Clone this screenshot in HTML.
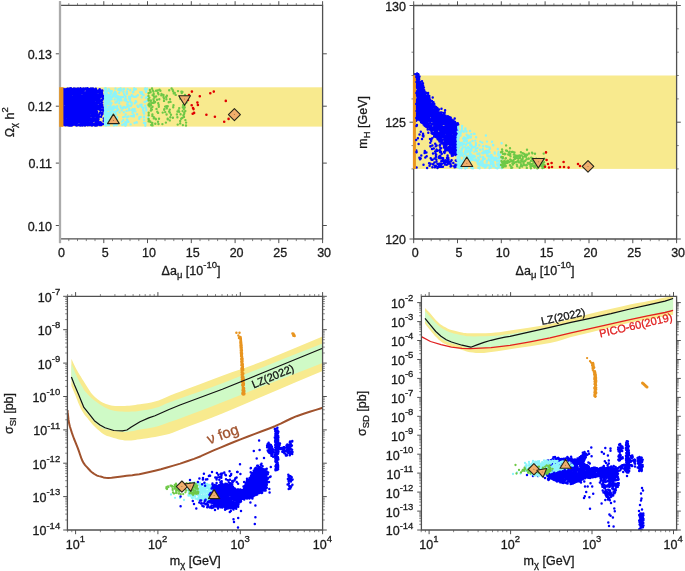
<!DOCTYPE html><html><head><meta charset="utf-8"><style>html,body{margin:0;padding:0;background:#fff;overflow:hidden}svg{display:block;will-change:transform}text{font-family:"Liberation Sans",sans-serif;stroke-width:0.3px}</style></head><body><svg width="685" height="571" viewBox="0 0 685 571">
<rect width="685" height="571" fill="#fff"/>
<defs>
<clipPath id="cTL"><rect x="60" y="5.4" width="262.6" height="233.5"/></clipPath>
<clipPath id="cTR"><rect x="413.7" y="5.5" width="262.9" height="233.5"/></clipPath>
<clipPath id="cBL"><rect x="67.4" y="296.3" width="255.2" height="233.7"/></clipPath>
<clipPath id="cBR"><rect x="421.4" y="296.3" width="255.2" height="233.7"/></clipPath>
</defs>
<g clip-path="url(#cTL)">
<rect x="60" y="87.3" width="262.6" height="39.3" fill="#f8ea8e"/>
<path d="M72.3 122.2h0M76 124.1h0M95.7 113.4h0M90.7 125.1h0M79 107.1h0M76.6 103.4h0M87.5 94.6h0M70.7 103.6h0M90.6 110.6h0M73.2 123.5h0M101.9 92.3h0M90.4 122.5h0M66.9 109.5h0M81.1 101.5h0M91.6 92.7h0M76.4 92.5h0M72 97.9h0M66.3 120.8h0M69.6 92.7h0M76.9 89.3h0M82.1 107h0M73.9 100.8h0M70.9 89.8h0M68.3 104.7h0M66.8 102.7h0M87.5 125.2h0M87.7 103.4h0M101.2 122.7h0M92.7 110h0M85.4 103.1h0M83.3 114.6h0M74.2 96.9h0M81.5 106.3h0M90.3 97.3h0M76.6 97.6h0M100 101.5h0M73.5 122.4h0M76.9 112.7h0M73.6 102.9h0M77.6 101h0M63.2 103.7h0M88.8 93.8h0M74.6 121h0M65.8 102.1h0M88.3 106.5h0M70.2 92.1h0M75.5 122.2h0M81.1 107.5h0M69.2 125.4h0M71.9 92.4h0M82.4 98.1h0M82.5 111.2h0M73.5 103.4h0M75.2 118.3h0M74.4 110.5h0M73.7 120.6h0M82.8 118h0M71.7 89.2h0M83.3 123.4h0M73.1 93.8h0M97.4 101.3h0M70.4 108.4h0M98.3 121.3h0M70.3 99.5h0M93.8 89.4h0M88.1 92.4h0M71.6 118h0M73.2 113.3h0M66.5 113.8h0M85 125.6h0M89 97.1h0M70.1 119.8h0M73.2 103h0M91.1 96.5h0M66.3 101h0M98.9 95.9h0M80.6 125.6h0M88.4 88.8h0M75.8 120.1h0M70.3 114.6h0M63.4 109.3h0M71.6 96.6h0M81.1 118.9h0M78.5 92.9h0M74.3 104.7h0M65.4 89.5h0M79.8 108.1h0M69.9 115.5h0M72.8 98.2h0M71.4 123h0M85.6 111.2h0M78 120h0M83.8 114.3h0M76.7 96.8h0M74.6 94h0M74.6 111.1h0M66.5 100.3h0M82.8 90.9h0M99.2 90.4h0M64.1 115.3h0M68 88.8h0M93.7 110.7h0M99.8 93.9h0M69.9 121.3h0M76.6 111.5h0M78.5 89.7h0M77.2 120.7h0M84.2 97.6h0M63.4 123.7h0M80.3 100.7h0M66.6 107.2h0M82.8 106h0M82.7 99.6h0M95.1 125.4h0M92 125.5h0M74.2 91.6h0M77.2 106.9h0M90.7 111.4h0M103.1 124.1h0M64.9 112.4h0M74.9 101.8h0M77.1 97.9h0M65.3 112.2h0M94.3 112.5h0M63.1 93h0M66.8 101.3h0M82.6 107.1h0M69.9 101.9h0M84.9 107.7h0M80.5 90.8h0M69.7 113.6h0M69.8 103.4h0M73.6 91.8h0M91.9 100h0M92.6 97.1h0M93 121.3h0M84.2 112.1h0M70.3 99.8h0M99.1 103.4h0M92.1 106.1h0M101.3 93.7h0M83.6 101.9h0M88.3 96.6h0M67.7 107.7h0M76 97.4h0M65.8 116h0M63.9 106.6h0M85 98h0M70.3 114.8h0M69 121.2h0M69.8 124.9h0M83.3 88.5h0M77 115.9h0M85.4 118.8h0M75.4 115.8h0M78.2 93.9h0M67.9 98h0M94.1 118.5h0M99.2 93.1h0M82.5 91.4h0M80.9 98.9h0M68.9 92h0M80.3 100.2h0M80 120.8h0M88.4 117.3h0M64.8 120.8h0M72 110.1h0M64.8 91.8h0M71.8 98.4h0M64.3 98.6h0M89.8 119.4h0M77.2 115.3h0M64.5 109.6h0M80.8 104.2h0M70 97.3h0M80.5 110.5h0M78.3 98.1h0M72.1 118.5h0M91.4 108.5h0M82.3 89.8h0M79.4 113.9h0M67.5 100.1h0M87.7 122.9h0M83.7 91.2h0M96.2 89.9h0M83.3 96.9h0M78.3 117.5h0M82.6 119.2h0M84.8 109h0M69.2 123.1h0M87.6 94.2h0M100.1 107.6h0M72.1 102.2h0M74.8 89.1h0M89.7 101.1h0M101.9 100.1h0M96.9 115.2h0M70.8 119.3h0M71.8 117h0M98.4 100.2h0M76.7 120.8h0M80.9 92.9h0M81.8 91.5h0M63.4 90.6h0M75.8 106.9h0M76.8 91.9h0M65.9 112.4h0M84 111.6h0M82.6 125.6h0M94.7 108.9h0M67 105.4h0M85.2 118.6h0M78 97.5h0M81.7 119.6h0M67.8 113.7h0M81.7 109.1h0M66.2 120.3h0M96.2 124.4h0M69.2 89h0M68.1 102.9h0M74.3 120.5h0M80.4 120h0M82.9 102h0M80.6 97.3h0M64.4 109.8h0M87.5 102.7h0M93.4 88.9h0M103.1 107.5h0M85.7 102.1h0M102 94.8h0M71.7 110.6h0M65.7 98h0M70 125.4h0M93.5 112h0M73.7 117.7h0M67.6 118.4h0M101.7 95.7h0M91 120.8h0M76.5 110.5h0M70.9 120.2h0M69.7 100h0M71.7 110.9h0M65.3 119.8h0M79.5 89.3h0M78.8 120h0M80.4 105.8h0M89.2 101.8h0M91.2 119.3h0M84.1 123.3h0M76.6 111.4h0M78.1 112.4h0M77.4 114.1h0M83.1 104.8h0M64.4 100.6h0M81.6 102.7h0M76 98.8h0M73 109.8h0M73.1 93.1h0M78.8 109.2h0M79.9 108.3h0M91.6 100.6h0M75.5 111h0M71.7 99.7h0M74.3 107.8h0M75 111.4h0M68.3 96.1h0M93.8 118.1h0M80.7 99.3h0M68.2 125.1h0M85 123.8h0M83 102h0M83.7 89.5h0M65.7 120.6h0M83.2 107.7h0M65.1 121.1h0M90.1 108.4h0M69.9 103.3h0M100.7 91.4h0M70.2 96h0M77.5 120.7h0M64.9 106.6h0M93 113.7h0M68 94.9h0M70.1 96.9h0M92.8 102.7h0M65 96.4h0M82.6 117.7h0M65.7 98.6h0M77.9 93.9h0M94.7 96.1h0M96.2 93.4h0M78.8 124.8h0M78.7 92.9h0M89.8 122.8h0M91 92.4h0M72.1 101.6h0M63 106.4h0M67.6 112.6h0M75.1 124.7h0M65.8 108.2h0M65.7 111h0M69.2 95.3h0M76.7 104.6h0M84.9 95.1h0M91.4 94.6h0M74.8 113.1h0M90.3 109.2h0M69.7 96.5h0M77.2 100.9h0M92.9 94.6h0M82 111.2h0M81.8 90.7h0M93.4 100.2h0M79.3 119.6h0M80.7 118.6h0M86.3 96.3h0M85.9 98.2h0M81.9 98.5h0M87.8 103.5h0M69.1 96h0M93.3 102.5h0M69.7 96.3h0M80.1 92.1h0M90 91.2h0M66 116.5h0M75.4 97.6h0M69.7 93h0M90.4 101.5h0M68 109.8h0M83.4 124.7h0M69.9 124.9h0M96.3 103.1h0M73 92h0M66.3 123.5h0M79.1 91.2h0M71.6 91h0M92.3 94.4h0M97.9 95.2h0M75.6 102.1h0M73.4 123.2h0M68.9 102.9h0M86.1 122.2h0M81.8 112.9h0M79.5 118.5h0M69.4 90h0M88.9 105.1h0M77.6 120.4h0M99.1 95h0M68.1 93.1h0M82.2 105h0M87 99.6h0M92.9 88.5h0M80.5 115.2h0M78.6 92.8h0M77.5 115.6h0M94.9 98.3h0M68.9 92.6h0M96.4 92.9h0M87.1 102.5h0M78.2 101.4h0M102.3 105.1h0M67.1 123.6h0M83.1 108.4h0M63.4 89.4h0M75.3 104.5h0M81.8 97.1h0M74.4 112.3h0M86.4 108.8h0M85 98.8h0M72.8 99.5h0M83.2 109.2h0M98.2 90.8h0M63.8 112h0M79.4 125.1h0M73.5 122h0M83 117.2h0M86.7 115.6h0M65.8 98.4h0M71.2 100.7h0M82 102.3h0M89.1 114.4h0M77 103.8h0M90.3 94.3h0M64.4 112.2h0M65.6 98.1h0M80.4 102.9h0M87.2 120.4h0M74.6 108.3h0M93.4 118.8h0M76.2 116.9h0M74.1 97.5h0M68.4 115.4h0M67 94.6h0M74.3 91.2h0M86.4 91.7h0M63.2 105.6h0M86.2 103.5h0M78.6 98.5h0M69.9 112.4h0M80 102.5h0M82.2 112.3h0M85.4 106.1h0M65.5 125.2h0M63.6 111.2h0M94.5 111.5h0M88.9 105.2h0M79.2 102.5h0M89.8 104.6h0M92.2 98.5h0M74.9 121.6h0M79.1 91.9h0M73.1 123.7h0M87.3 95.5h0M93.2 92.9h0M87.9 100.4h0M73.5 103.4h0M89.3 123.4h0M79.9 108.4h0M81.3 107.8h0M63.5 124h0M94.9 113.8h0M75 97.6h0M77.8 108.9h0M83.2 93.6h0M79.3 95.9h0M78.1 112.1h0M93.6 95.3h0M76.2 102.3h0M89 95.7h0M91 88.6h0M81 100h0M73.7 104.6h0M63.2 110.7h0M92.5 125h0M96.2 120h0M71.6 103.2h0M86.4 115.3h0M103.3 96.1h0M88.2 94.7h0M80 100.1h0M85.4 88.4h0M74.4 123.7h0M93.4 91h0M75.6 102h0M87.5 96.9h0M93.4 109.5h0M65.6 115.4h0M69.8 101.6h0M77.5 97.4h0M73.2 93.3h0M86.2 117h0M65 118.5h0M80.2 110.4h0M69.2 91.4h0M65.6 99.2h0M86.2 101.4h0M80 92.6h0M75.9 88.8h0M65.2 106.6h0M94.1 105.2h0M71.6 97.5h0M74 89.8h0M72.5 114.5h0M86.2 115.3h0M74.9 89.7h0M67.5 97h0M70.1 103.7h0M71.9 110.6h0M81.8 116.7h0M99.7 113h0M86 107.1h0M69.7 118.8h0M75.6 108.1h0M75.2 100.8h0M84 122.4h0M68 123.4h0M86 113.1h0M74.8 96.9h0M67.7 100.5h0M87.5 106.3h0M85.6 123.3h0M63.1 99.1h0M69.2 123.3h0M88.2 105.4h0M86.6 117.3h0M91.8 115.1h0M94.5 92.4h0M88 91h0M103.8 118.4h0M76.8 122.7h0M72.9 98.7h0M74 114.8h0M88.8 107.2h0M67.9 113.6h0M79.7 103.5h0M77.1 116.5h0M67.9 125.3h0M97 107h0M97.2 118.3h0M73.3 97.5h0M66.7 108.5h0M88.7 122.8h0M71.4 98.4h0M86.9 92.1h0M79 99.4h0M98.3 100.9h0M84.3 95.2h0M66.4 98.3h0M77.9 117.5h0M69 125.5h0M93.9 89.4h0M81.5 93.2h0M86.1 96.2h0M80.9 120.4h0M74.7 119.1h0M72.1 90h0M88.3 107.8h0M87.2 122.4h0M84.3 98.3h0M75.6 93.6h0M80.8 100.2h0M85.4 124.6h0M64.1 124.2h0M65.7 113.1h0M64.6 124.7h0M88.4 114.6h0M75.8 108.8h0M86.6 96.6h0M67.1 112.1h0M71 105.5h0M76.5 104.6h0M81.8 101.6h0M77.7 96.2h0M97.8 123.4h0M85.4 110.6h0M66.1 93h0M73.8 106.4h0M83.8 99.8h0M94.1 102.8h0M88.8 118.3h0M76.2 107.5h0M81.4 89.1h0M69.6 112h0M79.5 100.7h0M68.1 90.1h0M82.5 98.7h0M87.4 100.1h0M88.8 116.1h0M66.3 117.2h0M87.1 125.1h0M89.5 112.2h0M93 106.1h0M84.9 111h0M68.3 97.8h0M84.5 104.2h0M69.9 94.8h0M94.6 90.2h0M101.3 125h0M93.3 115.6h0M101.1 101.1h0M66.4 101.7h0M78 89h0M82.2 97.5h0M83.6 124.4h0M72.6 109.3h0M93.3 113.8h0M73.4 94.6h0M76.5 117.2h0M71.5 116.5h0M65.4 90.5h0M80.1 106.5h0M66.5 121.2h0M73.7 106h0M65.8 102.2h0M75.1 121.1h0M97.1 108.4h0M67.7 96.9h0M92.6 99.6h0M96.6 92.3h0M87.1 121.5h0M100 105.3h0M86.9 120.7h0M69.9 120.9h0M69.7 89.7h0M71 114.8h0M87.8 124.9h0M68.4 93h0M79.2 122.1h0M81.4 101.2h0M81.8 107.8h0M82.6 91.6h0M81.5 117.4h0M63.7 103.1h0M101.3 103.7h0M86.7 100.1h0M91.9 122.4h0M90.2 119h0M102.2 100.1h0M85.7 101.3h0M77.5 115.5h0M93.9 119.7h0M70.5 93.5h0M87.4 88.3h0M93.3 109.7h0M68.9 100.4h0M101.6 107.3h0M97.8 122.1h0M78.6 110h0M69.3 97.2h0M87.5 96.2h0M73.7 96.9h0M91.8 111.8h0M75.9 114.7h0M92.5 115.6h0M79 109.5h0M82.5 97.4h0M100.3 124.2h0M79.3 98.2h0M65.2 99.8h0M69.8 91.2h0M75 106.8h0M94.4 107.5h0M63 124.1h0M83.2 109.7h0M76.8 101.2h0M75.4 114.8h0M89.2 95.1h0M77.3 97.5h0M74.2 121.6h0M93.1 104.3h0M73.6 119.9h0M73.6 91.7h0M84.6 118.3h0M102.4 114h0M86.4 107.3h0M89.5 113.2h0M76.7 101.7h0M69.1 104h0M88.8 115.3h0M69.3 110.1h0M99.5 99.4h0M69.1 113.1h0M65.2 94h0M91.2 110h0M71.1 88.4h0M64.1 110.8h0M77.2 123h0M68.4 94.5h0M74.1 116.4h0M77.3 100.6h0M77.9 121.5h0M91.3 96h0M74.1 99h0M73.1 101.7h0M79.1 113h0M88.2 106.4h0M87.2 113.4h0M79.4 102.8h0M70.5 125.2h0M85.9 106.9h0M87.3 90.7h0M71.7 111.7h0M93.7 116.2h0M71.4 111.7h0M89.7 101.3h0M73 91.2h0M84.7 122.3h0M93.5 118.3h0M103 98.3h0M95 113.9h0M66.1 106.4h0M74.7 111.5h0M79.8 100.7h0M89.1 114.3h0M78.6 112.5h0M78.3 102h0M71 103.5h0M65.1 108.4h0M91.3 94.5h0M80.9 90.7h0M86.6 103.2h0M79.4 111.2h0M82.7 91.5h0M85.1 96.1h0M96.4 97.3h0M75.3 122.4h0M74.1 108.7h0M94.2 106.4h0M88.1 102.6h0M82.4 119.5h0M92.8 98.9h0M65.6 97.7h0M85.2 99.5h0M72.5 105.4h0M71.1 103.1h0M83.7 119.9h0M89.4 115.5h0M66.6 101.4h0M86.2 94.3h0M72.2 113.1h0M86.5 119h0M81.3 110.6h0M63.5 123.7h0M78.6 117.2h0M87.3 101.1h0M85.2 124.4h0M66.9 91.1h0M67.7 108h0M78.6 115.9h0M80.9 95.7h0M70.1 122h0M63.9 118.3h0M81.3 118.2h0M64.7 98.2h0M64.9 96h0M82.6 92.2h0M77.8 93.9h0M80.3 122h0M71.6 121.8h0M84.4 92.5h0M69.5 105h0M68.6 99.6h0M65.5 121.1h0M77.2 90.7h0M90 89.6h0M68.8 89.7h0M63.8 123.2h0M78.6 98.8h0M85.6 119.2h0M68.2 120.2h0M68.8 91.1h0M69.8 93.2h0M92.2 117.8h0M71.4 115.2h0M71.7 122.1h0M78.3 114.1h0M83.6 93.2h0M86.6 98.9h0M77.6 90.6h0M82.3 99.7h0M79.5 96.1h0M85.3 123h0M99.6 95.1h0M88.4 120.7h0M86.8 120.9h0M88.8 117.7h0M63.7 118.1h0M72.5 108.3h0M80 115.5h0M93.4 90.7h0M100.4 104.1h0M85.8 122.3h0M98.6 106.8h0M82.1 104.2h0M82.7 101.7h0M82 106.4h0M91.3 89.1h0M64.9 113.9h0M86.9 102.7h0M75.5 96.7h0M75 97.5h0M87.7 125h0M83.4 113.3h0M98.7 117.5h0M66.6 89.6h0M94.4 106h0M67.6 91.7h0M75.3 102.3h0M69.3 122.7h0M83.2 100.6h0M80.7 97.1h0M70.7 115.3h0M63.8 115.4h0M70.2 113.6h0M75.3 109.1h0M73.2 102.3h0M65.5 98.3h0M79.5 105.8h0M72.8 103.3h0M76.6 108h0M67.4 120.8h0M63.6 104h0M64.3 107.8h0M74.1 112.6h0M77.6 107.1h0M82.9 106.7h0M67.9 92.1h0M77.7 120.3h0M87.1 97.9h0M78 115.9h0M83.9 103.4h0M64.5 98.2h0M77.3 113.3h0M63.7 114.1h0M83 96.1h0M70.1 110.5h0M70.7 114.9h0M75.4 104.2h0M71.8 107.7h0M67.6 123.6h0M74.7 103.9h0M94.3 109.5h0M86.9 123h0M94.7 91.6h0M97.4 100.2h0M92.3 94.1h0M71.4 113.5h0M78.7 96h0M75.2 109.1h0M88.3 119.6h0M88.8 109.2h0M72.7 98.2h0M74.1 101.7h0M89.9 97.1h0M63.5 107.2h0M74 105h0M76.3 89.1h0M100.6 109.5h0M65.7 102.8h0M82.2 106.5h0M83.3 107.6h0M87.7 104.6h0M92.3 89h0M63.6 108.7h0M73 97.5h0M80.6 123.4h0M77.4 116.6h0M80.9 106.1h0M87.9 100.3h0M77.4 111h0M74.4 92.9h0M84.4 122.2h0M70.3 117.3h0M79.2 104.2h0M71.7 109.7h0M68.1 99.7h0M80.1 106.8h0M73.7 100.7h0M73.5 90.9h0M80.6 117h0M88.5 91.8h0M71.7 104.6h0M82.9 124.6h0M95.4 110h0M87.6 121h0M76.7 94.2h0M68.9 89.9h0M81.3 118.9h0M82.1 123.9h0M74.4 112.6h0M79 115.6h0M78.6 115.6h0M67.5 115.1h0M87.8 103.9h0M73.5 118.2h0M85.8 115.6h0M78 88.4h0M71.7 101.7h0M74.5 103.1h0M86.7 101.7h0M75.3 93.3h0M89.2 98.5h0M93.3 96.4h0M99.2 92.5h0M82.9 111.1h0M71.9 104.3h0M65.2 102.8h0M67.8 95.9h0M67.8 105.5h0M75.2 105.4h0M77 98.4h0M103 97h0M68.8 115.8h0M88.5 118.5h0M64.3 119.3h0M67.5 104.7h0M78.9 90.7h0M83.2 91.7h0M95.5 96.5h0M82.6 110.4h0M74.3 89h0M95.7 123h0M71.2 91.4h0M64 91.2h0M71.3 118h0M80.2 108.5h0M103.1 109.7h0M84.1 123.2h0M79.7 112.2h0M78.2 108.5h0M93.5 124.8h0M94.6 125.3h0M69 125.5h0M65.1 115.8h0M75.4 93.9h0M76.6 110.7h0M78.9 116.5h0M86.3 118.6h0M74.2 89.7h0M78.5 96.7h0M71.9 102.2h0M79.4 101.3h0M81.4 116.2h0M85.5 103.2h0M70.7 109.5h0M81.3 117.3h0M68.4 120.9h0M73 107.7h0M76.5 122.6h0M81.9 97.6h0M63.6 101.5h0M85.7 100.8h0M66.1 124.9h0M83.7 89.2h0M68.9 98.7h0M72.1 113.4h0M93.8 89.8h0M86.4 124.5h0M87.1 96.3h0M71 102.7h0M84.2 110.6h0M99.8 101.7h0M80.7 103.1h0M65.9 122.9h0M66 104.6h0M80.2 116.3h0M69.2 104.7h0M89.8 116.7h0M101.1 116.7h0M82.3 102.7h0M66.1 101.6h0M72.5 121.6h0M96.1 125.4h0M87.2 99h0M100.7 94.2h0M78.3 95.4h0M63.1 108.1h0M82.2 104.4h0M68.7 95.1h0M69.5 107h0M71.8 89.6h0M71.3 105.1h0M80.3 118.2h0M86.1 122.7h0M96.9 113h0M64.2 121.9h0M65.5 91.2h0M77.1 89.5h0M80.3 102.2h0M67 112.6h0M73.4 120.7h0M89.8 109.4h0M65.8 117.4h0M81.5 105.3h0M74.8 117.5h0M83.2 119.2h0M64.6 123.8h0M100.6 90.6h0M94.3 103.7h0M80.3 98.8h0M86.2 111.3h0M87.8 116.9h0M99.7 89.2h0M72.6 97.8h0M85.5 100.2h0M85.3 117.1h0M89 88.9h0M67.2 94.1h0M74.5 111.8h0M73.6 95.8h0M83 124.7h0M87.1 96.4h0M80.7 121.8h0M79.9 95.6h0M85 105.3h0M68 98.9h0M83.5 120.5h0M63.5 109.1h0M103.3 111.1h0M85.9 113h0M96.5 95.8h0M72.5 107.9h0M65.7 94.6h0M83 106.3h0M73.8 94.4h0M73.7 91.4h0M78.7 115.1h0M72.1 123.2h0M73.2 93.4h0M87.8 112.2h0M89.5 114.9h0M69.6 119.4h0M63.3 110.6h0M70.2 123.3h0M82.6 123.7h0M81.6 109.7h0M84 114.2h0M92.4 92.5h0M98.4 108.4h0M83.2 105.2h0M94.8 111.7h0M63.2 95.5h0M71.7 121.9h0M73.1 111.6h0M79 103.8h0M70.1 97.7h0M97.2 125.2h0M69.5 122.1h0M69.4 120.5h0M77.8 103.2h0M82.5 120.2h0M98.2 105.9h0M87.2 119.3h0M74.9 119.9h0M69.2 122.8h0M86.4 97.2h0M94.6 91.4h0M81.1 114.8h0M72.3 96.7h0M75.4 122.6h0M81.5 115.6h0M67.3 106.9h0M65.9 109.2h0M74.7 110.5h0M63.1 124.4h0M84.5 110.5h0M63.8 94.5h0M89.6 113.8h0M93.2 108.8h0M98.5 119.3h0M93.1 109.3h0M85.6 123.5h0M78.6 115.6h0M76.5 122.1h0M87.6 95.9h0M94.4 113.2h0M72.7 122.8h0M67.9 114.8h0M63.4 110.1h0M66.2 111.7h0M77.9 99.6h0M76.3 90.7h0M64.2 115.7h0M97.7 108.2h0M81.5 115h0M84.8 120.6h0M89.2 92.9h0M67.1 99.9h0M84.3 94.4h0M74.8 119.6h0M73 109.6h0M64.1 97.6h0M82.8 105.3h0M66.6 90.4h0M87.5 107.1h0M88.7 118.4h0M100.6 110.3h0M83.2 107.8h0M96.8 96.7h0M70.3 89h0M65.6 120.3h0M69.6 119h0M64.8 102.3h0M85 105.4h0M72.3 93.1h0M75.8 103.9h0M72.3 115.5h0M84.3 89.8h0M67.4 107h0M70.3 88.5h0M72.1 105h0M90.6 91.4h0M81.4 118.4h0M67.5 111.4h0M77.9 119.8h0M71.9 114.5h0M99.8 125.1h0M83.4 94.1h0M70.9 99.5h0M66.3 120.4h0M71.7 117.5h0M93.5 110.2h0M66.9 104.9h0M101.6 110h0M83.4 107h0M91.7 111h0M66.7 99.1h0M76.9 96.7h0M85.4 102.6h0M88.5 114.5h0M77.2 118.3h0M73.4 111.4h0M79.8 97.3h0M93 92.4h0M89.8 119.5h0M83.1 106.8h0M70.9 113.5h0M99.5 99.8h0M79.2 111.7h0M63.9 90.2h0M84.9 93.6h0M82.4 90h0M74.2 102.8h0M84.9 95.9h0M64.5 95.9h0M86.8 94.2h0M77.2 114.2h0M76.8 105.5h0M93.2 119.3h0M79.8 93.4h0M89.1 114.3h0M90.5 113h0M68.9 92.7h0M84.1 90h0M69.5 91.2h0M66.3 96.8h0M98.5 92.2h0M63.2 102.8h0M67 95.2h0M69.2 96.9h0M66.6 90h0M89.5 107.2h0M92.9 107.9h0M65.5 120.7h0M77 90.8h0M82 89.5h0M92.4 103.2h0M87.1 103.8h0M71.1 104h0M72.3 120.6h0M68.6 121.5h0M73.4 119.3h0M84.2 107.4h0M67.6 107h0M96.2 124.5h0M94.4 100.4h0M102.2 105.9h0M86 111.4h0M91.4 103.9h0M74.6 95.2h0M89.3 107.7h0M70.9 121.5h0M77.8 111.5h0M71.2 94.4h0M82.6 113.1h0M88.7 119.8h0M98.9 116.6h0M78.7 108.2h0M71.1 119h0M75.5 118.4h0M86.5 109.7h0M80.4 112.1h0M85.9 110.4h0M82.4 111.9h0M64.3 100h0M94 121h0M69.6 92.6h0M86.8 104.6h0M88 114.2h0M98.4 97.5h0M80.4 88.5h0M67.5 119.9h0M80.5 88.3h0M97.1 98.2h0M73.5 113.5h0M102.3 90.8h0M69 91.1h0M91.6 111.4h0M95.7 108h0M72.8 91.1h0M93.5 91.7h0M100.6 97.2h0M76.5 89.9h0M73.7 103h0M75.8 112.3h0M83.8 122h0M76.7 120h0M102.2 90.6h0M94.8 119.8h0M86.3 89.5h0M68.3 95.8h0M83.1 95.9h0M76.3 124.8h0M84 116.3h0M76.9 93.5h0M67.3 108.9h0M68.2 93.2h0M84.5 105.9h0M96.7 113.4h0M90.4 99.6h0M97.1 122.7h0M87 117.7h0M93.5 118.2h0M86.8 93.7h0M82.3 110.5h0M95.2 109.3h0M76.2 113.1h0M70.3 125.3h0M67.8 102.7h0M66.8 98.7h0M91.8 99.2h0M74 88.4h0M69.3 88.7h0M83.7 109h0M92.2 123.5h0M63.9 119.9h0M94.1 120.7h0M72.5 110.3h0M86.4 106.6h0M72.5 115.9h0M63.1 98.2h0M90.3 93.3h0M81.3 108.2h0M73.9 94.3h0M69.9 109.5h0M68.1 109.1h0M87.7 117.1h0M89 111.6h0M74.9 109.1h0M90.1 115.8h0M93.1 92.3h0M103.7 98.6h0M94 124h0M74.9 93.3h0M81.1 89.7h0M73.7 97.6h0M78.5 110.2h0M69.4 93.2h0M69.4 106h0M80 119.1h0M81.3 124.3h0M64.9 102.9h0M97 102.2h0M87.3 92.3h0M84.2 96.4h0M85.7 110.9h0M94.6 101.5h0M87.7 116.5h0M68.6 106.6h0M95.2 120.5h0M76.4 117.3h0M71.4 109.6h0M86.1 116.5h0M75.4 101.9h0M96.3 100.2h0M66.8 123.6h0M92.5 105h0M76.3 90.4h0M64.6 125.1h0M78 105.7h0M79.6 110.7h0M92.1 96.5h0M69.9 96.7h0M66.6 89.1h0M85.3 112.1h0M98.6 124.4h0M87.5 108.5h0M89.9 97.9h0M75.6 90.6h0M80 90.9h0M86.7 107.6h0M78.1 96.8h0M75.8 110.6h0M63.1 95h0M74.4 90.7h0M69.3 116.2h0M80.2 117.9h0M88.9 116.4h0M66.8 91.2h0M99.3 109.4h0M81.5 115.3h0M67.2 109.3h0M67.1 90.5h0M69 109.3h0M82.7 117.4h0M81.6 121.5h0M68.7 119.4h0M69.1 120.3h0M81 98h0M76.5 91.4h0M85.1 101.9h0M86.6 106.6h0M88.3 97.3h0M82 102h0M85.9 122.2h0M90.7 109.8h0M73.6 97.1h0M90.7 101h0M89.7 104.1h0M73.9 116h0M75.6 120.6h0M90.4 95.6h0M65.3 93h0M76.6 115.7h0M78.7 91.4h0M68.2 104.4h0M88.9 104.8h0M65.8 112.7h0M84.9 94.2h0M77 122.1h0M89.5 111.4h0M95.9 123.5h0M86.1 97h0M72.6 113.7h0M79 98.9h0M82.8 104.2h0M90.3 124.1h0M79 93.3h0M73.1 106.5h0M83 91.6h0M99.2 114.2h0M67.8 108.6h0M69.7 101.7h0M66.1 95.4h0M69.1 104.8h0M76.4 93.1h0M79.4 109.2h0M77.2 89.1h0M84.4 117.7h0M66.3 96.6h0M84.5 122.2h0M81.1 116.3h0M86.5 93.6h0M79.8 124.8h0M66.9 124.2h0M102.9 109.7h0M69.7 106.8h0M100.4 112.6h0M67.8 109.3h0M81.4 110h0M75 116.8h0M73.8 113.4h0M84.1 124.1h0M84.5 112h0M84.8 117.7h0M90.6 120.7h0M85.4 108.3h0M97.4 103.7h0M71.1 103.2h0M87.4 97.1h0M85 125.6h0M82.1 93.4h0M92.9 89.5h0M87.4 120h0M86.3 120.2h0M80.2 104.7h0M92.2 118.9h0M66.5 94.4h0M83.7 121.1h0M77.6 120.1h0M80.5 92.4h0M86.1 99.5h0M84.4 111.3h0M93.4 100.6h0M81.4 112h0M65.1 122.7h0M100.7 103.8h0M98.7 122.7h0M79.1 117.4h0M90.2 110.5h0M90.7 98.4h0M89.7 115.2h0M93.4 119.8h0M68.1 93.8h0M74.3 113.2h0M88.4 104.8h0M97.3 116.8h0M91.8 91h0M70.4 115.3h0M90.1 98.5h0M97.2 92.2h0M85.9 101.6h0M81 121.3h0M69.8 114.8h0M67.1 122.3h0M75.6 95h0M92.2 103.1h0M69.9 123.6h0M80.6 92.8h0M87.1 119.9h0M83.7 90.9h0M79.3 96.4h0M94.5 108.2h0M85.8 115.9h0M76.4 100.1h0M88.8 100.6h0M66.1 120.1h0M78.6 121.9h0M87.8 93.8h0M79.4 95.7h0M70.1 102.1h0M82.2 111.8h0M77.1 91.9h0M65.1 122.9h0M73.3 117.3h0M80 88.9h0M80.2 113.2h0M72.2 110h0M78.9 106.6h0M85.9 112.6h0M70.6 116h0M87.1 115.2h0M81.2 103.5h0M71.2 103.6h0M77.1 96.2h0M87.5 121.4h0M97.1 99.9h0M86 114.8h0M90.5 98.6h0M79.6 99.7h0M77.3 110h0M82.6 114.4h0M85.9 103.7h0M95.8 89.5h0M73.7 99.2h0M76.3 89.8h0M78.8 94h0M85.9 96.4h0M64.6 122.8h0M95 104.4h0M95.3 112.1h0M68.1 110.1h0M68.9 98.4h0M79.9 107.3h0M65.9 89.2h0M65.8 124h0M93.8 107.9h0M95.2 95.9h0M84 108.5h0M82.8 113.1h0M70 97.4h0M70.6 104.3h0M69.1 91.2h0M73.5 98.7h0M87 122.2h0M88.1 125.1h0M76.3 99.6h0M83.2 89.2h0M88.8 110.7h0M74.6 121.1h0M70.8 106.8h0M77.8 112h0M76.1 104.9h0M68 94.5h0M76.1 125.2h0M73.1 124.7h0M97.1 102.1h0M69.7 98.1h0M83.9 112.6h0M94.4 99.5h0M75.3 119h0M70.7 97.9h0M88.3 97.7h0M79.7 96.7h0M83.1 92.6h0M66.8 107.7h0M103.7 120.9h0M71.9 100.8h0M75.8 109.1h0M103.9 97h0M77.1 93.8h0M82.6 93.2h0M82.6 96.8h0M77 92.3h0M74.2 124.4h0M70 90.4h0M96.3 122.1h0M74.1 116.3h0M79.3 95.3h0M79 110.8h0M89.8 100.9h0M69.4 102.9h0M68.9 116.5h0M89.6 94.6h0M74.7 95.9h0M74.5 107.1h0M96 124.6h0M90.6 107.3h0M69.5 90.3h0M70.5 100h0M85 113.6h0M95.3 115.9h0M79.3 118.4h0M63.4 115.7h0M74.7 90.4h0M72.3 102.4h0M69.4 118.8h0M79.5 96.6h0M74.4 112.8h0M89.2 124.9h0M102.5 113h0M86.8 112.9h0M65.8 105.1h0M64.2 121.2h0M92.9 95.1h0M88.1 108.9h0M79.1 92.3h0M97.2 122.6h0M90.8 112.4h0M92.3 94.5h0M89.8 106.9h0M81.6 89.3h0M81.8 120.7h0M72 110.2h0M77.5 100.6h0M63.7 117.5h0M86.9 89.5h0M88.8 112.7h0M93.7 110.8h0M74.1 120.1h0M78.9 112.6h0M73.3 122.3h0M78.5 118.7h0M73.6 121.3h0M68.8 118.7h0M70.1 90.5h0M70.5 95.6h0M72.2 111.6h0M63.5 100.9h0M64.6 108h0M92.8 119.3h0M83.4 112.9h0M82.7 103.4h0M89.6 93.2h0M99.8 91.4h0M86.2 119.2h0M85.9 117.8h0M97.7 115h0M102.2 102.4h0M88.4 100.6h0M71.1 116.7h0M88.4 96.9h0M72.9 104.2h0M97.5 99.2h0M83.1 105.8h0M80.9 107.3h0M68 90.3h0M91.5 98.3h0M71.9 119.5h0M67.9 104.4h0M68.2 90.6h0M75.9 105.6h0M82 92.2h0M73.1 114.1h0M97.1 105.2h0M64.5 121.2h0M99.8 93.1h0M80.4 115.8h0M89.2 105.7h0M82.2 90.7h0M80.6 115.3h0M81 100.9h0M72 123.8h0M69.3 110h0M63.7 111.2h0M76.6 106.3h0M72.1 119.5h0M67.8 114.1h0M66.6 104h0M76.4 116.7h0M74.8 115.1h0M79 117h0M76.3 121.4h0M84.3 97.7h0M75.6 114.5h0M92.2 104.1h0M64.9 100.2h0M99.1 101.6h0M73.5 105.2h0M63.5 116.4h0M93 88.9h0M71.3 113h0M81 122.1h0M76.8 125.5h0M85.2 115.8h0M99.9 123.7h0M78.1 109.4h0M93.7 111.7h0M86.7 122.4h0M67.5 116.7h0M91.9 123.8h0M81.7 125.2h0M79.6 89.8h0M94.3 109.3h0M91.5 101.6h0M73.2 90.3h0M95.1 89.5h0M73.7 106.7h0M101.9 99.9h0M64.2 97.6h0M97.7 95.6h0M83.8 97.5h0M63.4 122.1h0M69.7 95h0M72.6 105.8h0M67.9 114h0M72.3 123h0M67.1 94.5h0M84.2 100.7h0M70.6 97.6h0M72.7 108.5h0M96.3 117.9h0M73.2 118.4h0M77.4 108.3h0M69.2 95.2h0M90.7 102.2h0M84.5 110.6h0M76.5 108.7h0M87.8 106.6h0M71.8 125.5h0M92 115.9h0M90.8 99.7h0M77.6 94.8h0M63.1 96.8h0M77 119h0M70.3 123.2h0M88.5 96.1h0M73.3 106.3h0M69.9 93.4h0M80.8 111.8h0M85.7 96.4h0M65.6 104.1h0M71.4 116.5h0M78.7 93.3h0M75.3 107.4h0M69.8 101h0M87.2 92.3h0M76.4 94.5h0M102.3 94.3h0M93.6 110h0M71.4 110.8h0M89.4 103.3h0M90.1 124.3h0M82.3 114.6h0M79.2 121.1h0M63.3 109.2h0M87.8 118.2h0M92.6 111h0M79 89.3h0M69 105.3h0M94.9 105.7h0M89.4 102.3h0M69.1 101.2h0M94.4 115.8h0M67.8 103.6h0M75.8 107.3h0M64.6 100.4h0M70.9 89.3h0M97 111.7h0M94 111h0M98.7 102.4h0M83.9 97.4h0M91.2 105.6h0M92.9 108.3h0M65.9 93.4h0M97.5 98.8h0M82.8 121.2h0M80.5 101.1h0M68.6 89.3h0M98.6 98.6h0M89.3 92.4h0M73.1 123.6h0M77.6 107.4h0M82.8 90.1h0M71.1 109.7h0M87.4 109.4h0M81.9 103.3h0M94.8 110.8h0M82.9 93.1h0M85.7 111.8h0M75.2 108.9h0M76.2 117.6h0M67 115.4h0M77.6 122h0M79.4 114.4h0M82.2 102.1h0M90.9 92.4h0M96.7 93.5h0M70.4 121.5h0M70.7 88.7h0M68 116.7h0M89.4 97.6h0M81.7 90.6h0M84.3 105.5h0M89.1 89.8h0M94.4 103.5h0M64 117.5h0M69.9 108.6h0M80.7 105.6h0M79.3 125.3h0M69.2 114.6h0M67.7 98.4h0M81 123.7h0M67.6 98h0M95.8 88.7h0M87.6 109.2h0M78.1 99.1h0M71.5 97.9h0M68.1 112.6h0M71 106.9h0M99.6 101.1h0M69 109.8h0M66.2 112.1h0M89.7 119.1h0M90.6 109.2h0M73.8 91h0M80.8 109.8h0M80.1 90.3h0M96.4 105.4h0M89.8 115.9h0M69.8 120.3h0M78.2 96.7h0M88.2 93.7h0M70.3 107.6h0M70.9 101.9h0M63.1 106.2h0M94.9 96.9h0M63.6 109.1h0M63.7 88.9h0M84.9 97.7h0M73.8 94h0M86.6 111.6h0M77.2 102.2h0M93.8 97.7h0M63.1 103h0M94.4 93.6h0M74.1 98.8h0M91.5 105.3h0M78.6 114.5h0M75.1 114.3h0M86.7 99.6h0M100.3 122.3h0M68.4 100.6h0M91.8 113.5h0M86.2 94.8h0M67.5 88.7h0M91.6 111.8h0M71.9 124.8h0M79.2 103h0M65.8 117.2h0M89.9 118.4h0M80.5 90.4h0M76.7 96.8h0M72.4 90.3h0M73 88.9h0M79.4 104.7h0M97 109.2h0M68.5 120.9h0M64 109.1h0M95.2 112.8h0M93.1 103.4h0M100.7 110.5h0M68.9 118.6h0M65.2 111.8h0M77.7 98.9h0M92.8 108.4h0M86.5 108.2h0M83.7 112.4h0M65.2 102.5h0M92.8 95.6h0M71.4 92.5h0M83.9 101.8h0M82.8 123.6h0M78.4 111.4h0M89.2 101.9h0M67.5 114h0M67.2 106h0M68.9 90.9h0M71.1 95.9h0M71 88.6h0M76.5 104.4h0M88.4 122.4h0M69.6 102h0M67.9 96.1h0M73 96.8h0M69.9 104.4h0M64.7 114.8h0M101.8 114.8h0M86.5 91.9h0M90.7 89.5h0" stroke="#0000fa" stroke-width="2.5" stroke-linecap="round" fill="none"/>
<path d="M142.1 107.2h0M140.7 117h0M105.1 107.2h0M127 93.8h0M126.2 124.7h0M146.3 110.6h0M134.8 89.6h0M106.1 112.6h0M105 92.3h0M138.2 106.9h0M125.3 122.3h0M105.7 107.8h0M105.1 107.2h0M144.1 120.1h0M106.5 118.9h0M117.4 95.9h0M105.4 95.8h0M117 97.6h0M113.1 95.3h0M105 92.7h0M114.5 117.8h0M105.1 116.3h0M105 88.7h0M110.1 90.8h0M107.3 122.9h0M111.2 108.8h0M115.6 111.4h0M110.6 92.8h0M115.5 92.5h0M107.2 117.4h0M108.7 106.8h0M130.7 105.9h0M105.3 114.2h0M107 96h0M126.7 92.8h0M125.7 96.5h0M121.7 97h0M108.4 90.7h0M124.6 100.3h0M130 99.1h0M105 118.8h0M145.2 105.6h0M105 100h0M117.7 122.2h0M105 122.6h0M140.3 105h0M116 114.5h0M114.2 94.9h0M124 107h0M141.7 92.3h0M124 88.9h0M115.4 102.5h0M120.6 88.4h0M132.9 96.3h0M141.6 104.8h0M108.3 101h0M105 92.5h0M111.7 113.4h0M105.5 92.7h0M126.5 101.3h0M124.5 95.3h0M107.6 112.8h0M122.9 97.1h0M111.9 114.4h0M105 122.7h0M118.3 123.1h0M114.8 106.8h0M105.8 124.2h0M106.7 103h0M125.3 98.3h0M111.3 97.6h0M107.4 110h0M105.1 105h0M114.7 107.2h0M109.6 97.3h0M105.1 109.4h0M130.7 102.3h0M134.4 96.9h0M126.9 91.5h0M105.2 118.2h0M108.9 108.8h0M108.3 122.2h0M105.1 97.1h0M105 97.8h0M112.5 107.1h0M108.5 124.3h0M105.3 105.4h0M126.9 119.6h0M106.2 103.1h0M111.3 121.3h0M109.7 100h0M105.1 112.4h0M134.6 123h0M112.4 110.7h0M112.6 96.8h0M115.4 118h0M107.3 117.2h0M127.4 120.9h0M107.4 116.5h0M110.8 92.1h0M120.7 98.9h0M109.6 107.4h0M105 103.4h0M105.1 125.1h0M105.3 94.7h0M132.9 92.3h0M108.5 122.3h0M106.4 101.3h0M109.4 96.2h0M133.9 115h0M105 118.3h0M106.1 116h0M107.1 93.6h0M105.9 123h0M109 117.2h0M125.4 125.5h0M109.4 114.4h0M105.3 96.7h0M106.6 121h0M106.8 121.3h0M105 104.5h0M106.8 98.7h0M105 112h0M105 108.8h0M113.4 106.4h0M141.7 97.3h0M105 117.4h0M105 116.9h0M117.2 106.1h0M146.1 91.9h0M111.8 115.1h0M111.5 120.4h0M142.3 93.6h0M139.2 118.7h0M109.6 123.1h0M109.2 96.7h0M105 111.8h0M105 102.3h0M105.6 116.6h0M133 116.2h0M128.3 105.6h0M105.1 120.7h0M141.4 93.8h0M126.8 107h0M106.7 112.6h0M105 117.1h0M109.7 112.5h0M106.2 105.9h0M106.3 112.6h0M128.6 116.5h0M117.5 108.6h0M105.4 100.9h0M124.7 124.1h0M123.4 91.7h0M111.5 103.1h0M109.6 97.3h0M117 107.8h0M145.4 122.9h0M106 114.3h0M105.3 92.6h0M130.2 90.3h0M144.1 113.7h0M112.7 119.6h0M111.1 93h0M105.4 90h0M105.2 95h0M123.8 124.2h0M105.1 111.7h0M105.3 116.3h0M110.9 104.1h0M135.3 111.3h0M105.5 115.3h0M105.1 100.5h0M109.5 119.6h0M106.6 91.5h0M107.1 109h0M105 115.3h0M111.7 123h0M105 111.4h0M110.7 93.4h0M105.8 112.5h0M105 99.8h0M117.4 99.9h0M106.5 125.2h0M112.7 116.5h0M128 102.2h0M108.2 103.7h0M105.2 117h0M105.2 98.6h0M108.6 121.9h0M105 123.4h0M108.4 114.7h0M106.4 106.7h0M137.5 105.8h0M105.6 120.1h0M145.3 125.5h0M112.1 123h0M107.5 114h0M134.2 88.4h0M131.7 104.5h0M131.6 95.9h0M122 121.6h0M105 105.3h0M108.4 113.3h0M145.3 88.4h0M116.5 102.4h0M127.2 104.3h0M105.8 104.8h0M106.9 124.3h0M118.3 99.6h0M106.5 94.1h0M144 117.3h0M129 110.3h0M114.8 96.2h0M130.6 124.4h0M110.5 105.8h0M105.7 88.4h0M147.1 88.8h0M119.2 103.2h0M105.4 94.5h0M106.5 91.4h0M109.7 91.4h0M105.2 111.1h0M147 100.7h0M118.3 109.7h0M118.9 96.6h0M121 90.3h0M105.5 120h0M118.9 89.2h0M106.3 95.1h0M105.7 103.1h0M137.1 114.2h0M135.8 101.2h0M123.4 89.3h0M110.5 94.2h0M117 118.7h0M133.3 110.9h0M108.4 98.7h0M105.3 119.8h0M145.9 97.7h0M106.2 118h0M124 106.9h0M105.1 106.7h0M111.5 103.1h0M126.5 110.9h0M144.2 113.5h0M126 99.5h0M143.9 122.9h0M105.1 116.8h0M129.1 108.4h0M106.5 122h0M105.1 91.9h0M109.4 120.6h0M109.5 116.2h0M134.6 109h0M144.9 89.2h0M106.8 103h0M107.5 101.8h0M112.5 109.5h0M110.2 104.6h0M111.8 91.3h0M117.2 117.3h0M109.5 113.7h0M144.6 101.9h0M111.2 119.7h0M122.8 108.2h0M106.3 95.7h0M105.3 90.9h0M111 122.4h0M119.5 112.4h0M115.3 113.5h0M105.1 115.6h0M136.3 102.1h0M129.2 98.5h0M141.2 105.8h0M113.3 96.3h0M120.9 107.6h0M119.4 99.2h0M105.3 88.8h0M105.1 92.4h0M105.7 124h0M131.5 110.2h0M105 116.4h0M133.4 92.1h0M114.7 99.5h0M105.4 112.5h0M136.2 96.5h0M109.6 109h0M105.4 88.9h0M106.3 104.9h0M108.8 96h0M111 92.6h0M105.1 120.4h0M105 100h0M105.7 95.3h0M132.7 109.1h0M105 109.3h0M110.8 98.6h0M143.3 107.9h0M105.2 123.3h0M140.2 92.3h0M106.6 93.5h0M120.1 90.6h0M123.4 107.1h0M147.3 96.7h0M107.7 122.6h0M105.2 122.6h0M105 116.7h0M145.1 102h0M120.4 106.1h0M137.8 95.2h0M105 119.8h0M144 116.6h0M134.8 103.2h0M115.5 92.2h0M123.8 112.3h0M113.9 120.7h0M145.3 124.3h0M132.6 113h0M105 103.7h0M106 125.4h0M105.1 118.5h0M108.1 116h0M105.3 99.3h0M108.9 125h0M114.1 108.6h0M105.6 124.1h0M127.7 89.1h0M146.3 109.7h0M105.8 108.8h0M110.3 122.8h0M128.5 121.8h0M107.9 113.4h0M131.6 102.6h0M110.4 113.5h0M115.9 97h0M105.4 114.6h0M138.5 106.8h0M130.1 100.7h0M105.5 111.8h0M105.2 109.4h0M116.1 93.8h0M125.9 124.2h0M117.8 98.6h0M110.8 119.5h0M113.4 122.4h0M145.8 107.8h0M126.6 122.4h0M124 124.2h0M134 89.9h0M105.6 106.6h0M105.3 114.8h0M122.2 124.7h0M109.4 117.4h0M125.7 125.3h0M105 107.1h0M125.7 114.4h0M106.5 94.7h0M105.8 103.9h0M116.2 96.4h0M107.9 123.8h0M147.9 117.6h0M136.5 122.2h0M106.2 101.5h0M124.8 116.6h0M105.1 95.9h0M117.2 108.8h0M110.9 111.6h0M143.8 111.8h0M127.6 120.3h0M130.2 97.4h0M123.2 117.1h0M111.7 108.7h0M108.3 99.3h0M109.1 120.2h0M107.4 96.1h0M105.1 99.8h0M126.2 99.5h0M113.9 112.3h0M105.5 92.8h0M105.8 119.9h0M108.5 101.5h0M131.8 95.1h0M107.8 94.9h0M105 122.2h0M105 114.9h0M111.1 108.7h0M128.6 105.4h0M108.6 123.3h0M118.4 89.7h0M113.6 107.3h0M113.6 116.5h0M107.7 123.4h0M105.1 113.1h0M111.2 113h0M112.6 120.5h0M106.1 120.9h0M105.1 101.7h0M105.1 100.4h0M119.3 100.7h0M114 125.3h0M110.5 92.5h0M121.6 110.4h0M106.4 101.7h0M131.2 116.1h0M112.2 118h0M113.9 93.2h0M105.1 112.5h0M115 91.7h0M105.6 88.3h0M119.8 89.5h0M105.7 122.9h0M105.1 94.5h0M115.7 124.7h0M106 107h0M129 96.7h0M108.7 121.9h0M125.4 107.7h0M120.4 97h0M108.8 99.2h0M111.3 93.6h0M127.2 117h0M105.5 112h0M123.2 120.2h0M110.4 95.6h0M106 119.3h0M105 120.9h0M146.2 89.7h0M105.9 105.5h0M116 121.3h0M105 88.8h0M119.2 92.7h0M128.2 121.9h0M105 106.7h0M110.5 102.3h0M116.7 125h0M143.4 95h0M132.8 115.9h0M105.3 109.7h0M105.2 107.9h0M105 120.9h0M136.8 122.6h0M107.3 119.6h0M106 110.2h0M111.6 99.2h0M142.3 94.3h0M108.7 89.3h0M106.4 104.4h0M115.5 122.9h0M108.1 99h0M135.9 89.3h0M133.9 116.4h0M109.4 109.8h0M124 94h0M116.9 101.7h0M108.6 102.2h0M139.5 117.3h0M115.5 88.6h0M108 97.7h0M116.8 111h0M116.6 107.8h0M108.4 99h0M143.1 109.9h0M143.4 112.2h0M105 114.1h0M109.9 94.9h0M115.4 118.5h0M105.9 89h0M127.9 106.2h0M121.4 100.4h0" stroke="#8cf4fa" stroke-width="2.4" stroke-linecap="round" fill="none"/>
<path d="M164 100.9h0M184.3 102.9h0M185.3 111h0M160.4 90.8h0M169.2 90.3h0M170.3 117.2h0M153 102.9h0M149.6 106.4h0M158.7 105h0M158 93h0M173.2 107.2h0M148.6 104.8h0M154.5 97.5h0M166.6 114.5h0M186.5 102.5h0M150.3 92h0M156.1 90.8h0M184 114.6h0M150.6 92.3h0M166.4 99.3h0M166.4 106.3h0M184.2 106.2h0M163.5 97h0M186 125.5h0M167.7 118.6h0M152.4 114.5h0M169.8 120.4h0M183.8 108.9h0M157.3 111.8h0M169.8 112.5h0M149.9 89.9h0M152.5 106.7h0M155.9 119.3h0M177.5 111.5h0M164.2 109.8h0M153.8 117.1h0M156.5 108.9h0M158.2 103.2h0M178.6 110.1h0M178 91.1h0M184.3 112.9h0M173.8 93.4h0M148.7 115.2h0M151.5 102.7h0M179.2 111.7h0M161.5 94h0M159 118.8h0M182.6 111.1h0M168.7 102.3h0M173.5 105.2h0M186.1 122.6h0M173.1 91.2h0M163.5 94.9h0M165.9 122.6h0M148.5 95.9h0M181.2 118.8h0M161.3 95.2h0M154.6 102.6h0M154 96.5h0M151.2 108.5h0M150.9 105h0M151.3 125h0M171.6 88.4h0M155.4 118.6h0M167.7 106.2h0M184.7 107.4h0M170.5 101.9h0M181.8 93.1h0M156.1 96.4h0M180.6 114.2h0M159.5 89.6h0M150.9 100.4h0M183.1 105.1h0M180.2 123.4h0M166.9 95.8h0M153.8 118.4h0M169.8 109.6h0M152 88.5h0M185 95h0M148.6 121.3h0M148.6 93.3h0M176.9 114.4h0M175.7 94.9h0M182.4 117.9h0M153.5 91.6h0M158.5 124h0M159.3 99.2h0M148.6 104.5h0M181.4 91.8h0M148.5 98.9h0M185.4 120.1h0M148.7 112.8h0M177.7 124.6h0M171 114.8h0M150.7 101h0M150.4 121.7h0M158.5 94.2h0M153.5 99.2h0M167.1 106.4h0M151.9 109.6h0M148.6 105.3h0M152.8 90.4h0M148.6 100.6h0M158 121.8h0M165.2 112.1h0M150.9 110.6h0M184 116.9h0M180.4 98.7h0M153.8 101h0M152.3 122.9h0M152.4 115.9h0M152.5 125.4h0M179.2 108.1h0M170 99.2h0M184.3 105.2h0M167.7 119.2h0M182.4 92h0M183.4 115.3h0M166.2 97h0M148.6 99.4h0M164 98.5h0M155.1 102h0M174.8 93h0M172.6 89.7h0M149.4 103.4h0M180.6 97.6h0M169.1 111.5h0M157.5 90.5h0M148.6 118.9h0M177.4 117.2h0M151.1 110.4h0M155.3 123.7h0M149.4 97.6h0M157 99.8h0M180.2 121h0M162.4 124.1h0M153.7 94h0M165.1 106.6h0M162.7 112.6h0M164.3 109.2h0M172.9 117.7h0M166.8 108.4h0M158.8 106.7h0M149.2 120.7h0M184.6 101h0M182.9 125.1h0M152.5 125.1h0M158.1 112.9h0M152.6 95.1h0M182.8 107.3h0" stroke="#6ec846" stroke-width="2.4" stroke-linecap="round" fill="none"/>
<path d="M191.9 91.6h0M199.8 96.3h0M210.3 93.2h0M213.8 91.6h0M225.8 100.9h0M191.7 105.3h0M193 108h0M197.4 102.5h0M197.9 105h0M192.7 113.7h0M194.1 112.9h0M206.4 114.8h0M214.9 116.8h0M224.2 121.7h0M228.6 118.9h0M193.5 109.1h0M188 100h0M189 95h0" stroke="#e00000" stroke-width="2.6" stroke-linecap="round" fill="none"/>
<path d="M113.4 114.1L119.3 123.6L107.5 123.6Z" fill="#f0ae6c" stroke="#262618" stroke-width="1.1" stroke-linejoin="round"/>
<circle cx="113.4" cy="120.4" r="0.5" fill="#8a6a40"/>
<path d="M184.6 105.3L190.5 95.8L178.7 95.8Z" fill="#f0ae6c" stroke="#262618" stroke-width="1.1" stroke-linejoin="round"/>
<circle cx="184.6" cy="99" r="0.5" fill="#8a6a40"/>
<path d="M234.4 108.6L240.4 114.6L234.4 120.6L228.4 114.6Z" fill="#f0ae6c" stroke="#262618" stroke-width="1.1" stroke-linejoin="round"/>
<circle cx="234.4" cy="114.6" r="0.5" fill="#8a6a40"/>
</g>
<path d="M60 5.4L60 1.2M60 238.9L60 243.1M103.8 5.4L103.8 1.2M103.8 238.9L103.8 243.1M147.5 5.4L147.5 1.2M147.5 238.9L147.5 243.1M191.3 5.4L191.3 1.2M191.3 238.9L191.3 243.1M235.1 5.4L235.1 1.2M235.1 238.9L235.1 243.1M278.8 5.4L278.8 1.2M278.8 238.9L278.8 243.1M322.6 5.4L322.6 1.2M322.6 238.9L322.6 243.1M60 225.5L55.8 225.5M322.6 225.5L326.8 225.5M60 163.1L55.8 163.1M322.6 163.1L326.8 163.1M60 106.2L55.8 106.2M322.6 106.2L326.8 106.2M60 53.8L55.8 53.8M322.6 53.8L326.8 53.8" stroke="#505050" stroke-width="1" fill="none"/>
<path d="M68.8 5.4L68.8 3.2M68.8 238.9L68.8 241.1M77.5 5.4L77.5 3.2M77.5 238.9L77.5 241.1M86.3 5.4L86.3 3.2M86.3 238.9L86.3 241.1M95 5.4L95 3.2M95 238.9L95 241.1M112.5 5.4L112.5 3.2M112.5 238.9L112.5 241.1M121.3 5.4L121.3 3.2M121.3 238.9L121.3 241.1M130 5.4L130 3.2M130 238.9L130 241.1M138.8 5.4L138.8 3.2M138.8 238.9L138.8 241.1M156.3 5.4L156.3 3.2M156.3 238.9L156.3 241.1M165 5.4L165 3.2M165 238.9L165 241.1M173.8 5.4L173.8 3.2M173.8 238.9L173.8 241.1M182.5 5.4L182.5 3.2M182.5 238.9L182.5 241.1M200 5.4L200 3.2M200 238.9L200 241.1M208.8 5.4L208.8 3.2M208.8 238.9L208.8 241.1M217.6 5.4L217.6 3.2M217.6 238.9L217.6 241.1M226.3 5.4L226.3 3.2M226.3 238.9L226.3 241.1M243.8 5.4L243.8 3.2M243.8 238.9L243.8 241.1M252.6 5.4L252.6 3.2M252.6 238.9L252.6 241.1M261.3 5.4L261.3 3.2M261.3 238.9L261.3 241.1M270.1 5.4L270.1 3.2M270.1 238.9L270.1 241.1M287.6 5.4L287.6 3.2M287.6 238.9L287.6 241.1M296.3 5.4L296.3 3.2M296.3 238.9L296.3 241.1M305.1 5.4L305.1 3.2M305.1 238.9L305.1 241.1M313.8 5.4L313.8 3.2M313.8 238.9L313.8 241.1" stroke="#777" stroke-width="0.9" fill="none"/>
<path d="M60 5.4H322.6V238.9H60Z" stroke="#505050" stroke-width="1.3" fill="none"/>
<line x1="60" y1="1.2" x2="60" y2="243.1" stroke="#ababab" stroke-width="2.3"/>
<rect x="59.2" y="87.2" width="4.2" height="39.6" fill="#e8941e"/>
<text x="61.5" y="256.6" font-size="12.5" text-anchor="middle" fill="#1a1a1a" stroke="#1a1a1a">0</text>
<text x="105.3" y="256.6" font-size="12.5" text-anchor="middle" fill="#1a1a1a" stroke="#1a1a1a">5</text>
<text x="149" y="256.6" font-size="12.5" text-anchor="middle" fill="#1a1a1a" stroke="#1a1a1a">10</text>
<text x="192.8" y="256.6" font-size="12.5" text-anchor="middle" fill="#1a1a1a" stroke="#1a1a1a">15</text>
<text x="236.6" y="256.6" font-size="12.5" text-anchor="middle" fill="#1a1a1a" stroke="#1a1a1a">20</text>
<text x="280.3" y="256.6" font-size="12.5" text-anchor="middle" fill="#1a1a1a" stroke="#1a1a1a">25</text>
<text x="324.1" y="256.6" font-size="12.5" text-anchor="middle" fill="#1a1a1a" stroke="#1a1a1a">30</text>
<text x="52" y="230.6" font-size="12.5" text-anchor="end" fill="#1a1a1a" stroke="#1a1a1a">0.10</text>
<text x="52" y="168.2" font-size="12.5" text-anchor="end" fill="#1a1a1a" stroke="#1a1a1a">0.11</text>
<text x="52" y="111.3" font-size="12.5" text-anchor="end" fill="#1a1a1a" stroke="#1a1a1a">0.12</text>
<text x="52" y="58.9" font-size="12.5" text-anchor="end" fill="#1a1a1a" stroke="#1a1a1a">0.13</text>
<text x="191" y="275.3" font-size="12.5" text-anchor="middle" fill="#1a1a1a" stroke="#1a1a1a">&#916;a<tspan font-size="9.5" dy="3">&#956;</tspan><tspan dy="-3"> [10</tspan><tspan font-size="9.5" dy="-7">-10</tspan><tspan dy="7">]</tspan></text>
<text transform="translate(14.2 122.3) rotate(-90)" font-size="12.5" text-anchor="middle" fill="#1a1a1a" stroke="#1a1a1a">&#937;<tspan font-size="9.5" dy="3">&#967;</tspan><tspan dy="-3"> h</tspan><tspan font-size="9.5" dy="-6.5">2</tspan></text>
<g clip-path="url(#cTR)">
<rect x="413.7" y="75.5" width="263" height="93.4" fill="#f8ea8e"/>
<path d="M441.6 123.4h0M419.1 77.5h0M454.4 134.8h0M438.6 125.9h0M453.5 151.5h0M433.8 129.8h0M450.7 146.6h0M437.3 125.8h0M428.3 116.2h0M432.5 129.7h0M428.7 109.4h0M440.3 130.8h0M436.6 135.2h0M431.2 123.9h0M444.6 116.4h0M428.9 120.1h0M442.5 115.5h0M444.2 138.3h0M425.3 121.5h0M438.5 139.4h0M429.8 115.5h0M454.8 144.8h0M450.8 123.8h0M456.2 124.4h0M441.1 138.7h0M453.3 123h0M425.7 115.7h0M450 142h0M446.2 131.4h0M454.3 139.3h0M421.8 114h0M430.7 108.2h0M420.5 108.7h0M456.5 137.2h0M453.3 152.4h0M434.5 110.8h0M450.5 136.3h0M443.4 143.7h0M456.3 143.6h0M417.7 115.6h0M428.2 101.9h0M430.6 109.6h0M455.5 123.1h0M423.4 103.2h0M428.4 104.7h0M420.4 83.3h0M433.9 112.5h0M452.8 122.8h0M416.4 79h0M416.2 91.8h0M424.1 115.9h0M456.7 133.5h0M416.5 116.2h0M420.4 107.5h0M452.8 142.7h0M425.1 117.9h0M456 143.6h0M447.8 144h0M417.9 106.4h0M430.7 113.2h0M451.5 125.8h0M427.6 126.2h0M425 124.9h0M433.4 112.3h0M450 119.9h0M455.5 144.1h0M454.7 144.5h0M445.9 124.1h0M432.6 107.5h0M421.7 98.3h0M430.7 105.9h0M427.6 106.7h0M427.8 113.1h0M428.9 126.8h0M424 107.5h0M423.1 93.7h0M428.5 110.8h0M436.4 130.2h0M417.6 85.7h0M440.8 119.1h0M452.6 122.1h0M419.3 88.8h0M429.8 119.5h0M456.7 142.8h0M440.5 133.4h0M445.9 147.7h0M429.4 116.2h0M441.2 126.8h0M434.3 125.4h0M430.9 111h0M434.5 115.2h0M448.9 126.2h0M416.7 105.1h0M444 120.6h0M448.5 119.7h0M454.1 126.1h0M454.6 129.8h0M450.6 123.3h0M421 101.1h0M433.5 118.5h0M428.7 107.2h0M454.4 124.8h0M456.9 140h0M456.6 142h0M420.7 89.3h0M435.5 110.4h0M425.1 112.9h0M443.1 115.8h0M441.6 119.3h0M418.6 119.3h0M418.3 82.4h0M446.5 118.1h0M426.1 126.7h0M443.7 128h0M424.1 96.1h0M445.2 119.8h0M447.4 141.7h0M455.2 154.7h0M434.7 129.1h0M440.9 122.4h0M446 142.4h0M436.1 112.6h0M427.1 108.6h0M422.7 98.8h0M437 127.6h0M448.2 133.6h0M425 94.2h0M454 125.1h0M423 104.3h0M456.1 124.9h0M443.9 133.3h0M418.6 115.7h0M443.6 123.5h0M442.6 131.3h0M451.1 137h0M416.8 83.1h0M416.1 93.8h0M454.7 151.2h0M437.9 112.4h0M453.1 148.3h0M427.3 107h0M428.6 105.6h0M417.8 108.7h0M433.1 112.6h0M427.2 122.2h0M455.3 127.5h0M448.9 128.7h0M444.8 142.1h0M435.2 133.8h0M426.6 127.1h0M419.5 110h0M452.4 144.7h0M436.2 111.5h0M421.3 102.7h0M431.5 127.4h0M435.3 120.5h0M416.4 115.8h0M436.6 123.4h0M418.8 83.5h0M452.7 140h0M453.1 150.7h0M449.8 124.8h0M455.8 130.2h0M422.4 104h0M432.3 105.5h0M425.1 116h0M453.7 139.8h0M423.9 101.9h0M419.2 81.5h0M456 128.5h0M419.4 98.1h0M433.7 128.5h0M418.9 79.5h0M456.9 153.3h0M426 106.8h0M450.4 135h0M443.4 119.7h0M450.4 139.2h0M425.4 112.3h0M421.5 93.3h0M452.3 139h0M423.8 108.4h0M453 140h0M421 93.8h0M436 131.7h0M421.4 93.5h0M429.6 103h0M439.2 113.3h0M446.1 118.3h0M445.5 146.3h0M439.8 114.2h0M450.9 123h0M429.8 101h0M438.1 136.1h0M456.2 129.4h0M456.2 142.8h0M421.3 102h0M437.8 110.6h0M450.1 142.6h0M427.3 101.5h0M418.5 116.4h0M416.8 78h0M435 130.5h0M455 126.9h0M440.8 113.1h0M447.6 142.3h0M428.3 111.3h0M427.9 118.1h0M417.9 102.7h0M429.7 113.4h0M433.2 114h0M448 130.1h0M443.3 143h0M452.1 120.8h0M430.8 129.3h0M420.9 116.6h0M432.2 114.1h0M424.5 104.1h0M416.8 87.6h0M416.6 95.2h0M448.8 141.7h0M443.7 122.4h0M437.6 118.9h0M426.6 114.6h0M437.5 117.1h0M451.7 132.3h0M417.8 89.5h0M445 129.8h0M422.5 117.6h0M418.5 118.8h0M427.6 100.1h0M423.9 120.4h0M457.9 138.1h0M441.4 143.2h0M438.9 114.1h0M448.1 128.5h0M448.6 134.3h0M429.5 100.1h0M436.7 114.9h0M426.9 115.7h0M435.6 108.3h0M417.3 96.6h0M420.9 92.6h0M418.7 97h0M456.3 127.1h0M418.8 84.4h0M442.1 121.1h0M445.8 139.5h0M422.4 116.8h0M440.2 123.7h0M420.9 118.3h0M445.9 129.2h0M418.6 111.8h0M429.3 115.2h0M444.9 142.5h0M453.7 136.2h0M449.2 133.4h0M417.6 106.1h0M446.5 145.1h0M422.9 120h0M437.5 117.7h0M422.9 96.7h0M426.7 126.8h0M434.1 118.9h0M418 115.6h0M417.9 77h0M432.9 129.4h0M416.9 101.8h0M428.6 124.6h0M421.2 90h0M448.9 136.3h0M421 100.7h0M448.5 128.1h0M426.2 115.4h0M443.6 144.5h0M441.2 140.9h0M442.4 122.4h0M451.1 144.5h0M453.3 120.6h0M427.4 117.2h0M420.9 102.3h0M420.9 93.7h0M440.3 140h0M430.1 127.8h0M438.3 136h0M423.9 109.6h0M449.5 142.8h0M447.6 121.4h0M455.3 128.4h0M422 122h0M421 103.8h0M429.9 105.4h0M427.1 115.1h0M427 107.9h0M424.5 100.6h0M417.7 89.5h0M419.6 102.3h0M436.6 124.4h0M451.4 148.6h0M429 100.6h0M453.3 147.8h0M427.7 122.7h0M434.7 130.6h0M433.3 130h0M432.4 112h0M418 89.8h0M436.6 134h0M446.8 119.1h0M447.2 123.9h0M424.8 109.6h0M451.1 132.4h0M423.4 111.4h0M456 151.8h0M428.9 119.2h0M428.6 108.6h0M446.9 137.1h0M433.7 123.5h0M436.6 122.6h0M433.8 113.6h0M421.2 110.2h0M441 137.2h0M417.9 108h0M423.6 113.2h0M425.1 111.4h0M422.8 101.1h0M418.9 77.7h0M423.9 115.9h0M421.9 92.9h0M425.3 95.5h0M424.6 124.3h0M420.3 109.9h0M419.4 82.8h0M424.7 96.9h0M448 137.9h0M436.4 130.9h0M427.8 127h0M424.5 115.8h0M417.4 111.9h0M437.6 126.9h0M434.2 120.3h0M417 105.6h0M419.9 81.8h0M438.5 123.8h0M440.1 118.8h0M454 122.6h0M447.3 123.3h0M442 124.6h0M419.9 101.2h0M454.7 129.9h0M432.7 132.8h0M439.3 128.4h0M457.7 139.4h0M434.2 119.5h0M429.7 115.8h0M417.3 96.7h0M439.5 141.4h0M439.5 126.8h0M423.6 103.8h0M422.3 122.6h0M417.7 76.8h0M439.5 139.9h0M434.2 126.7h0M429 120h0M448.5 140.6h0M455.4 146.3h0M449.6 142.4h0M456.3 142.6h0M442 116.3h0M425.2 108.4h0M418.9 90.3h0M416.8 75.3h0M456.3 129h0M419 114.4h0M416.6 91.5h0M432.8 106.3h0M453.9 133.1h0M428.6 108.5h0M447.8 132.8h0M448.2 134.7h0M454.7 145h0M425.8 120.6h0M424 107.5h0M422.5 122h0M435.1 114.8h0M442.2 121.9h0M434.3 124.8h0M420.3 118.5h0M444.5 139.3h0M439.2 134.9h0M432 124h0M427.9 116.5h0M422.3 107.3h0M416.6 103.6h0M445.1 132.4h0M416.8 87.7h0M451.7 122.4h0M438.4 117.9h0M428.4 114.2h0M421.3 105h0M423.4 115.5h0M437.6 122h0M440.8 125h0M420.9 100.7h0M445.4 140.2h0M437.5 124.6h0M446.4 135.4h0M421.3 113.2h0M425.8 101.9h0M434.6 132.6h0M436.5 128.8h0M451.5 137.4h0M456.6 136.4h0M450.3 119.1h0M429.1 125.7h0M425.7 94h0M416.4 113.4h0M418.2 110.6h0M446.2 137.2h0M455.8 148.3h0M429.9 119.1h0M441.9 125.1h0M420.2 114.8h0M419.1 88.7h0M453.3 137.9h0M429.2 119.5h0M424.6 102.2h0M431.6 107.4h0M419.3 83.4h0M425.8 126.4h0M421.7 112.8h0M440.4 122.5h0M453.1 142.5h0M422.4 96.1h0M454.8 138.7h0M435.3 135.1h0M422 112.3h0M436.2 115.4h0M437.2 111.9h0M427.9 127.2h0M455.6 129.6h0M424.5 106.3h0M417.3 117.4h0M433.9 112.2h0M442.8 133.6h0M443.5 143.2h0M443.2 133.4h0M454 133.1h0M430.2 128.8h0M451.8 143.6h0M419.7 119.3h0M437.1 121.1h0M455.6 138.4h0M442.4 121.2h0M437.1 127.6h0M454.4 140.4h0M448.1 139h0M441.4 138.1h0M456.3 146.5h0M433.9 116.5h0M439.3 134.4h0M417.8 116.9h0M452.9 142.7h0M438.8 121.8h0M435.1 128.5h0M419.7 84.2h0M454.6 126.2h0M428.6 106.2h0M428.7 102h0M437.4 124.3h0M443.1 116.9h0M456.2 135.4h0M449.8 149.7h0M438.5 114.4h0M453.6 138.4h0M441.2 131.7h0M454.3 126.8h0M424.4 100.7h0M429.3 111.9h0M425.3 97.3h0M434.8 116.9h0M426.8 102.7h0M457.5 130.3h0M436.8 130.1h0M433 110.7h0M452.1 154.9h0M423.8 102.7h0M422.6 121.5h0M416 102.1h0M423.5 112.8h0M449 143.4h0M448.1 127.9h0M447.3 121.3h0M439.1 120.5h0M428.1 107.7h0M427.1 98.2h0M445.7 119h0M419.1 104.4h0M452.8 153.7h0M443.5 123.8h0M447.1 133.8h0M452.1 140.6h0M420.4 114.5h0M423.3 98.9h0M440.3 134.1h0M453.1 131.1h0M453.1 148.7h0M439.4 119.3h0M453.2 150.8h0M443.9 143h0M422.5 107.7h0M421.4 113.9h0M450.9 119.6h0M442 115.4h0M425.4 100h0M455.2 144.6h0M423.7 114.8h0M418.4 115.3h0M435.2 129.3h0M425.6 111.9h0M426.2 108.3h0M445.4 115.9h0M455.3 130h0M427.6 102.4h0M444.2 120.1h0M437.2 131.5h0M435.4 128.8h0M428 105.1h0M441 140.4h0M449.6 122.3h0M450.4 151.3h0M428.2 123.8h0M442.8 136.7h0M455.3 151.2h0M449.7 146.8h0M429.5 116.9h0M430.4 119.9h0M442.2 124.2h0M439.2 120.8h0M447.9 136h0M456.4 147.4h0M440 112.6h0M426.9 109.4h0M424.5 107.7h0M422.8 114.5h0M420.7 101.7h0M422.5 95.9h0M421.1 114h0M450 151.9h0M457.4 147.9h0M442.8 117.3h0M445.1 131.8h0M442.6 116.3h0M455.7 154.3h0M449.2 118.3h0M446.2 130.1h0M453.2 150.9h0M452.5 129.7h0M447.2 136h0M432.6 119.7h0M430.9 112.5h0M440.5 130.8h0M431.9 116h0M437.1 117.3h0M452.6 147.8h0M454.2 139.2h0M445.7 130.8h0M449.5 121.2h0M434.4 120.9h0M447.9 150.2h0M449.6 142h0M421.5 119.6h0M436.9 112h0M456.4 153.1h0M432 111.5h0M439.4 117.5h0M429.9 106.7h0M436.3 122.4h0M416.2 111.1h0M437.1 111.1h0M428.1 121.4h0M452.5 121.1h0M445.1 141.6h0M452.2 124.5h0M418.3 105.3h0M443.5 122.7h0M421.5 90h0M452 128.2h0M443.5 133.4h0M439.3 123.9h0M429.9 104.9h0M427.4 97.3h0M450.4 145.6h0M425.5 118.7h0M431.4 131h0M417.4 85.1h0M441.2 131.7h0M420.7 111.2h0M420.3 97.7h0M455 133.1h0M445.6 122h0M428.2 106.1h0M426.2 104.6h0M419.4 111.9h0M451.4 130.5h0M457.3 152.8h0M450.5 135.2h0M457.1 146.3h0M427.1 103.9h0M416.6 93.7h0M425.7 105.5h0M421.5 112.3h0M423.8 106h0M451.5 153.9h0M417.5 107.6h0M452.6 143.1h0M416.3 92.5h0M437.8 137.9h0M453.3 142.5h0M454.3 154h0M439.1 120.8h0M455.9 152.5h0M428.5 127.1h0M433.1 123.5h0M419 81h0M421.2 113.3h0M437 109.4h0M435.8 135h0M420.4 84.2h0M424.2 117.4h0M433.9 134.5h0M419.6 109.9h0M417.1 116.3h0M417.3 76.4h0M422.8 111h0M451.6 121h0M450.6 125.4h0M422.1 120.2h0M422.9 96.2h0M433.2 130h0M450.7 129.7h0M449.6 117.9h0M449.5 147.8h0M454.1 147.2h0M456.4 125.9h0M440.5 113.1h0M437.8 110.6h0M444.3 146.2h0M454.7 128.8h0M439.5 129.7h0M430.2 102.2h0M417.6 87.9h0M421.9 113.2h0M455.4 127.3h0M447.6 118.4h0M433.7 113.2h0M446.7 133.9h0M455.5 154.9h0M425.2 121.1h0M419.9 83.9h0M443.8 118.7h0M449.3 138.4h0M454.2 148.5h0M451.6 138.1h0M426.3 124.1h0M427.9 127.7h0M428.8 121.1h0M437 112.9h0M437.2 119h0M436.8 116.3h0M431.3 109.2h0M454.9 142.9h0M425.3 105.2h0M454 148.2h0M418.3 87.4h0M456.6 126.1h0M423.3 100.7h0M423.5 115.2h0M430.8 103.8h0M421.3 97.2h0M418.2 114.9h0M437.5 133.1h0M452.3 151.8h0M418.9 112.1h0M426.5 123.7h0M439.2 122.5h0M453.1 149h0M428.4 115.8h0M435.5 127.8h0M448.1 122h0M417.3 93.7h0M424.6 93.1h0M439.9 135.4h0M444.8 132.6h0M431.6 112.2h0M428.3 115.2h0M435.6 134.3h0M448.3 138.2h0M417.1 116.2h0M416.3 108.1h0M425.9 115.4h0M419.1 115h0M434.8 107.6h0M452.3 151.2h0M455.6 134.6h0M420.2 110.4h0M445.9 116.6h0M432.8 106.1h0M456.3 129h0M426.5 107h0M444 116.5h0M440.2 119.8h0M445.6 116.8h0M446.2 142h0M439.2 140.5h0M436.2 130.7h0M427.3 98h0M426.6 111.6h0M417.3 108.4h0M418.2 102.1h0M451.9 150.9h0M446 146.9h0M422 95.2h0M446.7 117.8h0M417.8 111h0M443.1 121.7h0M433.2 115.3h0M447 119.5h0M433.7 120.8h0M438.1 129.5h0M444.6 130h0M451.8 148.6h0M419.1 95.6h0M427.6 119.4h0M430.1 110.8h0M450.8 139.5h0M431 114.8h0M423.8 120.9h0M427.1 96.6h0M420.7 90.4h0M417.9 86.5h0M451.6 151.5h0M450.7 140.9h0M457.1 153.2h0M425.9 113.3h0M416.7 110.2h0M419 95.8h0M444 121.9h0M417 115.8h0M425.6 93.6h0M431.3 125.2h0M451.7 123.6h0M455 153.8h0M453 143h0M424.8 125.8h0M433.7 128.4h0M451.6 135.9h0M444 145.4h0M437.3 112.1h0M440.9 122.6h0M442.5 130.1h0M421.3 89.8h0M423.4 112h0M423.7 117.4h0M430.7 109.7h0M432.5 120.9h0M434.9 132.1h0M454 132.1h0M451.6 124.4h0M428.5 119.7h0M439.1 119.2h0M421.4 100.2h0M419.4 87.4h0M439.7 132.5h0M454.9 140.7h0M454.7 139.7h0M425.2 109h0M444.7 131h0M455.2 123.4h0M453 150.8h0M428.2 101.1h0M426.4 109.8h0M454.6 152h0M454.2 142h0M455.3 138.9h0M430.1 102.4h0M426.9 99.4h0M445.6 145.2h0M434.9 129.5h0M439 122h0M438.7 121.5h0M443.8 126.9h0M450.9 126.1h0M419.6 105.9h0M444.9 129.1h0M437.8 111.8h0M419.3 82h0M420.1 81.7h0M427.6 125.3h0M452.3 130.4h0M416.4 94.3h0M424.5 98.3h0M418.2 100.4h0M424 91.1h0M421.9 101.5h0M438.6 112.8h0M442.9 119.3h0M431.3 125.4h0M451.6 121.6h0M450.3 136h0M418.9 117.8h0M418.5 110.7h0M441.4 124.8h0M446.6 143.8h0M424.4 107.6h0M452.8 138.7h0M445.9 132.9h0M436.5 118.5h0M436.1 129.3h0M428.9 118.8h0M433.4 124.2h0M420.6 112h0M428.2 118.1h0M428.3 117h0M452.3 136.2h0M432 114.2h0M417.7 108.4h0M423.8 106.8h0M424.2 116.3h0M446.6 144.2h0M426.2 98h0M441.9 133.7h0M450 152.6h0M435.9 136.9h0M439 118.3h0M454.4 145.9h0M418.5 118.7h0M448.6 131.6h0M454.9 137.2h0M443.9 136.9h0M438.1 127.3h0M424.5 121h0M445.8 142.5h0M419.2 114.5h0M452.4 124h0M427.4 118.1h0M422.4 105.8h0M424.1 103.9h0M449.6 123.7h0M425 112.3h0M436.1 126.4h0M425.6 108.4h0M426.7 96.3h0M420.9 102.2h0M449.1 124.8h0M425.7 115h0M425.5 114.4h0M421.1 119.4h0M419.6 118.7h0M442.1 130.8h0M432.5 112.4h0M457.4 153.6h0M438.8 137.9h0M456.9 148.5h0M419.7 117.9h0M454.3 149.5h0M430.2 119.7h0M425.1 126h0M425.8 120.9h0M437.7 124h0M451.4 136.9h0M452.1 126h0M424.5 109.3h0M445.3 120.8h0M417.3 116.2h0M448.8 129h0M435.4 121.2h0M451.8 130.5h0M426.3 112.7h0M439 134.2h0M434.4 129.8h0M452.9 132.3h0M450 143.9h0M439.7 115h0M430.3 119.9h0M432.6 114.2h0M441 135.1h0M455.3 125.6h0M442.9 123.4h0M455.4 128.7h0M421.3 88.5h0M442.4 140.2h0M431.4 127.3h0M456 154h0M454.1 150.1h0M422.1 109.7h0M422.3 116.3h0M440.5 119.7h0M448.3 149.6h0M445.2 146.7h0M434 123.9h0M455.9 153.4h0M426.2 117.5h0M418.5 91.6h0M453.2 129.6h0M442.2 127.2h0M425.8 101.4h0M418.4 108.5h0M445.3 123.1h0M430.2 115.5h0M422.9 94.3h0M438.1 138.4h0M422.4 97.4h0M440.4 133.9h0M417.5 105.1h0M431.7 119.4h0M446.2 123.1h0M422.6 87.6h0M437.1 111.4h0M451.3 143h0M422.5 89.6h0M446 120.3h0M418.4 109.1h0M420.6 83.3h0M416.1 82h0M433.3 120.5h0M417.5 98.4h0M427.4 115.4h0M437.3 138.1h0M419.3 98.9h0M445.5 126.9h0M441.8 133.7h0M440.4 128.7h0M434.8 134.7h0M454.7 124.3h0M418.2 111.4h0M448.7 149.8h0M427.3 122.6h0M455 125.9h0M440.3 139.4h0M443.6 124h0M422.2 87.6h0M431 108.7h0M428.8 115.3h0M432.2 116.4h0M450.1 139.3h0M439.9 133.9h0M442.8 117.8h0M423.7 115.8h0M426.7 101.8h0M446.5 128.3h0M432 121.1h0M417.6 115.2h0M441.8 122.9h0M437.6 139.3h0M456.2 141.5h0M452.2 123.6h0M429.1 119.2h0M450.1 121.1h0M448.8 127.7h0M423 94.2h0M446.1 141.7h0M453.9 146.9h0M454 126.7h0M424 101.8h0M438.2 115h0M418.9 101.7h0M431.7 112.7h0M440 121.1h0M430.1 123.3h0M430.4 111.3h0M443 142.5h0M431.7 119.4h0M447.5 129.6h0M423.9 117.7h0M417.2 109.3h0M447.1 133.3h0M439.2 125.9h0M416.2 101.6h0M426.7 99.4h0M424.9 117.2h0M432.6 123.9h0M446.1 133h0M449.5 151.1h0M442.8 142.6h0M445.1 135.2h0M455.3 133.5h0M449.5 148.2h0M429.9 116.5h0M439.4 117.3h0M440 115.8h0M447.1 135.6h0M449 120.2h0M427 113.5h0M445.3 143.6h0M416 86.8h0M417.8 101.4h0M418.5 100.6h0M419.9 107.8h0M422.2 107.7h0M451.6 138.2h0M444.7 127.7h0M432 109.6h0M423.7 99.2h0M457.8 140.2h0M417.2 85.1h0M444 144.4h0M438.8 115.9h0M453.5 141.5h0M419.6 89.2h0M442.1 126.9h0M446.5 141.4h0M444.2 145.4h0M454.5 143.7h0M418 83h0M446.9 122h0M447.2 138h0M426.4 115.3h0M447.6 117.5h0M446.6 122.9h0M452.6 154.4h0M423.7 107.5h0M422.6 117.1h0M432.4 129h0M449.9 151.9h0M441.3 138.7h0M452.5 149.7h0M424.6 119.3h0M445.1 145.4h0M452.9 135.7h0M456.1 132.3h0M422.2 87.6h0M421.8 96.1h0M422.8 119.7h0M417.1 81.6h0M446.7 132.8h0M424 122.2h0M424.8 105.1h0M445.6 145.5h0M439.6 115h0M419.1 94.7h0M417.3 102.3h0M456.8 140.3h0M416.7 109.5h0M456.3 124.4h0M450.7 122.5h0M453.4 132.8h0M416.8 100.2h0M445.4 130.7h0M427.9 121.3h0M451.3 150.5h0M444.3 115.4h0M451.7 135.4h0M433.1 109.7h0M439.4 128.8h0M439.8 135.3h0M456.8 138.8h0M436.9 134.6h0M424.2 99.4h0M455.1 151.7h0M446.8 126.3h0M425.4 106.2h0M456.4 151.6h0M418.6 78.5h0M416.5 85.5h0M423.1 91.4h0M453.3 123h0M439.9 138.3h0M420.1 96.7h0M420.5 96.4h0M423.7 100.6h0M451.1 130.6h0M452.3 130.6h0M437.9 127.3h0M443.2 139.4h0M432 114.7h0M423.2 97h0M443.3 135.5h0M443.9 116.7h0M424.7 125.8h0M444.6 119.2h0M454.7 131.7h0M421.2 115.2h0M437.8 125.9h0M424.5 109.9h0M429.2 105.6h0M445.5 140h0M451.7 135.1h0M416.5 115.6h0M455 148.9h0M422 107h0M448.7 130.3h0M434.5 130h0M452.3 121.7h0M424 108.6h0M435.3 117h0M449.6 150.8h0M447 140h0M418.7 109.3h0M420.5 114.8h0M418.9 114.3h0M422.9 103.2h0M444.4 138.4h0M422.3 109.2h0M434.7 130h0M435.6 133.1h0M436.2 127.6h0M434.9 117.4h0M447.1 117.9h0M453.8 132.7h0M420.2 110.4h0M436.5 116.6h0M418.7 110.9h0M420.3 107.8h0M448.5 118.1h0M457 152.4h0M449.8 129h0M436.9 119.1h0M453 145.7h0M422.1 100.6h0M457.2 134.7h0M417.7 118.1h0M426.9 105.5h0M447.4 125.1h0M447 127.5h0M422 90.7h0M427.8 110.7h0M453.2 149.9h0M448.9 142.9h0M440.7 135.8h0M453.7 142h0M436.5 115.5h0M440 128.2h0M456.7 126.9h0M432.2 118.1h0M416.1 86.9h0M434.5 129.2h0M423.2 95.7h0M440.9 132.4h0M421.3 93.7h0M422 92.5h0M424.2 90.2h0M418.9 96.8h0M448.9 133.8h0M422.1 109.1h0M444.3 145.5h0M438.1 117.8h0M456.5 145.9h0M440.5 130.4h0M456.7 142.7h0M448.4 141.6h0M432.6 124h0M419 96.1h0M416.7 86.9h0M423.7 99.2h0M428.3 104.3h0M429.4 127.2h0M445.4 140.3h0M435.3 113.6h0M422.8 107.4h0M454.3 146.8h0M443.6 115.7h0M433 109.8h0M419.3 92.5h0M437 119.1h0M434.7 132.3h0M449.4 121.2h0M423.7 100.5h0M424.8 93.5h0M424.4 102.2h0M429.2 114.1h0M424 106.3h0M428.8 102.4h0M441.2 114h0M421.4 118h0M431.3 124.2h0M422.8 111.6h0M418.2 88.3h0M454.7 135.3h0M417.3 115.5h0M455.9 138.5h0M442.8 115.2h0M430.7 115.8h0M448.2 142h0M447.1 138h0M441.5 136.2h0M425 117.8h0M440 141.6h0M455.4 123.7h0M449.6 133.3h0M422.5 101h0M447.5 148.2h0M425.2 106.5h0M447.8 141.6h0M451.3 127.7h0M446.4 139.4h0M448.4 118.9h0M436.6 132.1h0M450 144.7h0M455.6 141.7h0M444.8 128.9h0M433.5 109.8h0M446.1 138.6h0M419.1 79.1h0M441.7 117.9h0M419.5 83.8h0M450 135.7h0M457.7 143.4h0M429.3 125.9h0M452.3 124.2h0M435.4 119.9h0M450.6 126.5h0M417.6 113.9h0M449.3 141.2h0M427.3 121.3h0M449.7 121.4h0M444 119.8h0M423.6 113.2h0M422 87.5h0M439.8 133h0M418.2 117.7h0M425.3 101.7h0M426.9 116.3h0M431.1 107.3h0M422.4 120.9h0M440 117.4h0M447.1 124.2h0M450.2 143.9h0M422.1 86.6h0M436.5 128.4h0M449.7 123.7h0M450.6 138.9h0M438.7 129.3h0M441.2 124h0M434.9 134.5h0M423.8 97.2h0M430.3 122h0M451 147.5h0M454.9 150.4h0M450.6 137.4h0M421.1 111.7h0M445 131.1h0M416.3 106.7h0M443.6 130.1h0M416.4 107.5h0M434.9 113.3h0M421.1 87.5h0M455.2 148.4h0M419.8 103.2h0M420.6 106.8h0M424 108h0M416.9 76.5h0M436 123.1h0M434.6 134.4h0M433.5 109.8h0M417.2 99.3h0M426.3 99h0M442.4 117.3h0M427.9 125.7h0M450.5 134.2h0M451.1 149.6h0M431.6 115.4h0M448.5 146.9h0M417.7 90.3h0M447.8 121.1h0M433.7 119.9h0M455.7 145.8h0M421.6 114.7h0M422.9 93.8h0M425.3 103.9h0M443 117.2h0M419.2 96.5h0M425.2 94.7h0M438.3 122.3h0M449 131.2h0M419.6 81.8h0M424.2 93.1h0M423.7 115.4h0M438 138h0M433.8 109.5h0M432.5 127.8h0M442 128.9h0M417.3 106.7h0M455 129.1h0M434.8 124.5h0M445.2 119.5h0M445.8 125.5h0M419.6 93.5h0M425.1 93.9h0M452.5 125.9h0M435.3 117.8h0M436.7 117.4h0M450.9 142.2h0M449 135.5h0M448.4 139.1h0M420.1 97.9h0M437.1 130.6h0M435.3 134.7h0M438.8 127.6h0M426.4 106h0M449.9 137h0M427.8 106.3h0M442.2 136.4h0M447.4 121.3h0M445.9 145h0M418.4 87.8h0M427.7 105.7h0M429.6 104.5h0M442.3 128.5h0M418.9 112.6h0M420.4 116.4h0M439.6 136h0M426.1 100.2h0M445.5 125.6h0M445.4 121.8h0M445.6 144.7h0M430.1 116.3h0M437.2 113.7h0M418.5 93.4h0M451.7 130.5h0M424.1 114h0M454.2 122.1h0M434.1 123.1h0M448.8 143h0M452.3 150.9h0M439.7 129.8h0M452.1 123.1h0M421.3 106.6h0M424.4 121.9h0M453.1 147.2h0M418.4 104.9h0M443 128.3h0M426.5 101.9h0M445.5 115.8h0M423.6 124.4h0M418.3 85.2h0M444.5 116.6h0M456.3 129.9h0M440.5 114.4h0M453.2 133.1h0M448.5 150.1h0M418.8 102.6h0M436.2 134.8h0M424.7 109.8h0M432.9 112.6h0M457.1 150.7h0M422 122.8h0M419.4 104.2h0M435 117.9h0M447.6 147.9h0M417.4 99.4h0M428.8 104.3h0M425.8 121.9h0M425.9 122.5h0M435.5 134.3h0M450.9 124h0M437.2 113.9h0M436.7 108.8h0M441.8 142.8h0M422.2 120.9h0M444.7 129.3h0M424.4 124.4h0M433.9 133.5h0M452.9 137.5h0M431.4 106.5h0M419.5 91.4h0M446.8 132.3h0M427 118.5h0M441.1 137.1h0M456.8 147.2h0M452.3 143.4h0M430.5 116.2h0M424.7 107.3h0M416.9 91.3h0M448.5 132.6h0M453.9 144.5h0M441.8 135.8h0M453.6 127.2h0M443.9 136.6h0M447.6 141.1h0M436.2 126.3h0M426.1 124.5h0M416.7 85.1h0M418.9 118.2h0M431.4 120.4h0M435.8 127.8h0M454.1 153.3h0M432.6 120.9h0M451.1 135h0M447.3 149.4h0M423.1 88.6h0M418.3 95.3h0M427.7 126.6h0M435.1 133.2h0M419.8 82.5h0M434.9 129.9h0M449.5 137.9h0M416.3 82h0M445.4 146.9h0M419.9 95h0M430.8 120.9h0M435.5 107.7h0M457.7 142.4h0M440.9 130.2h0M457.4 134.5h0M421.1 87.1h0M444.4 138.1h0M450 150.1h0M422.3 113.4h0M424.1 110.3h0M440.9 139.5h0M420.8 110.5h0M420.7 115.3h0M436.7 116.1h0M420.9 105.1h0M455.9 132.3h0M421.4 111.5h0M436.9 136.1h0M424.7 115.4h0M456.2 123.4h0M417 100.8h0M451.8 148.9h0M448.1 117.6h0M446.3 143.4h0M420.9 121h0M448.8 150.1h0M436.9 128.1h0M451.8 136.7h0M424.1 96.1h0M436.7 134.7h0M444.7 137.3h0M443.8 115.4h0M417.5 85.2h0M416.3 100.5h0M454.1 148.9h0M425.5 107.5h0M430.8 112.3h0M457.2 150.9h0M428.6 110.9h0M449.4 126.2h0M427.6 109h0M450.7 118.9h0M451.8 133.2h0M435.3 121.4h0M416 79.2h0M427.8 96.8h0M443.9 116.8h0M418.6 88.2h0M425.9 113.8h0M441.5 135.1h0M436.6 109.4h0M446.5 130.8h0M422.5 94.5h0M428.7 120.2h0M428.9 119.7h0M456.9 145.1h0M442.4 134.6h0M448.8 133h0M428.5 110.6h0M417.6 94.4h0M422.4 87.3h0M432.6 107.8h0M421.1 122.2h0M442.8 129.9h0M441.3 135.5h0M451.2 125h0M418.7 94.9h0M433.5 129.9h0M421 120.4h0M420.4 97.2h0M455.4 126.4h0M424 104.9h0M435.1 134.2h0M451 152.4h0M420.6 118.5h0M436.6 122.8h0M446.7 147.9h0M437.3 121.1h0M439.1 120.6h0M447.2 117.6h0M423 94.8h0M453.6 139.4h0M439.6 127.7h0M436.6 133.3h0M448.5 138.1h0M426.5 114.6h0M419.8 120.2h0M426.4 111.1h0M445.1 124.2h0M422.7 113.5h0M423.9 121.1h0M442.9 121h0M447.7 142.6h0M418 82.5h0M439.8 139.7h0M444 115.6h0M425.1 116h0M418.1 97.2h0M424.4 95.7h0M429.9 129.5h0M445.3 140.3h0M443.7 112.9h0M420.5 89.9h0M414.9 74.2h0M424.3 90.9h0M451.7 121.9h0M435.9 107.1h0M418.4 78h0M453.7 124h0M451.6 119.4h0M429.4 98.1h0M422.7 86.7h0M441.6 112.6h0M449.1 117h0M458.2 124.4h0M420.7 83.8h0M455 121.9h0M431.9 101.1h0M436 107.8h0M430 99.8h0M417.3 75.8h0M454.7 118.5h0M427.4 99.1h0M445.1 110.3h0M452.9 121.4h0M418.5 74.6h0M447.8 116.2h0M430.2 101.1h0M419.6 84.3h0M440.3 113.6h0M418.2 75.7h0M457.7 123.2h0M425.5 92.2h0M422.8 89.5h0M416.1 74.9h0M454.4 121.5h0M429.3 96h0M436.5 111.3h0M444.8 116.5h0M427.3 97.8h0M423 83.2h0M420.8 85.6h0M428.8 104.6h0M445.8 116.7h0M420 85.9h0M433.5 102.3h0M450.7 117.7h0M418 74h0M416.6 75.1h0M437.3 108h0M416 76.6h0M445.1 115.9h0M416.8 76.7h0M421.1 84.6h0M441.5 108.8h0M428.4 97.8h0M439 109.6h0M442 115h0M434.6 106.3h0M434.3 104.1h0M428.1 93.1h0M447.4 117.1h0M445.8 118.5h0M428.6 102.8h0M427.5 102.5h0M423.1 85.6h0M430.7 106.5h0M416.9 75.2h0M416.6 74h0M431.9 105.6h0M430 100h0M433 104.9h0M416 76.4h0M417.4 76.6h0M419.2 84h0M416.4 75.8h0M432.4 104.9h0M447.7 116.7h0M447.8 119.2h0M450.5 117.8h0M449.6 118.2h0M453.5 121.8h0M442 115.8h0M425.9 93.6h0M432.8 103.2h0M419.5 76.6h0M454 122.6h0M437.3 110.6h0M444.5 113.3h0M446 120h0M429.4 101.7h0M440.9 116.3h0M417.1 73.6h0M432.7 97.4h0M437.4 108.5h0M440.4 114.1h0M451.5 120.4h0M436.9 109.1h0M419.2 79.3h0M417.2 74.5h0M423.9 87.4h0M432.8 106.7h0M422 85.7h0M428 100.5h0M418.5 75.7h0M426.4 93.1h0M418 74.9h0M434.7 106.5h0M428.1 95.3h0M444.7 112.5h0M422 81.3h0M423.4 135.5h0M426.7 156.2h0M434.1 136.4h0M416.4 119.7h0M450.6 164.3h0M416.6 167.6h0M436.8 150.1h0M436.3 159.5h0M440.3 151.1h0M435 165.7h0M444.7 162.8h0M424.8 151h0M431.8 133.3h0M423.1 135.6h0M428.3 132.8h0M435.8 146.3h0M440.5 164.3h0M453.3 162.9h0M422 138.9h0M419.4 157.8h0M442.3 158.2h0M416.2 120.7h0M421.3 155.5h0M456.6 160.8h0M456.1 165.5h0M435.2 143.7h0M455.8 160.4h0M427.7 129.6h0M430.3 142.8h0M456.1 164.9h0M423.5 164.8h0M431.2 140.7h0M443.8 162.8h0M425.3 157.5h0M446.5 161.8h0M430 139.1h0M432 149h0M432.5 159.8h0M431.6 159.7h0M440.6 158.2h0M433 153.4h0M455.5 165.8h0M449.4 163.6h0M433.1 164.5h0M432.2 138.3h0M431.5 132.9h0M433.8 148.6h0M441 152h0M430.3 146.2h0M420.7 158.5h0M424.8 151.9h0M439.9 164.6h0M419.5 134.6h0M454.2 166.3h0M439.6 145.5h0M436.2 154.7h0M443.2 160.8h0M429.1 163.3h0M435.7 151.5h0M416.2 125.7h0M423.4 136.4h0M440.2 144.4h0M416.5 152.2h0M457.2 164.6h0M445.2 151.6h0M430.7 158.2h0M442.9 159.6h0M431.4 139.2h0M436.5 161.4h0M417.9 138.3h0M430.4 146.5h0M422.8 135.8h0M437.4 163.8h0M450.8 161.5h0M426.4 152.5h0M418.6 143.9h0M432 132.4h0M450.6 166.6h0M445.8 160.5h0M427.1 168h0M439.3 166.4h0M439.7 150h0M439.4 163.7h0M436.1 156.8h0M416.9 125h0M444 152h0M441.8 153.8h0M451.5 166.1h0M445.4 161.4h0M445.3 149.6h0M455.7 167h0M420.8 131.7h0M440.3 155.8h0M438.3 163.9h0M416.3 150.4h0M446.6 161.7h0M432.3 133.7h0M441.2 157.8h0M429.6 165.7h0M439.9 145.5h0M418 119.4h0M432.4 145.4h0M444.9 164.5h0M430.5 163.8h0M424.6 152.9h0M442.9 166.7h0M437.5 167.9h0M444.9 163.9h0M423 133.8h0M420 159.2h0M448.3 162.6h0M443.1 158.2h0M435.9 155.9h0M440.9 164.9h0M447.4 164.3h0M451.6 160.2h0M439.4 166.8h0M439.1 157.9h0M452.4 151.7h0M437.6 150.8h0M436 151.3h0M441.1 166.7h0M432.4 167.3h0M446.8 164.7h0M452.9 155.5h0M447.5 160.3h0M441.1 148.3h0M454.9 166.6h0M454.6 167.2h0M436.3 166.2h0M439.4 164.8h0M436.5 149.8h0M434.4 162.6h0M452.3 155.6h0M444.1 160.4h0M447.6 156.2h0M451.9 155.8h0M445.5 160.6h0M435.5 153.4h0M447.2 162.3h0M440.2 163.8h0M447.6 155.5h0M438.2 166.8h0M451.9 150.8h0M432.9 164.2h0M446.5 150.1h0M455.4 164.8h0M445.2 151.2h0M440.3 147.8h0M441.7 164h0M435.1 151.6h0M448.9 161.8h0M436.6 149.7h0M443.9 147.5h0M444.5 152.9h0M440.1 152.3h0M439.2 156.4h0M438.8 157.4h0M447 158h0M434.9 167.2h0M448.5 159.7h0M434.6 158.6h0M448.3 158.1h0M441.3 161.3h0M436.6 145.6h0" stroke="#0000fa" stroke-width="2.5" stroke-linecap="round" fill="none"/>
<path d="M487.3 155.7h0M490.9 155h0M458.1 140.7h0M461.9 143.3h0M470.3 153.4h0M473 168.2h0M457.9 158h0M482.8 157.5h0M471.2 154.4h0M471.3 167.5h0M489.8 148.7h0M493.1 166.5h0M458.2 153.8h0M458.8 134h0M459.5 146.2h0M483.1 146.2h0M490.7 167.5h0M476.1 150.9h0M494.4 160.1h0M462.3 155.8h0M471.8 147.2h0M483.2 164.9h0M460.8 166.4h0M458.6 138h0M462.7 154.9h0M465.2 153.4h0M475.9 145.3h0M464.4 143.9h0M482.8 149.3h0M485.4 167.4h0M475.3 140.6h0M460 151.2h0M465.5 130.4h0M466.3 139h0M458.1 136.2h0M469.8 153.3h0M475.1 156.6h0M468.6 157h0M488.4 155.8h0M500 165.9h0M485.1 152.5h0M461.3 166.4h0M467.5 136.2h0M469.5 163.8h0M462.5 143.8h0M459.6 135.9h0M501.7 168h0M496.8 164.4h0M475.8 159.4h0M496.5 159h0M457.7 138.6h0M499.3 160.6h0M459 141.8h0M493.1 144.9h0M498.8 158h0M458.2 162.9h0M487.9 152.8h0M459.6 159h0M458.8 131.9h0M457.5 158.6h0M481.9 165.6h0M458.5 137.6h0M459.1 150.7h0M498.8 167.6h0M493.1 162.5h0M468.9 158.3h0M481 161.5h0M482.7 162.4h0M458.7 131.9h0M497 161.6h0M499.4 162.7h0M470.4 154.6h0M472.5 140.9h0M476.9 151.2h0M457.8 166.2h0M465.8 164.6h0M479.6 168.2h0M458.6 129h0M458 163h0M492.9 157.3h0M464.4 163.8h0M458.1 138.9h0M457.5 148.4h0M465.7 147.9h0M492 141.8h0M492.8 162.1h0M482.5 162.4h0M466.5 131.5h0M458 145.2h0M479.1 159.5h0M490.2 160.7h0M457.6 167.1h0M478.6 159h0M458.2 135.3h0M487.1 165.3h0M488.8 156.5h0M459.8 143.7h0M482.9 159.4h0M457.7 158.1h0M469.5 150.6h0M491.7 161.6h0M459 147.5h0M470 150.8h0M501.6 143.2h0M490.8 163.7h0M467.1 167.5h0M457.7 157.1h0M470.1 152.8h0M458.2 127h0M473.2 157h0M467 152.4h0M470 131h0M457.5 142.9h0M482.9 159.9h0M462.1 125.9h0M466.1 144.7h0M471.8 168.1h0M459.5 159.8h0M494 166.3h0M471.3 134.2h0M467.6 148.1h0M475.9 143.4h0M459.7 165h0M460.5 135.4h0M473.9 157.4h0M476.1 137.3h0M478 157.6h0M498.4 167.1h0M458.5 161.5h0M458.5 150.6h0M461.2 131.7h0M498.6 151.6h0M465.8 160.6h0M470 158.4h0M486 166.4h0M462 128.1h0M468.7 135.7h0M470 161.9h0M495.6 167.6h0M467.1 150.8h0M486.9 152.4h0M459.7 156.7h0M486.7 162.5h0M470 156.6h0M461.6 167.2h0M487.7 146.6h0M461.1 164.2h0M475.7 148.9h0M490.8 159.5h0M499.3 166.6h0M460 162.3h0M497.3 168.2h0M471.8 145.9h0M470.2 163.3h0M483 164.5h0M475.9 143.1h0M468.2 155.8h0M465.5 138h0M486.9 165.3h0M498.2 155.1h0M459.9 167.3h0M498.4 160.6h0M487 146.8h0M457.5 139.7h0M464.7 137.7h0M480.3 141.6h0M484.7 164.9h0M477.5 162.8h0M493.7 164.8h0M460.1 166.5h0M468.3 147.7h0M489.4 168.1h0M461.4 130.4h0M501.9 164.8h0M460.3 165.5h0M471.8 157.6h0M457.7 142.4h0M487 141.6h0M457.5 138.8h0M465.7 150h0M499.6 160.6h0M467 135.1h0M462.5 148.5h0M459.3 162.5h0M457.6 156.4h0M461.9 145h0M469.2 142.9h0M468.6 150.6h0M464.8 141.3h0M475.3 146.5h0M467.4 162.1h0M462.8 147.2h0M477.4 154.1h0M469.2 136.4h0M482.7 163.6h0M493.1 164.3h0M464.9 139.3h0M466.6 162.2h0M474.5 133.9h0M489.8 152.1h0M459.5 166.5h0M458.7 157.4h0M473.7 157.5h0M459.5 164.4h0M470.9 136.9h0M466.9 140.9h0M462.3 164.4h0M457.7 145.4h0M493.3 145.3h0M483.8 151.6h0M460.6 151.3h0M477.4 153.9h0M458.4 158.7h0M458.4 158.1h0M491.9 157.7h0M494.8 153.6h0M470.1 163.1h0M471.8 158.8h0M457.7 152.9h0M482.3 152.9h0M482.5 153.3h0M460.8 153.8h0M468.4 161.6h0M468.4 138.1h0M492.5 161.8h0M472.5 155.9h0M502.1 158.5h0M461.4 160.8h0M464.3 157.3h0M457.9 143.7h0M462.7 161.5h0M458.9 165.8h0M457.7 157.9h0M465.2 147.2h0M457.6 152h0M467.1 160.8h0M457.9 143.6h0M468 137.9h0M487.9 165.1h0M458.5 150.7h0M467.9 161.3h0M465.4 128.5h0M460 152.3h0M493.4 163.9h0M463 138.6h0M461.9 143h0M484.7 158.8h0M489.6 147.5h0M457.5 163.5h0M463.2 165.4h0M466 155.3h0M461.3 144.3h0M471.5 150.6h0M483.4 153.2h0M500 156.8h0M457.7 136.6h0M457.8 131.6h0M478.3 164.5h0M457.6 146.3h0M460.8 154.9h0M464.8 164.4h0M458.4 148h0M484.8 164.7h0M470.2 154.8h0M486.8 161h0M483.1 156.9h0M493.4 159.5h0M491.2 162.1h0M481.1 164.1h0M458.2 148.9h0M462.2 152.8h0M479.4 154.2h0M488.4 156.4h0M470.7 137.5h0M458.6 166.7h0M458 150.3h0M463.7 144.3h0M495.8 157.8h0M498.4 163.9h0M458.4 161.7h0M470.8 159.8h0M479.8 165.6h0M485.9 146.2h0M486.8 153.6h0M479.7 163.1h0M499.5 164.8h0M479.2 153.4h0M480.1 149.7h0M495.8 159.8h0M478.1 164.3h0M498.2 153.4h0M463.7 159.3h0M458.5 160.8h0M468.8 147.9h0M461.9 153.3h0M484.5 166.5h0M463.8 141.2h0M465.1 168.2h0M460 134.6h0M461.5 168.1h0M461.7 150.1h0M459.4 168.1h0M470.2 142.4h0M471.3 149.2h0M469 151.2h0M479.5 163.7h0M460.4 143h0M459 164.6h0M461 164.8h0M490.8 157h0M474 133.7h0M462.3 130.5h0M463.8 131.8h0M466.1 139.9h0M469.1 148.3h0M485.2 166.5h0M476.7 160.8h0M478.3 167.7h0M480.2 156.7h0M457.8 136.4h0M500.2 154.6h0M479.4 145.3h0M483 166.2h0M486.5 165.9h0M459.1 162.9h0M464.2 165.7h0M489.5 160.4h0M461.5 149h0M485 151.5h0M491.4 163.1h0M465.4 129.5h0M457.5 146.1h0M471.1 144.8h0M486.3 150.8h0M477.6 148.1h0M499 167.3h0M464 137.5h0M458.6 164.3h0M473.9 155.8h0M485.9 135.5h0M472.8 159.9h0M486.7 153.1h0M482.3 142.6h0M459.6 155.1h0M460.2 145.2h0M467.3 143.1h0M458.7 146h0M494.9 158h0M457.7 160h0M460.2 163.5h0M457.6 136.5h0M459.3 157h0M488.6 150.5h0M472.5 157.5h0M490.8 163h0M482.8 160.1h0M473.5 147.2h0M466.7 134.8h0M471.4 157.6h0M484.9 167.5h0M465.9 149.8h0M492.4 163.9h0M498.1 165.3h0M461.7 163.4h0M469.1 162.7h0M464.7 153.9h0M465.6 150.5h0M457.7 160.6h0M494.7 152.4h0M466.6 166.2h0M457.6 159.1h0M489.7 165.7h0M474.8 160.3h0M468 147.1h0M465.1 152h0M478 161.1h0M497.8 148.9h0M460.4 164.6h0M457.6 160.2h0M492.5 164.5h0M470 145.3h0M474.4 151.6h0M459.3 135h0M457.6 139.5h0M458.6 165.9h0M460.7 133.2h0M488.6 159.2h0M457.8 166.5h0M459.6 146h0M491.7 155.1h0M498.5 157.8h0M460 164.6h0" stroke="#8cf4fa" stroke-width="2.4" stroke-linecap="round" fill="none"/>
<path d="M502.4 167.4h0M524.3 153.9h0M505.9 158.2h0M517.4 161.5h0M519 162.2h0M512 151.9h0M519.8 155.5h0M505.7 165.4h0M525.3 155.2h0M532.1 158.5h0M541.7 162.5h0M534.9 159.5h0M505.3 153.9h0M541.1 165.8h0M530.5 166h0M529 153.5h0M521.2 164.5h0M538.7 165.3h0M515 156.9h0M518.2 155.8h0M505.5 158.6h0M544 167.5h0M515.9 162.1h0M502.1 162.2h0M505.9 162.9h0M504.7 165.8h0M512.9 164.6h0M529.2 164.1h0M516.8 164.6h0M502.9 157.3h0M526.3 154.6h0M526.6 159.2h0M533.1 160.9h0M506.1 150.5h0M528.8 158.7h0M527.2 154.8h0M502.4 151.8h0M520.9 165.9h0M534 166.3h0M507.9 160.8h0M510.5 156.3h0M526.8 167.9h0M544.1 162.3h0M504.7 154.3h0M542.5 166.2h0M520.9 152.2h0M503.4 166.9h0M532.4 153.3h0M538 162.3h0M530.5 166h0M532 152.6h0M538.2 167.4h0M513.8 154.5h0M543.1 159.8h0M506.8 161.9h0M502.9 163.2h0M534.6 160.8h0M544.7 165.3h0M538.4 164.2h0M534.6 167.6h0M524.1 156.6h0M539 158.9h0M514.9 158.9h0M530.2 163.8h0M511.3 166.8h0M518.5 160.8h0M530.5 166.6h0M527.9 162.9h0M532.5 164.3h0M526.8 164.9h0M537.4 167.8h0M536.4 165.4h0M509 161.7h0M535 166.4h0M517.2 166.3h0M516.8 157.8h0M534.2 167h0M510 148.3h0M523.6 164.9h0M501.5 165h0M534.9 165.5h0M526.1 156.7h0M513.6 161.8h0M538.4 164.3h0M519.7 155.9h0M519.9 157.7h0M531.8 164.2h0M505.7 166.3h0M529.6 162.8h0M521.4 155.4h0M519.6 167.8h0M519.9 157.3h0M519.1 158h0M521.5 159.8h0M514 157.2h0M516.8 156h0M522.2 166.5h0M539.4 159.9h0M532.3 158.9h0M502.3 162h0M543.7 153.6h0M519.5 162.4h0M515.4 155.4h0M522.9 156.8h0M522.7 158.8h0M509.4 162h0M503.2 163.3h0M523.5 163h0M514.5 152.5h0M504.8 153.8h0M518.3 158.5h0M530.9 168.2h0M521.2 160.5h0M511.6 160.9h0M526.4 165.4h0M531.1 160.7h0M512.2 167.6h0M502.8 158.2h0M544.3 158.8h0M522.6 161.2h0M537.7 163.3h0M542.4 168h0M510 165.3h0M531.1 166.1h0M520.6 162.6h0M540.3 161.4h0M535 153.8h0M522.8 153.2h0M527 149.8h0M543.9 164.9h0M503.5 165h0M504.3 161h0M541.3 163.8h0M537.9 163.8h0M501.4 156.9h0M514.1 163h0M517.2 158.2h0M525.3 160.8h0M507.4 162.9h0M509.4 154.9h0M513.4 161.1h0M501.1 152.3h0M503.1 153.9h0M538.6 164h0M532.6 158.4h0M512.4 163.5h0M503.9 165.6h0M506.1 145.4h0M539 164.9h0M501.9 165.4h0M536.3 158.7h0M538.4 166h0M512.8 151.9h0M524.8 165.1h0M508.2 154.5h0M544.5 167.1h0M533.5 161.9h0M537.3 168.2h0M502.1 149.5h0M501.3 157.3h0M532.4 165.2h0M524.3 164.6h0M531.2 157.6h0M542.4 163.9h0M511.1 160.1h0M534.2 162.6h0M506.2 161.4h0M539.2 165.6h0M532.9 165.8h0M511.5 161.1h0M501.5 161h0M512.5 163.6h0M506.9 150.8h0M509.7 151.7h0M532.5 158.9h0M508.8 152.1h0M541.4 160.3h0M510.3 154h0M518.9 156.1h0M510.2 159.4h0M528.6 158.5h0M524.4 161.2h0M505.1 163.2h0M513.6 160.1h0M511.3 167.9h0M501 164.9h0" stroke="#6ec846" stroke-width="2.4" stroke-linecap="round" fill="none"/>
<path d="M546 152.4h0M546.6 160h0M548 164h0M551.6 163h0M552 167h0M545 166.8h0M560 167h0M563.6 162h0M564 167h0M568.6 167.6h0M578 164h0M580 166h0M549 167.5h0" stroke="#e00000" stroke-width="2.6" stroke-linecap="round" fill="none"/>
<path d="M417.5 80h0M418 92h0M417.6 105h0M418.2 112h0" stroke="#0000fa" stroke-width="2.5" stroke-linecap="round" fill="none"/>
<path d="M466.8 157L472.7 166.5L460.9 166.5Z" fill="#f0ae6c" stroke="#262618" stroke-width="1.1" stroke-linejoin="round"/>
<circle cx="466.8" cy="163.3" r="0.5" fill="#8a6a40"/>
<path d="M538.3 168L544.2 158.5L532.4 158.5Z" fill="#f0ae6c" stroke="#262618" stroke-width="1.1" stroke-linejoin="round"/>
<circle cx="538.3" cy="161.7" r="0.5" fill="#8a6a40"/>
<path d="M588 160.6L593.8 166.4L588 172.2L582.2 166.4Z" fill="#f0ae6c" stroke="#262618" stroke-width="1.1" stroke-linejoin="round"/>
<circle cx="588" cy="166.4" r="0.5" fill="#8a6a40"/>
</g>
<path d="M413.7 5.5L413.7 1.3M413.7 239L413.7 243.2M457.5 5.5L457.5 1.3M457.5 239L457.5 243.2M501.3 5.5L501.3 1.3M501.3 239L501.3 243.2M545.1 5.5L545.1 1.3M545.1 239L545.1 243.2M589 5.5L589 1.3M589 239L589 243.2M632.8 5.5L632.8 1.3M632.8 239L632.8 243.2M676.6 5.5L676.6 1.3M676.6 239L676.6 243.2M413.7 239L409.5 239M676.6 239L680.8 239M413.7 122.2L409.5 122.2M676.6 122.2L680.8 122.2M413.7 5.5L409.5 5.5M676.6 5.5L680.8 5.5" stroke="#505050" stroke-width="1" fill="none"/>
<path d="M422.5 5.5L422.5 3.3M422.5 239L422.5 241.2M431.2 5.5L431.2 3.3M431.2 239L431.2 241.2M440 5.5L440 3.3M440 239L440 241.2M448.8 5.5L448.8 3.3M448.8 239L448.8 241.2M466.3 5.5L466.3 3.3M466.3 239L466.3 241.2M475 5.5L475 3.3M475 239L475 241.2M483.8 5.5L483.8 3.3M483.8 239L483.8 241.2M492.6 5.5L492.6 3.3M492.6 239L492.6 241.2M510.1 5.5L510.1 3.3M510.1 239L510.1 241.2M518.9 5.5L518.9 3.3M518.9 239L518.9 241.2M527.6 5.5L527.6 3.3M527.6 239L527.6 241.2M536.4 5.5L536.4 3.3M536.4 239L536.4 241.2M553.9 5.5L553.9 3.3M553.9 239L553.9 241.2M562.7 5.5L562.7 3.3M562.7 239L562.7 241.2M571.4 5.5L571.4 3.3M571.4 239L571.4 241.2M580.2 5.5L580.2 3.3M580.2 239L580.2 241.2M597.7 5.5L597.7 3.3M597.7 239L597.7 241.2M606.5 5.5L606.5 3.3M606.5 239L606.5 241.2M615.2 5.5L615.2 3.3M615.2 239L615.2 241.2M624 5.5L624 3.3M624 239L624 241.2M641.5 5.5L641.5 3.3M641.5 239L641.5 241.2M650.3 5.5L650.3 3.3M650.3 239L650.3 241.2M659.1 5.5L659.1 3.3M659.1 239L659.1 241.2M667.8 5.5L667.8 3.3M667.8 239L667.8 241.2M413.7 215.7L411.5 215.7M676.6 215.7L678.8 215.7M413.7 192.3L411.5 192.3M676.6 192.3L678.8 192.3M413.7 168.9L411.5 168.9M676.6 168.9L678.8 168.9M413.7 145.6L411.5 145.6M676.6 145.6L678.8 145.6M413.7 98.9L411.5 98.9M676.6 98.9L678.8 98.9M413.7 75.5L411.5 75.5M676.6 75.5L678.8 75.5M413.7 52.2L411.5 52.2M676.6 52.2L678.8 52.2M413.7 28.8L411.5 28.8M676.6 28.8L678.8 28.8" stroke="#777" stroke-width="0.9" fill="none"/>
<path d="M413.7 5.5H676.6V239H413.7Z" stroke="#505050" stroke-width="1.3" fill="none"/>
<rect x="412.9" y="75.5" width="3" height="93.4" fill="#e8941e"/>
<path d="M416.3 77h0M416.5 82h0M416.4 93h0M416.2 104h0M416.6 111h0M416.3 118h0M416.5 126h0M416.2 140h0M416.4 152h0" stroke="#0000fa" stroke-width="2.4" stroke-linecap="round" fill="none"/>
<text x="415.2" y="256.6" font-size="12.5" text-anchor="middle" fill="#1a1a1a" stroke="#1a1a1a">0</text>
<text x="459" y="256.6" font-size="12.5" text-anchor="middle" fill="#1a1a1a" stroke="#1a1a1a">5</text>
<text x="502.8" y="256.6" font-size="12.5" text-anchor="middle" fill="#1a1a1a" stroke="#1a1a1a">10</text>
<text x="546.6" y="256.6" font-size="12.5" text-anchor="middle" fill="#1a1a1a" stroke="#1a1a1a">15</text>
<text x="590.5" y="256.6" font-size="12.5" text-anchor="middle" fill="#1a1a1a" stroke="#1a1a1a">20</text>
<text x="634.3" y="256.6" font-size="12.5" text-anchor="middle" fill="#1a1a1a" stroke="#1a1a1a">25</text>
<text x="678.1" y="256.6" font-size="12.5" text-anchor="middle" fill="#1a1a1a" stroke="#1a1a1a">30</text>
<text x="406" y="244.1" font-size="12.5" text-anchor="end" fill="#1a1a1a" stroke="#1a1a1a">120</text>
<text x="406" y="127.3" font-size="12.5" text-anchor="end" fill="#1a1a1a" stroke="#1a1a1a">125</text>
<text x="406" y="10.6" font-size="12.5" text-anchor="end" fill="#1a1a1a" stroke="#1a1a1a">130</text>
<text x="545" y="275.3" font-size="12.5" text-anchor="middle" fill="#1a1a1a" stroke="#1a1a1a">&#916;a<tspan font-size="9.5" dy="3">&#956;</tspan><tspan dy="-3"> [10</tspan><tspan font-size="9.5" dy="-7">-10</tspan><tspan dy="7">]</tspan></text>
<text transform="translate(366.6 122.3) rotate(-90)" font-size="12.5" text-anchor="middle" fill="#1a1a1a" stroke="#1a1a1a">m<tspan font-size="9.5" dy="3">H</tspan><tspan dy="-3"> [GeV]</tspan></text>
<g clip-path="url(#cBL)">
<path d="M71.4 358.8L72.2 360.4L73.2 362.8L74.4 365.3L75.5 367.5L76.4 369.3L77.3 370.8L78.1 372.3L79 373.8L79.9 375.2L80.8 376.6L81.6 378L82.5 379.4L83.4 380.8L84.3 382.2L85.1 383.6L86 385L86.8 386.3L87.6 387.6L88.4 388.8L89.2 390L89.9 391.1L90.6 392.2L91.4 393.3L92.5 394.5L93.9 395.9L95.5 397.5L97.3 399L99 400.3L100.7 401.4L102.5 402.4L104.2 403.3L106 404L107.7 404.6L109.3 405.1L111.1 405.5L113 405.8L115.2 406L117.6 406L120.1 406L122.5 406L124.8 405.9L127 405.8L129.1 405.7L131.3 405.5L133.3 405.3L135.3 405L137.4 404.6L140 404.2L143.3 403.7L147.2 403.2L151.2 402.5L155 401.6L158.6 400.4L162.2 398.9L165.7 397.4L169 396L171.2 395.1L172.7 394.6L175.1 393.6L180 391.8L188.4 388.6L199.2 384.5L211 380L222.3 375.8L232.5 372.1L242.5 368.7L253 364.9L264.7 360.5L279.4 354.5L296.3 347.5L311.8 341L322.6 336.5L322.6 371L311.8 375.6L296.3 382.1L279.4 389.3L264.7 395.5L253 400.5L242.5 405L232.5 409.3L222.3 413.5L211 418L199.2 422.5L188.4 426.6L180 429.8L175.1 431.7L172.7 432.7L171.2 433.2L169 433.9L165.7 434.8L162.2 435.6L158.6 436.3L155 437L151.2 437.6L147.2 438.2L143.3 438.7L140 439.2L137.4 439.6L135.3 440L133.3 440.3L131.3 440.5L129.1 440.6L126.9 440.5L124.7 440.4L122.5 440.1L120.3 439.7L118.1 439.2L116 438.5L113.8 437.9L111.5 437.3L109.2 436.6L107 435.9L105 435L103.3 434L101.8 432.9L100.4 431.7L99 430.5L97.4 429.2L95.8 427.7L94.3 426.3L93 425L91.9 423.8L91.1 422.8L90.3 421.7L89.5 420.7L88.6 419.7L87.8 418.6L86.9 417.6L86 416.5L85.1 415.4L84.2 414.2L83.4 413L82.5 411.6L81.6 410L80.8 408.4L79.9 406.5L79 404.6L78.1 402.5L77.3 400.2L76.4 397.9L75.5 395.5L74.4 392.9L73.2 390.2L72.2 387.7L71.4 386Z" fill="#f8ea8e"/>
<path d="M71.4 364L71.9 365.1L72.6 366.8L73.4 368.6L74.1 370.3L74.8 371.9L75.5 373.5L76.2 375.1L76.9 376.6L77.6 378.1L78.3 379.5L79 380.9L79.7 382.2L80.4 383.5L81.1 384.7L81.8 385.9L82.5 387.1L83 388.1L83.5 389L84.1 390L85 391.2L86.4 392.8L88.2 394.8L90.1 396.7L92 398.5L93.8 400L95.5 401.3L97.2 402.6L99 403.8L100.8 405L102.5 406.1L104.2 407.1L106 408L107.7 408.8L109.3 409.5L111.1 410.1L113 410.6L115.2 411L117.6 411.3L120.1 411.5L122.5 411.6L124.8 411.7L127 411.7L129.1 411.7L131.3 411.6L133.3 411.5L135.3 411.4L137.4 411.2L140 410.8L143.3 410.3L147.2 409.8L151.2 409L155 408.1L158.6 406.9L162.2 405.4L165.7 403.8L169 402.5L171.2 401.7L172.7 401.2L175.1 400.3L180 398.6L188.4 395.6L199.2 391.8L211 387.5L222.3 383.3L232.5 379.3L242.5 375.3L253 371.1L264.7 366.4L279.4 360.5L296.3 353.8L311.8 347.7L322.6 343.4L322.6 363.1L311.8 367.2L296.3 373.2L279.4 379.7L264.7 385.4L253 390L242.5 394.2L232.5 398.3L222.3 402.3L211 406.7L199.2 411.2L188.4 415.3L180 418.4L175.1 420.2L172.7 421.1L171.2 421.6L169 422.3L165.7 423.5L162.2 424.7L158.6 426L155 427L151.2 427.8L147.2 428.5L143.3 429.1L140 429.6L137.4 430.1L135.3 430.6L133.3 431L131.3 431.3L129.3 431.6L127.4 431.8L125.3 431.9L122.5 431.8L118.4 431.4L113.5 430.7L108.7 429.9L105 429.2L102.9 428.6L101.8 428L101 427.3L100 426.5L98.6 425.6L97.2 424.6L95.8 423.4L94.4 422.2L93.1 420.8L92 419.3L90.8 417.7L89.5 416L88.1 414.4L86.7 412.9L85.3 411.1L83.9 409L82.6 406.3L81.4 403.2L80.2 400L79 397L77.8 394.3L76.6 391.7L75.5 389.2L74.5 387L73.6 384.9L72.7 382.9L71.9 381.2L71.4 380Z" fill="#cffac6"/>
<path d="M241.1 347h0M242.2 360.7h0M241.5 356.9h0M242.7 384.2h0M243.9 383.6h0M242.7 384h0M242.8 364.4h0M243.5 388.9h0M241.2 345.7h0M243.4 393.3h0M242.7 365.3h0M240.8 350.8h0M241.9 379.7h0M243.1 377.1h0M242 381.6h0M241.9 371.6h0M240.8 343.4h0M243.8 384.1h0M242.3 385.1h0M243.9 389.3h0M242 353.6h0M240.9 341.7h0M240.7 345.9h0M242 362.3h0M240.5 342.1h0M242.7 364.2h0M241 343.7h0M241.8 370.1h0M243.6 392.5h0M240.8 341.8h0M243.6 378.2h0M243.4 380.2h0M241.8 362.6h0M242.4 384.6h0M242.6 390.6h0M241.3 346.9h0M242.1 361.2h0M241.5 351.1h0M241.4 353.1h0M242.4 385.3h0M241.9 353.6h0M241.7 351.9h0M240.7 341h0M240.9 353h0M242.9 366.5h0M241.5 355h0M241.7 370.7h0M241.6 364h0M241.1 345.5h0M242.3 382.4h0M242.7 389.5h0M241.1 342.2h0M241.7 352.3h0M242 371.8h0M241.1 356.2h0M241.3 361.6h0M242 353.8h0M241.3 351.3h0M242.2 370.5h0M242.5 378.3h0M240.1 338.1h0M241 345.7h0M243.2 392.1h0M244.1 388.4h0M241.7 361.6h0M242.4 379.2h0M242.1 357h0M241.7 347.7h0M241.2 345.9h0M240.7 343h0M241.5 359.2h0M242.1 358.7h0M240.5 341.5h0M242.1 367.8h0M242 361.7h0M243.7 384.5h0M243.5 390.2h0M240.7 338h0M241.5 368.5h0M241.1 344.4h0M240.5 339.6h0M240.7 341.7h0M242.1 365.7h0M241.5 346.2h0M241 344.2h0M241 342.7h0M243.1 394.4h0M241.4 346.9h0M241.2 342.7h0M242.1 357.5h0M242.2 358.1h0M243 374.5h0M242.7 363.9h0M243.6 380.4h0M242 373.1h0M242 353.8h0M242.9 378.7h0M240.8 343.7h0M241.2 343.3h0M241.4 365.3h0M241.6 349h0M243.8 384.8h0M240.4 342.1h0M243.3 373.4h0M241.7 374.8h0M241.7 354.5h0M242.2 367.5h0M244 393.6h0M241.8 370.8h0M243.4 380.3h0M242.6 370.6h0M240.4 337.8h0M240.6 337.3h0M241 347.7h0M240.7 340.4h0M242.2 375.6h0M241.1 355h0M241.6 356.3h0M241.9 350.3h0M240.6 346.9h0M242.8 369.8h0M242.2 360.3h0M241.8 353.3h0M242.1 358h0M240.5 345.5h0M240.5 343.8h0M241.1 352.6h0M243.9 388.2h0M244.2 394.2h0M241.5 362.2h0M242.1 366.8h0M243.5 392.9h0M240.6 341.2h0M241.3 345.9h0M240.1 337.8h0M240.1 338.7h0M241.4 353h0M244.3 391.6h0M241.3 349.2h0M242.1 364.4h0M242.2 381.3h0M241.7 360.8h0M243.6 379.6h0M241.3 349.6h0M243.5 389.6h0M241.5 362h0M243.1 381.4h0M242.9 380.8h0M241.7 372.6h0M242.9 391.8h0M241.7 351.3h0M241.6 365.6h0M242.4 371.2h0M240.7 346.2h0M241.8 377.5h0M242.4 385.5h0M241.3 347.4h0M244.2 391.1h0M242.2 367h0M242.2 365.2h0M242.3 369.7h0M243.2 379.6h0M243.2 382.9h0M242.2 362h0M241.1 345.1h0M242.7 393.6h0M241.4 346.9h0M243.3 376.8h0M240.7 348.8h0M241 341h0M241.9 376.8h0M241.9 368.5h0M240.5 337.4h0M241.6 369.3h0M242.7 379.8h0M241.9 357.1h0M242.7 369.2h0M242.4 366.3h0M242.8 379h0M241.4 360.9h0M243.3 391.4h0M244.4 393.6h0M242.7 380.5h0M240.9 339.9h0M244.2 390.4h0M240.5 342.2h0M241.5 350.1h0M240.2 338.1h0M242 356.2h0M242.3 379.4h0M241.1 341.3h0M243.3 377.7h0M242.1 381.9h0M240.8 338.2h0M240.8 347.2h0M244 392.6h0M240.5 342.7h0M241.9 371.4h0M242.8 367.3h0M240.8 340.3h0M243.5 380.2h0M242.3 364.2h0M242.8 394.1h0M242.4 359.4h0M241.6 359.9h0M241.6 345.7h0M242.8 387.8h0M240.4 342.6h0M241.8 358.8h0M243.7 393.7h0M242.5 370.6h0M240.8 346.6h0M243.3 393.5h0M243.2 369.9h0M242.8 384.9h0M240.4 337h0M242.4 393.7h0M244 388.1h0M243.6 381.4h0M242.6 384.2h0M240.8 343.2h0M242.4 377.5h0M243.3 393.5h0M241.7 365.7h0M242 353.2h0M242.5 367.1h0M242.6 370.1h0M242.5 360.1h0M242.3 365.5h0M241.6 349.9h0M241.9 369.5h0M240.8 338.5h0M241.4 344.3h0M243.1 369.6h0M242.2 372.8h0M242.1 366.7h0M243 392.1h0M242.2 366.5h0M242.6 379.8h0M241.6 369.5h0M240.8 343.3h0M242.6 365.4h0M241.5 368.2h0M241.6 363h0M242.3 376.9h0M241.5 349.2h0M243.1 373.2h0M240.3 338.4h0M242.5 361.4h0M241.2 348.3h0M242.4 366.8h0M242.5 393.1h0M240.9 339h0M242.2 360.5h0M242.1 360.5h0M241.2 359.1h0M243.5 389.1h0M243 368.6h0M243.2 387.1h0M240.7 340.5h0M242.9 369.2h0M243.1 378.6h0M240.2 338.5h0M242.2 378.3h0M242.4 372.6h0M243.8 384.9h0M243.3 390.9h0M241.9 368.3h0M242.4 364.1h0M244.3 390.7h0M241.9 354.7h0M241.7 363.8h0M243.2 394.4h0M240.7 346.2h0M243.5 394.1h0M240.8 347h0M241.1 354h0M240.6 345.2h0M243.7 388.5h0M242.6 382.7h0M240.7 340.1h0M242.5 358.7h0M241.5 350.9h0M243.5 394.3h0M242.2 362.5h0M240.9 352.4h0M241.5 353.7h0M242 363.9h0M242.5 368.1h0M241.4 346.7h0M241 352.7h0M241 345.1h0M241.4 362.1h0M242.9 383.6h0M242.1 363.6h0M243.2 379h0M240.2 338.7h0M240.5 339.9h0M243.2 389.2h0M243 377.5h0M236.4 332.8h0M239.5 332.8h0M238.4 335.5h0M239 338h0" stroke="#e8941e" stroke-width="2.5" stroke-linecap="round" fill="none"/>
<path d="M292.5 333.6h0M293.5 333.8h0M294.2 335h0M293.3 335.6h0M294.6 336h0" stroke="#e8941e" stroke-width="2.6" stroke-linecap="round" fill="none"/>
<path d="M71.4 377L74.5 385L79 395.5L83.9 407.4L85.3 409.2L89.5 414.4L94.4 420.7L100 425L105 427.8L113.8 430.5L122.5 430.9L126.9 430L131.3 427L140 421.7L148.8 417.9L155 415.8L169 409.5L180 405L222.3 389.3L264.7 372L322.6 348.2" fill="none" stroke="#111" stroke-width="1.2" stroke-linejoin="round"/>
<path d="M67.5 410L67.7 412.4L68.1 415.9L68.5 419.7L69.1 423.3L69.9 426.5L70.9 429.7L71.9 432.9L73 436L74.1 439L75.3 441.9L76.5 444.8L77.7 447.8L78.9 451.2L80.1 454.8L81.3 458.2L82.5 461.1L83.7 463.2L84.9 464.8L86 466.1L87.2 467.4L88.4 468.7L89.6 470L90.7 471.2L91.9 472.2L93.1 473.1L94.3 474L95.5 474.7L96.6 475.3L97.4 475.7L98.1 475.9L98.8 476.1L100 476.4L101.5 476.8L103.4 477.4L105.5 477.8L108.2 478L111.6 477.8L115.6 477.3L119.7 476.7L123.4 476.2L126.6 475.8L129.5 475.5L132.3 475.2L135 474.8L137.3 474.5L139.3 474.2L141.7 473.7L145 473L149.5 472L154.9 470.7L160.9 469.2L167 467.5L173.4 465.6L180.2 463.6L187.1 461.3L194 458.9L200.8 456.2L207.5 453.2L214.2 450.2L221 447.3L227.8 444.5L234.5 441.8L241.2 439.1L248 436.5L254.9 433.9L261.8 431.3L268.6 428.7L275 426.2L280.7 423.6L286 421L291.2 418.5L296.6 416.2L302.9 414L309.7 411.8L315.9 409.9L320.4 408.5L322.6 407.8L323.2 407.6L323 407.6L323 407.6" fill="none" stroke="#a0522d" stroke-width="2.0" stroke-linejoin="round"/>
</g>
<g clip-path="url(#cBL)">
<path d="M199.7 483.6h0M211.9 497.7h0M206.7 497.7h0M209.2 496.8h0M196.6 487.6h0M191.7 486.4h0M213.9 498.9h0M190.8 488.2h0M205.1 493.1h0M201.8 490h0M204.6 489h0M205.3 492.2h0M202 496.6h0M199.2 500.1h0M205.9 486.1h0M203.7 490.5h0M193.5 496.5h0M198.6 499.1h0M209.7 495.1h0M188.8 494.8h0M192 495.6h0M194 484.7h0M192.5 482.9h0M194.7 496.5h0M196.6 487.2h0M199.1 499.4h0M203.4 487.5h0M210 490.9h0M188.2 484.1h0M205.3 488.9h0M191.9 494.6h0M195.8 486.5h0M204.2 497.9h0M188.6 485.9h0M194.6 489.5h0M207.8 493.6h0M206.9 483.8h0M191.1 486.3h0M190.5 494.3h0M203 490.3h0M188.1 490.2h0M192.5 498.1h0M207.4 499.7h0M197.6 493.5h0M204.5 489.8h0M200.8 491.3h0M189.7 494h0M195.2 485.7h0M199.3 495.5h0M199.2 489.2h0M201.3 488.5h0M206.6 497.4h0M199.6 490.2h0M203 488h0M203.3 499.5h0M188.8 486h0M208.9 485.2h0M188.3 488.3h0M201.3 492.9h0M193.5 493.8h0M212.5 490.9h0M206.4 496.4h0M195.7 489.6h0M191.2 494.2h0M207.7 484.5h0M199.1 493.6h0M193.2 489.1h0M198 484h0M202.9 496.5h0M198 495.3h0M196.9 494.3h0M200 494.5h0M196.3 484.8h0M210.3 499.2h0M191.8 485.8h0M211 493.1h0M187.4 483.8h0M209.7 496.2h0M196.5 487.2h0M191.7 497.8h0M208.5 499.9h0M209.2 497.1h0M204.6 483.8h0M207.7 492.4h0M205.2 491.3h0M205.5 485.4h0M195.5 492h0M190.4 487.6h0M207.2 492.1h0M191.6 485.8h0M189.7 492h0M189.2 494.8h0M206.8 494.5h0M209.8 489.1h0M207.2 486.4h0M213.6 498.5h0M211.1 490.8h0M209.5 495.7h0M197 484.7h0M209.8 499h0M208 485.3h0M205.7 488.7h0M211.1 487h0M210.3 487.8h0M206.2 495.1h0M203.6 491.2h0M189.9 492.6h0M213.5 489.8h0M209.8 491.7h0M210.1 491h0M201.6 484.8h0M187 485.9h0M200 485.5h0M205.4 488.8h0M199.9 482.7h0M206.9 500.3h0M201.8 497.2h0M200.7 496h0M189.2 494.2h0M204.9 484.1h0M187.2 485.4h0M196.8 492.6h0M195 489.2h0M210.3 490.8h0M207 486.5h0M187 484.2h0M212.7 497.2h0M191.5 493.7h0M192.3 491.5h0M200.6 496.5h0M200.9 496.4h0M209 490.1h0M194.5 482.6h0M204.3 498.2h0M194.9 485.1h0M208.3 494.3h0M206.6 485.8h0M189.8 489.3h0M199.7 489.1h0M213.1 497.3h0M197.5 491h0M197.4 498.7h0M209.5 495.3h0M205.2 491.5h0M200.4 499.6h0M206.1 484.8h0M210.8 489.4h0M190.3 495.8h0M202.1 498.3h0M207.8 496.1h0M192.5 497.4h0M206.2 486.8h0M198.1 492h0M208 492.8h0M190.1 493.6h0M201.9 496.6h0M201.5 496h0M203.8 488.2h0M210.5 486.4h0M197.1 489h0M199.5 490.6h0M203.8 491h0M191.4 485.9h0M202.2 495.7h0M208.2 488.2h0M200.7 489.2h0M209.2 485.2h0M201 490.6h0M194.1 491.3h0M192.5 492.6h0M207.5 487h0M213 492.9h0M208.1 492.4h0M211.7 496.7h0M209.6 484.8h0M191.8 490.8h0M199 498h0M206.3 500.3h0M203.5 498.9h0M197.4 483.4h0M197.8 484.2h0M204.7 495.4h0M199 492.4h0M191.4 494.5h0M199.5 499.1h0M208.6 498.7h0M206.2 497.8h0M209.9 485.6h0M209 493.2h0M208.6 490.3h0M196.6 498.8h0M198.1 488.6h0M200.7 487.2h0M199.2 482.8h0M198.8 498.7h0M196 484.3h0M193 486.9h0M195.2 489.9h0M212.3 494.4h0M201.2 490.5h0M188.7 494.3h0M204.9 499h0M205.1 484.2h0M192.8 488.7h0M200.8 491.4h0M211.7 498.6h0M207.6 497.8h0M195.1 495.6h0M204.9 486.8h0M198.6 492.7h0M194.6 488h0M202.4 491.9h0M210.6 488.8h0M192.9 493.6h0M195.1 492.5h0M192.7 498.3h0M205.4 491h0M204.5 487.8h0M208.7 491.9h0M205.2 500.5h0M206.7 495h0M203.2 497.1h0M209.8 488.8h0M206.2 497.6h0M202.6 499.1h0M203.2 491.8h0M205.8 499.9h0M202.1 484.7h0M193.1 496.8h0M202.1 497.3h0M194.4 482.5h0M210.9 490.9h0M206.2 487.2h0M207.4 496.9h0M208.2 497.2h0M202.9 498h0M188.8 490.4h0M190.9 492.5h0M191.9 483.4h0M202.8 493.5h0M199.9 485.7h0M204.2 489.1h0M203.8 485.1h0M205.4 488.8h0M195.2 496.3h0M207.8 498.1h0M203.4 499.4h0M193.8 486.6h0M210.2 485.4h0M209.8 496h0M198.1 494h0M207.3 487.3h0M202.8 485h0M204 500.6h0M187.6 485h0M209.5 494.4h0M210.8 486.8h0M199.5 496.3h0M188.3 485.8h0M204.2 495.4h0M195.6 491.3h0M204.5 491.2h0M205.2 486.1h0M203.5 497.2h0M189.1 487.2h0M204 500.1h0M201.9 498.1h0M199.4 499.5h0M202.5 498.5h0M188.1 490h0M201.1 486.7h0M195.5 498.4h0M198.5 491.8h0M202.9 484.2h0M200 485.4h0M198.7 488.7h0M204.2 496.9h0M209.9 490.9h0M201 497.5h0M201.5 495.7h0M199.4 484.3h0M188.5 495.7h0M198.8 492h0M212.2 492.5h0M189.9 489.2h0M203.5 485.1h0M206.3 488.6h0M211.7 498.4h0M193.9 487.1h0M205.7 495.4h0M198.7 497.3h0M202.5 498.9h0M205.1 489.5h0M204.6 483.5h0M190.2 484h0M197.9 499.5h0M195.4 484.4h0M199.7 484h0M191.1 495.5h0M200 492.3h0M197.5 488.1h0M197.9 494.2h0M192.5 491.5h0M203.8 489.5h0M192.8 495.3h0M207 495.1h0M212.5 497.7h0M206.9 500.7h0M188.1 488h0M209.6 491.3h0M209.9 491.1h0M188.7 492.1h0M207.9 487h0M207.4 490.9h0M195.4 498.7h0M209.8 490.5h0M200.3 485.5h0M212 489.1h0M198.8 483.2h0M199.2 487.9h0M202.6 495.7h0M206.3 496.1h0M200.3 486.9h0M196 484.6h0M212.4 489.2h0M194.8 490.7h0M191.6 491.8h0M203.6 490.9h0M200.5 486.1h0M189.1 489.7h0M167 488.5h0M171 494.5h0M175 497.8h0M180 498h0M184 500h0M214 504h0M216 506h0" stroke="#8cf4fa" stroke-width="2.3" stroke-linecap="round" fill="none"/>
<path d="M258.7 482.1h0M251.2 495.4h0M261.3 491.6h0M244.1 491.2h0M254 487.7h0M236.9 495.5h0M244.8 486h0M240.3 497.2h0M237.2 504.1h0M247.7 483.4h0M266.1 476.6h0M221.9 507.2h0M253.6 476.8h0M253.4 490.1h0M267.5 472.5h0M220.6 493h0M215.4 486.7h0M237.4 498.2h0M263.7 482.8h0M249.4 492.6h0M256.2 469.8h0M253.9 476.2h0M237.6 489.4h0M221.4 488.4h0M229.3 499.7h0M236.2 490.5h0M265.5 479.5h0M243 492h0M252.1 493.4h0M216.8 495.5h0M239.2 493h0M223.4 493.7h0M262.8 487.4h0M252.7 480.1h0M258.1 485.4h0M216.7 495.5h0M223.4 501.5h0M236.6 496.6h0M232.8 503.8h0M258.3 489.4h0M244.3 494.5h0M264.3 479.7h0M240.6 497.7h0M258.3 479.4h0M253.6 472.4h0M212.6 500.6h0M223 503.7h0M212.1 498.4h0M238.4 495h0M264.9 484.8h0M263 473.3h0M223.5 488.7h0M232 487.3h0M253 491.1h0M262.8 480.2h0M217.1 494h0M213.5 490.6h0M263.5 472h0M222 484.6h0M219.2 493.6h0M213.5 498.8h0M252.1 478.7h0M251 497.4h0M226.6 506.6h0M264.6 485.5h0M238.9 491.3h0M236.8 506.5h0M218.7 494h0M218.9 495.3h0M217.7 504.1h0M242.9 494.3h0M250.5 490.7h0M228.7 492h0M236.1 497.1h0M225.4 491.2h0M217.3 506.8h0M232.9 501.5h0M245.6 491.1h0M230.7 493h0M260 486.4h0M224.8 499.6h0M261.5 483.4h0M247.9 482.2h0M255.6 491.2h0M220.7 496.9h0M237.3 502.5h0M226.1 484.9h0M259.8 486.9h0M230.7 495.6h0M214 496.7h0M225.3 492.1h0M228.7 502.5h0M256.4 487.3h0M258.4 489.6h0M236.8 491.4h0M215.4 486.9h0M258.1 481.7h0M218.9 490.2h0M253.9 482h0M265.6 475h0M261.2 484.5h0M220.5 486.4h0M229.4 506.1h0M254.7 490h0M228.9 494.7h0M225.7 490.7h0M214.2 505.8h0M255.1 479.7h0M217.9 490.9h0M254.2 491.2h0M226.5 507h0M228.7 496.3h0M252.3 473.3h0M253.6 476.9h0M252.8 491h0M221 496.8h0M220.5 507.3h0M256.2 476.3h0M255.4 484.6h0M218.1 497.7h0M244.4 497.2h0M218.1 491.2h0M259.1 484.1h0M246.8 487.3h0M217.6 500.6h0M223 504.6h0M254.6 486.7h0M213.5 495.1h0M212.7 493.9h0M218.6 502.8h0M218.5 503.6h0M221.7 494.5h0M245.5 495.1h0M237.1 505.5h0M253.2 477.8h0M257.2 485.1h0M265 474.5h0M245.1 494.8h0M216.1 488.2h0M215.3 506.3h0M224.3 491h0M245.8 498h0M228.9 501.4h0M250.6 477.7h0M214.4 492.1h0M216.5 506.4h0M261.1 476.5h0M243.2 491h0M263 480.2h0M232.9 504.5h0M254.1 495.2h0M218.5 506.5h0M231.9 495.1h0M238.4 490.8h0M215.6 492.4h0M258.4 491.8h0M231.9 503.6h0M228.7 495.5h0M253.3 479.3h0M223.8 506.4h0M264.6 489.5h0M224 493h0M212.1 496.2h0M257 483.5h0M249.6 493.9h0M226.1 497.9h0M251.7 475.7h0M213.4 493h0M234.3 504.2h0M212.2 499.3h0M261.7 476.9h0M239.1 498.1h0M226.3 491.7h0M253.4 486.2h0M262 489.5h0M258.4 480.7h0M236.6 503.3h0M250.4 493.6h0M246.3 495.2h0M213.9 487.9h0M245.5 488.9h0M262.9 490.3h0M222.4 489.4h0M230.7 500.6h0M258.3 467.4h0M255.3 480.8h0M218.2 501.2h0M248.6 497.8h0M266.3 480.2h0M242.1 491.5h0M212.3 492.5h0M225.3 503.2h0M264.8 476h0M213.8 487.3h0M248.2 486.1h0M226.6 492.3h0M233.6 502.7h0M240.7 499.1h0M253.2 477.6h0M244.8 487.1h0M253.9 475.4h0M227.2 501.3h0M217.2 489.1h0M251.7 474.4h0M219.6 502.7h0M231.4 502.8h0M249.4 482h0M217 498.5h0M222.3 485.4h0M250.4 492.1h0M235.6 502.3h0M265.5 473.9h0M223.2 485.9h0M213.1 488h0M216.5 488.8h0M232.9 496.4h0M225 500.6h0M245.9 496.1h0M252.3 489.4h0M212 499.7h0M228.4 492.5h0M222.2 492.1h0M251.3 484.7h0M211.2 499h0M235.3 494.1h0M219.4 494.2h0M265.1 478.4h0M218.1 487.4h0M252.8 474.3h0M220.1 494.2h0M252.2 481h0M228.1 507.7h0M228.3 505.4h0M255.9 474.2h0M255.3 469.7h0M258.9 481.1h0M255 492.6h0M231.7 505.7h0M234.2 500h0M231.1 492.1h0M229.4 494.9h0M235.5 503.4h0M233.5 504.2h0M249.8 490.9h0M228.9 489.8h0M264.4 471.1h0M238.3 489.6h0M219.1 495.8h0M226.3 505.4h0M249.7 497.1h0M262.2 477.7h0M263.6 481.8h0M241 499.7h0M259.5 493h0M230.7 505.6h0M229 485.6h0M264.3 483.7h0M257.6 492.2h0M257.1 477h0M222.1 495.3h0M254.9 490h0M214.7 498.1h0M218.3 489.8h0M230.1 488.1h0M214 499.2h0M261.3 473.8h0M248.3 481.3h0M226.4 484.7h0M219.8 494.7h0M229.3 501h0M235.2 504.8h0M257.9 478.7h0M229.1 505.3h0M262.7 484h0M241.9 494.2h0M212.9 502.6h0M252.6 480.1h0M238.4 497.9h0M222.2 506.8h0M217 488.3h0M246.4 494h0M246 493.3h0M214.1 500.5h0M261.1 482.5h0M234.6 490h0M264.9 477.8h0M248.1 494.8h0M263.9 470.5h0M255.5 481.5h0M250.4 479.7h0M248.1 490.8h0M238.1 498h0M257.7 479h0M253.3 492.5h0M232.4 502.1h0M257.8 469.2h0M252.4 479.1h0M215.7 504.1h0M227.6 499.5h0M224.2 497.7h0M223.5 491.2h0M249.5 495.6h0M236.7 499.2h0M217.6 491.1h0M228.6 503h0M230.7 493.4h0M260.4 476.6h0M229 497.7h0M261.9 472.5h0M229.9 491.3h0M214.2 502.5h0M257.2 475.7h0M217.3 495h0M241.4 493.4h0M225.4 493.6h0M236.9 491.5h0M235.6 493h0M237.1 493.2h0M234.5 492.6h0M261.7 478.4h0M235.4 497.1h0M251.9 479.8h0M225.5 505h0M265.3 471.5h0M262.6 481.6h0M239.7 498.8h0M250 477.7h0M219.6 502.5h0M222.6 504.7h0M231.5 505.7h0M259.1 490.2h0M224.3 488.4h0M221.2 501h0M217.7 501.5h0M260.9 491.3h0M226.5 506.9h0M264.4 471.6h0M218 492.4h0M263.9 470.2h0M244 491.2h0M257.5 493h0M229.1 487.2h0M240.4 490.2h0M259.1 477.4h0M227.4 492.3h0M267.3 479.3h0M266.8 484.5h0M227.9 497.2h0M261.3 480.8h0M258.2 478.1h0M236.7 499.7h0M214.2 504.1h0M253.7 477.7h0M215.8 492.3h0M253.6 486.6h0M236.7 505.3h0M221 485.8h0M256 486.2h0M217.6 488.7h0M219.2 497.1h0M250.9 491.9h0M246.7 490.1h0M225.6 491.1h0M254.1 492.6h0M220.3 488.7h0M213.6 487.1h0M264.2 476.4h0M253.1 483.4h0M215.3 501.5h0M222.1 485.9h0M255.2 491h0M248.8 490.1h0M219.4 489.3h0M246.1 491.3h0M247.1 485.7h0M267.1 473.6h0M252.8 478.1h0M235 502.8h0M259.6 480.7h0M212.1 497.4h0M262.4 479.1h0M255.4 478.2h0M260.2 482.6h0M215.8 485.2h0M249.1 488.3h0M251.5 483.4h0M261.6 482.1h0M267.8 473.6h0M260.1 484h0M218.8 499.5h0M213.4 493.4h0M267.2 478.1h0M218.2 496.8h0M266.4 482.6h0M227.5 495.4h0M227.4 495h0M249.5 478.2h0M230.9 501.1h0M234.2 501.9h0M232.1 494.9h0M230.8 490.8h0M247.8 482.1h0M267.7 479.1h0M249.4 480.3h0M227.7 503.2h0M251.5 487.1h0M262.1 485.9h0M225.1 495.6h0M236.6 498h0M224.1 487.9h0M221 503.7h0M266.5 471.3h0M258.7 492.7h0M247.8 483.1h0M229.9 490.2h0M221 499.8h0M255.7 478.6h0M252.4 485.8h0M266.8 477.5h0M266 485h0M226 503.7h0M216.2 505.1h0M218.9 488.3h0M221.5 496.6h0M239.9 493.2h0M259.4 483.9h0M256.5 482h0M260.2 468.1h0M263.1 475.7h0M225 488.9h0M227.5 501h0M214.5 498.7h0M251.1 487.2h0M262.1 481.5h0M214.4 489.1h0M245.9 493.2h0M213.4 488h0M249.9 495.7h0M255.6 468.6h0M225.6 492.3h0M228.5 503.1h0M235 505.8h0M214.9 492.6h0M214.7 505.7h0M230.3 505.9h0M251.2 491.8h0M218.3 491.1h0M232.6 490.5h0M234.2 490.4h0M224.1 488.1h0M219.1 487.5h0M264.3 482.5h0M251 479h0M223.7 486.5h0M232 491.2h0M233.9 502.1h0M233.1 502.6h0M228.1 488.3h0M223.2 485.5h0M223 490h0M263.2 474.9h0M263.3 475.4h0M233.1 487.7h0M224.9 487.1h0M253.2 475.1h0M246.8 497.8h0M231.8 501h0M226.4 506h0M248 496.6h0M253.7 473.4h0M222.9 503.4h0M223.5 485.6h0M214.6 485.9h0M228.5 503.6h0M254.8 478.2h0M219.1 499.1h0M233 501.9h0M230.6 494.9h0M221.1 498.6h0M253.4 483.7h0M223.9 491.9h0M229 486h0M215.6 486.2h0M222.2 494.6h0M224.8 486h0M254.3 482.6h0M266.7 484.9h0M263.6 477.5h0M251.8 496.9h0M228.5 501.3h0M216.2 494.1h0M228.7 496h0M231.3 497.5h0M246.7 492.7h0M250.1 484.8h0M252.5 494.8h0M220.5 495.3h0M223.5 498.1h0M257.2 472.5h0M228.4 501.2h0M266.2 480h0M252.5 483.7h0M244.6 495.9h0M260.6 483.1h0M251.7 481.7h0M244.3 489.9h0M230.6 488.6h0M216.6 505.8h0M255 468.7h0M227.8 490.1h0M219.5 489.9h0M253.9 480.1h0M215.6 506.3h0M231.6 499.9h0M259.3 486.3h0M227.2 497.1h0M252.8 488.4h0M245.6 489.7h0M258.6 486.6h0M257.5 492.2h0M227.7 488.2h0M251.8 495.8h0M226.3 491.8h0M265.7 471.6h0M251.7 496h0M226.6 504h0M223.3 495.6h0M264.5 470.5h0M230.1 499.7h0M265.2 476.1h0M249.8 478.8h0M237.4 504.2h0M260.3 469.9h0M247.2 483.7h0M249.3 491.2h0M246 497h0M211.8 500.3h0M253 478.6h0M266.1 478.8h0M226.9 496.3h0M259.7 477.2h0M216.8 486.1h0M267.8 474.2h0M248.9 481.6h0M244.7 492.7h0M260.6 484h0M235.8 490.3h0M224.5 489h0M234.4 502.2h0M225.9 497.6h0M254.8 475.5h0M232.9 488.6h0M218.1 498.9h0M245.5 492.4h0M214.9 490.7h0M236 507.3h0M217.2 486.9h0M253.8 482.5h0M261.4 486.4h0M233.7 501.5h0M248.6 496.8h0M260.3 489.6h0M241.3 490.1h0M243.9 489.3h0M236.5 498.5h0M225.7 499.1h0M264.5 485.5h0M226.9 496.9h0M226.9 499.6h0M215.9 495.2h0M264.4 474.7h0M256.8 478h0M231.6 493.4h0M263.2 488.7h0M235.8 494.9h0M220 487.6h0M235 492.9h0M252 482.4h0M266.3 475.2h0M247.4 485.7h0M264.4 488.6h0M267.4 482.3h0M231.7 508.3h0M235 496.2h0M222.7 495.4h0M224.1 506h0M257.2 488.6h0M246.9 488.6h0M225.7 495.3h0M251.4 490.3h0M245.9 493.5h0M211.3 499h0M227.4 486.5h0M264 489.9h0M248.2 480.6h0M244.8 489.9h0M255.3 468.4h0M222.3 499.1h0M255.9 487.8h0M223.8 494.1h0M232.2 495h0M254.8 488.3h0M256 485.3h0M216.4 489.6h0M254.5 479.9h0M263.8 490.4h0M237.8 502.9h0M221.7 498.6h0M259.6 477h0M257.1 490.9h0M235 502.9h0M218.1 505.5h0M219.9 500.3h0M227.4 492.5h0M239.5 493.3h0M248.9 487.2h0M264 481.4h0M253.2 478h0M218.3 488.4h0M253.1 494.6h0M245.2 490.3h0M239.1 498.7h0M251.4 492.4h0M229.5 499.9h0M257.9 485.6h0M220.5 488.8h0M262.7 470.1h0M215.5 506.3h0M234 490.8h0M241.3 491.4h0M253 496.4h0M238.2 499h0M235 490.2h0M232.5 491h0M234.7 492.3h0M236.6 493.7h0M221.6 491.7h0M215.6 499.3h0M217.6 495.3h0M255.4 480.7h0M231.5 502.1h0M228.5 494.7h0M240.5 494.8h0M253.6 480.5h0M232 501.1h0M255.7 489.5h0M236.2 496.2h0M248.5 486h0M227.7 499.6h0M243.7 494.8h0M219.3 505.1h0M213 501.9h0M256.3 470.9h0M255.5 483.1h0M266.1 472.9h0M221.1 504.7h0M223.4 486.4h0M237.6 497.3h0M222.6 495.2h0M239 492.7h0M250.5 493.8h0M264.9 476.6h0M263.6 488.9h0M236.2 491.4h0M228.5 505.4h0M238.4 497.9h0M228.8 494.4h0M239.3 496h0M261.9 468.8h0M257.6 487.6h0M252.4 487.8h0M259.3 484h0M222.6 486.4h0M218.7 495.9h0M260.1 469.3h0M239.3 495.2h0M214.4 487.6h0M266.1 473.1h0M255.8 477.8h0M259.1 488.6h0M213.2 492.5h0M230.2 506.6h0M221.1 503.1h0M259.3 477h0M264.1 480.3h0M215.3 499.9h0M222.6 493h0M211.1 500.5h0M228.6 494.4h0M259.9 482.5h0M214.4 503.6h0M223.2 484.4h0M221.2 500.6h0M221.8 499h0M248.1 491.4h0M249.4 497.3h0M249 483.9h0M218.6 490.4h0M251.8 477.6h0M224.5 491.4h0M264.7 478.2h0M257.2 476.3h0M219.7 485.1h0M216.4 501.9h0M231.9 487.6h0M252.8 473.3h0M258.4 469.3h0M218.7 495h0M255.8 480.7h0M218.8 491.3h0M220.8 497.1h0M264.2 477.5h0M237 504.8h0M262.4 475.9h0M239.7 495.9h0M265.7 471h0M227.8 500.2h0M214.9 494h0M251.8 492h0M222.1 501h0M254.4 475.5h0M251.9 494.1h0M233.3 503.3h0M258.9 491.5h0M218.2 487.8h0M253.7 472.2h0M227.1 493.3h0M250.8 487.2h0M261.7 473.4h0M221.5 505.5h0M233.4 493.1h0M251.5 482.6h0M266.1 477.3h0M252.1 473.3h0M255 482.6h0M242.4 494.9h0M225.5 497.5h0M252.4 476.1h0M260.5 475.8h0M248.1 488.9h0M215.3 503h0M255.6 491.3h0M254.7 492h0M230.1 505.4h0M229.5 493.7h0M236.9 502.2h0M265.3 481.9h0M257.2 478.2h0M220.9 491.2h0M261.4 469.2h0M242.7 493.9h0M249.5 496.4h0M261.8 482h0M262.3 490.8h0M247.8 486.5h0M223.6 501.1h0M258.6 482h0M245.3 491.7h0M226.5 501.3h0M260.9 472h0M217.9 496.3h0M259.3 467.5h0M242.9 490.7h0M255.2 486h0M216.5 497.3h0M267.6 478.1h0M211.7 500.9h0M226 492.7h0M253.6 483.4h0M263 489.8h0M227.6 490.8h0M228.5 505.8h0M224.8 502.5h0M229.4 501h0M255.5 479.2h0M236 503.7h0M223.2 485.8h0M251.1 475.7h0M230.3 495.4h0M256.3 487.8h0M217.9 495.5h0M260.1 487.5h0M218.6 488.4h0M245 498.2h0M222.4 499.6h0M252 490.8h0M248.8 496.1h0M264.8 487.7h0M250.4 478.9h0M258.8 478.3h0M230 504h0M236.1 499.3h0M264.3 471.6h0M258.7 476.8h0M228.3 497.8h0M254.4 486.4h0M228.8 508.1h0M256.2 492.2h0M224 491.3h0M266 474.7h0M255.8 495h0M213.2 502.5h0M256.4 482.4h0M262.2 483.6h0M236 489.8h0M227.6 490.5h0M245.3 485.3h0M218.1 495.8h0M232.4 502.1h0M254 491.1h0M211.7 502h0M235.5 494.2h0M259.8 475.7h0M237.4 503.4h0M238 496.2h0M241.6 494.2h0M232.9 502.1h0M232.9 498.5h0M224.9 507.5h0M220.3 485.8h0M258.7 467.6h0M216.9 494.9h0M225.6 489h0M241.7 496.5h0M220.2 491.2h0M215.5 491.3h0M244.2 488.2h0M251.9 492.2h0M256 487.2h0M261 479h0M253.5 476.1h0M252.9 477.2h0M252 496h0M243.3 497.7h0M250.8 494.2h0M258.7 484.3h0M218.1 502.2h0M244.1 497.9h0M234.9 489.6h0M233.2 496.4h0M252.4 496.5h0M253.7 496h0M247.6 486.6h0M224.2 492.8h0M228.5 486.9h0M244.1 497.2h0M243 495.6h0M231.8 504.8h0M262.6 474.2h0M238.1 495.3h0M227.9 506.7h0M262.4 480.2h0M229.3 505.1h0M266 474.7h0M231.5 494.1h0M231.7 501.4h0M252.4 495.4h0M226.3 501.1h0M217.4 500.6h0M246.2 491.7h0M246.6 491.2h0M233.3 505.3h0M222 486.2h0M250.2 478.7h0M228.6 501.1h0M245.1 494.3h0M254 485h0M234 491.2h0M225.1 505.7h0M219.5 499.1h0M225.6 496.9h0M214.2 500.7h0M217.5 497.5h0M266.3 486h0M228.3 507.7h0M223.7 502.1h0M254.4 483.3h0M219.7 490.7h0M250.6 484.5h0M262.1 471.1h0M240.3 490.7h0M234.4 507.9h0M222.7 494.2h0M224.2 504.5h0M229.9 492.9h0M232.9 491h0M235.8 494.4h0M227.1 507.2h0M215.6 491.8h0M264.8 488.7h0M259 484.8h0M218.6 485.5h0M218.6 498.5h0M237 504.5h0M220.2 484.8h0M260.3 479.2h0M255.1 468.7h0M263.3 490.2h0M249.9 495.9h0M257.1 488.6h0M265.3 470.6h0M223.2 502h0M234.8 499.3h0M228.8 491.9h0M265.1 477.2h0M224.8 499.5h0M216.2 488.9h0M224.6 503h0M244.8 488h0M214.4 485.8h0M226.3 492.3h0M248.3 488.1h0M249.5 491.6h0M235.7 494.6h0M256.4 489.8h0M219.7 501.9h0M211.6 495.2h0M260.8 489.5h0M251.3 496.3h0M253.8 481.1h0M264.9 478.4h0M217.8 494.8h0M244 491.4h0M220 492.6h0M260.1 467.2h0M252.7 484.2h0M227.7 485.1h0M235.6 507h0M260.4 474.8h0M212.1 493.7h0M235.9 493.9h0M216 501.8h0M252.1 479.2h0M220.7 498.9h0M225.8 496.2h0M265.3 472.7h0M248.5 492.8h0M246.1 498h0M215.2 496.5h0M243.9 490.7h0M235.3 497.1h0M215.4 503.1h0M227.7 497.5h0M249 486.6h0M239.9 492.1h0M224.1 492h0M255.4 482.8h0M265.6 482.6h0M235.5 507.7h0M223.2 497.8h0M233 487h0M249.4 484.3h0M233.4 503.2h0M232.6 504.4h0M230.6 507.3h0M263.5 481.4h0M235.4 496.6h0M222.8 494.4h0M248.6 497.7h0M264 487.6h0M248.9 495.7h0M219.1 486.2h0M255 493.2h0M237 501h0M234.8 495.6h0M257.7 492.9h0M257.6 468.7h0M232.7 488.5h0M238.6 496.7h0M258.2 489.6h0M235.8 506.8h0M213.6 503.4h0M223.9 499.6h0M257.5 478.1h0M213.2 496.4h0M253.9 480.3h0M254.5 469.9h0M251.2 478.8h0M222.6 495.1h0M223.4 493.3h0M258.2 479.4h0M247.5 483.2h0M250.3 482.7h0M229.4 489.3h0M227.9 503.4h0M229.8 501h0M248.6 497.3h0M266.5 482.4h0M227.3 485.9h0M233.6 488.2h0M229 495.7h0M233 496.5h0M216.4 495.8h0M244.9 491.4h0M227 486.6h0M229 501.7h0M217.9 493.6h0M228.3 489.1h0M257.5 492.6h0M257.2 465.8h0M236.3 495.3h0M247.9 482.3h0M250.9 494.4h0M224.1 493h0M219.5 491.2h0M239.4 495.1h0M263.7 469.3h0M213.1 494.4h0M223.4 495.9h0M233.1 507.8h0M235.3 494h0M256.4 493.7h0M259.4 482.2h0M225.8 487.5h0M264 477.6h0M234.4 499h0M249.9 487.1h0M231.2 487.4h0M215.4 501.5h0M266.6 482.5h0M236.2 506.2h0M262.4 485h0M236.9 491.5h0M232.5 504.2h0M234.8 494.4h0M253.7 470.8h0M253.2 493.3h0M242.5 493.1h0M249 483.5h0M234.7 488.5h0M249.5 480.9h0M254.2 476.7h0M241.5 492.6h0M236.1 504.9h0M231.7 496.6h0M241.1 498.5h0M250 490.9h0M217.8 488.9h0M255.5 470.2h0M239.4 491.5h0M245.2 487.6h0M217.2 503.7h0M238.7 500.7h0M216.2 495.9h0M265.7 479.8h0M261.8 484.2h0M258.8 490.1h0M227 493.7h0M235.4 507.4h0M261 475.1h0M260 469.7h0M234 497.3h0M221.1 495.2h0M257.5 470.6h0M248.2 491.1h0M223.7 487.7h0M234.8 505.1h0M215.6 491.7h0M267.7 477.8h0M254.1 487.7h0M240.4 491.8h0M265.7 484.1h0M240.9 499.5h0M229.9 504.9h0M253.5 494.4h0M225.2 506h0M256 473.8h0M217.7 505.8h0M215.9 501.9h0M262.7 470.6h0M227.9 492.5h0M250.3 489.9h0M214.7 485.9h0M219.1 504.1h0M229.3 488.6h0M240.1 497.8h0M229.8 504.4h0M235.4 505h0M248.3 490.4h0M244.9 489.9h0M251.8 479.3h0M231.4 492.2h0M247.3 491.4h0M222.7 495.6h0M260.2 476.3h0M219.2 496.7h0M213.6 505.5h0M218.7 496.1h0M253.8 483h0M217.2 493.6h0M222.9 495h0M215.3 490.9h0M249.6 490.9h0M255.1 471.7h0M252.5 486.9h0M256.8 489.4h0M225.7 496.9h0M235.3 507.2h0M218.9 486.9h0M214 487.4h0M246.3 492.3h0M224 501.5h0M227.3 491.4h0M235.4 496.9h0M223.6 495.7h0M224.1 498.1h0M218.3 499h0M244.6 493.9h0M254.3 481.1h0M216.6 491.6h0M255 487.5h0M253.3 494.9h0M260.2 485.3h0M219.7 496.7h0M226.6 493.9h0M214.1 486h0M251.7 474.2h0M250.6 495.3h0M259 474.8h0M221.8 500.7h0M226.2 499.3h0M242.1 495.3h0M258 471.7h0M220.7 497.1h0M230.3 505.4h0M225.5 485.6h0M242.3 498.5h0M226.4 508.1h0M256.8 483h0M238.7 495.9h0M245.4 496.4h0M251.9 487.1h0M259.3 484.1h0M227.3 505.1h0M218 502.1h0M215.7 489.7h0M225.7 508h0M255.4 481.7h0M252.6 473.1h0M234.1 505.1h0M261.9 485.7h0M222.4 503.3h0M259 470.9h0M223.7 491.4h0M214.9 491.9h0M214.7 499.9h0M252.6 494.5h0M245.1 493.1h0M266.8 481.2h0M260.3 488.1h0M259.1 480.1h0M227.2 508.3h0M235.1 497.4h0M210.9 501.4h0M262.3 476.5h0M249.1 490.3h0M230.3 499.2h0M262.7 482.7h0M235.1 491.9h0M251.8 496.4h0M220.7 502h0M239.1 493.9h0M243.9 491.2h0M221 499.9h0M258.4 468.5h0M265.5 487h0M257.3 475.8h0M247 497.1h0M223.3 505.9h0M228.9 485.8h0M212.7 495.3h0M235.8 504h0M229.3 498.7h0M224.2 490.3h0M244.8 486.5h0M265.4 488.9h0M235.2 497.1h0M230.5 490.8h0M227.3 491.6h0M260.1 476.3h0M214.1 504.2h0M215.7 506.4h0M260.6 467.5h0M217.8 503.2h0M259.9 476.6h0M230.7 487.3h0M213.1 493.8h0M253.9 493.9h0M255.2 487.6h0M217 501.8h0M229.5 503h0M243.9 489.5h0M254.4 494.7h0M219.2 498.2h0M218.1 501.3h0M230.1 492.8h0M243.4 492.6h0M214.9 493.7h0M219.4 495.6h0M220.9 495.5h0M263.3 477.2h0M259.6 481.5h0M221.8 500.8h0M248.2 485.2h0M226.8 495h0M227 500h0M232 499.1h0M226.8 501.2h0M214.3 502.5h0M258.2 470.1h0M245.6 492.9h0M261.9 478.3h0M219.4 491.5h0M261.3 477.8h0M221.3 496.7h0M262.3 469.7h0M231.3 504.7h0M233.4 496.1h0M234.4 506.7h0M219.3 492.1h0M220.1 487.3h0M225.8 494.1h0M217.5 488.5h0M255.8 488.5h0M257.6 473.7h0M240.9 499.4h0M260.2 467.6h0M246.8 487.3h0M247.3 490.5h0M258.2 479.5h0M220.3 501.3h0M227 499h0M237.5 498.2h0M258.9 472.1h0M264.8 481.4h0M228.2 497.5h0M249.4 481.7h0M251.7 488.7h0M212.6 499.8h0M225.8 502.7h0M260.8 473.8h0M258.8 476.8h0M238.2 499.8h0M228.2 497.7h0M266.4 484.3h0M223.6 501.6h0M268.1 478h0M252.5 475.6h0M220.9 498.1h0M228.8 486.7h0M264.4 480.5h0M264.4 469.7h0M226.6 506.2h0M261.7 472.4h0M219.9 488.5h0M253.7 491.2h0M250.8 496.5h0M266.7 474.2h0M215.4 498.3h0M249 480.9h0M264.6 487.1h0M260 480.6h0M231.9 489.7h0M232 488.3h0M215 500.1h0M257.6 492.2h0M265.9 471.3h0M251.6 481.9h0M240.6 500h0M264.5 474.1h0M220.9 505.5h0M229.2 504.9h0M263.6 470h0M252.8 481.3h0M259 484.3h0M213.9 491.4h0M249.6 477.9h0M245.8 492.8h0M211.8 502.8h0M241.6 496.2h0M248.7 493h0M222 497.4h0M262.1 487.9h0M232.3 488.7h0M252.4 480.2h0M258.1 475.9h0M256.6 491.9h0M243.6 491.1h0M227.8 508.4h0M230.2 486.6h0M223.5 501h0M234.2 499.9h0M249.6 496.7h0M223 488.7h0M255.8 477.6h0M226.7 489.3h0M254.8 469.1h0M229.5 501.7h0M258.1 468.5h0M258.2 469.3h0M232.5 508.2h0M247.5 488.9h0M244 489.8h0M257.4 469.5h0M226.3 499.9h0M257 469.2h0M260.1 474h0M255.2 483.9h0M231.4 490h0M259.2 478.1h0M262.8 486.7h0M259.2 471.6h0M258.5 489.3h0M262.8 488.9h0M252.7 488.4h0M220.8 488.8h0M254.7 476.9h0M236.5 490.7h0M225.7 496.9h0M216.2 500h0M265 488.1h0M264.2 476.6h0M265.2 470h0M249.8 479.1h0M251.7 491.3h0M238 501.2h0M257.1 492h0M227 501.5h0M266.2 478.6h0M233.5 489.7h0M250.7 480.4h0M249.8 477.9h0M214.3 504h0M258 465.8h0M237.7 495.3h0M236.8 496.7h0M213.2 494.4h0M232.3 507.6h0M236.4 501.1h0M218.4 495.2h0M223.2 497.3h0M262.4 471.2h0M215 501.6h0M228.3 488.6h0M217.5 497h0M235.1 505.8h0M215.8 488.3h0M243.5 496.1h0M223.4 487.8h0M218.7 486.9h0M251.4 488.6h0M245.6 487.8h0M230.7 492.4h0M221.1 496h0M227.6 491.6h0M219.4 486.3h0M261 484.6h0M243.8 495.6h0M258.2 478.6h0M218.5 500.7h0M262.4 473.6h0M247.2 495.2h0M229.9 492.4h0M218.2 489h0M262.7 470h0M262.5 471.5h0M265.5 473.5h0M223.3 491.2h0M222.7 493.8h0M250 482.7h0M218.6 503.1h0M226.2 489.1h0M239.3 499.7h0M216.6 498.1h0M235.7 495.8h0M264.5 476.1h0M225.6 493h0M216.9 488h0M213.9 497.2h0M227.6 500.2h0M217.7 498h0M218.8 493.5h0M257.7 480.2h0M263 485.8h0M260.4 483.3h0M214.2 499.6h0M233.6 506.3h0M259.8 480.8h0M246.3 492.3h0M221.2 496h0M230.5 508.3h0M221.7 497.5h0M228.2 504.4h0M263 476.4h0M243.9 495.4h0M250.5 486.1h0M218.8 495.7h0M256.2 487.4h0M223.6 497.7h0M214.1 497.3h0M225.4 483.8h0M248.4 481.4h0M242.1 491.5h0M212.7 486.7h0M239.7 502.3h0M210 496.4h0M227.4 485.9h0M257 494.2h0M220.4 482.3h0M230.5 483.7h0M243.5 489.4h0M246.1 484.2h0M233.5 509.6h0M257.2 494.5h0M212.4 484.5h0M244.1 482.1h0M260.2 491.6h0M232.8 506.8h0M249.4 498.5h0M244.2 499.5h0M262.6 466.3h0M238.2 506.7h0M266.3 487.9h0M255.6 467.9h0M265.1 487.7h0M240.6 490.7h0M245.8 483.4h0M226.1 487.8h0M225.1 509.8h0M265.2 487.1h0M212.9 498.6h0M247.2 497.7h0M262.1 492.7h0M210.8 502.4h0M221.1 485.1h0M210.2 493.8h0M264.5 490.2h0M226.8 504.9h0M247.2 496.7h0M226.8 484h0M244.1 490h0M250.7 472.2h0M228.5 487.9h0M237.9 490.2h0M261.2 491.9h0M260.8 464.7h0M247 478.8h0M266.8 487.7h0M250.9 467.9h0M229.6 484.7h0M241 501.6h0M222.3 507.5h0M266.6 471.3h0M215.4 491.9h0M246.4 482.5h0M211.4 500.8h0M264.7 470.6h0M226.2 507.6h0M213.4 507.6h0M243 498.6h0M238.5 504.4h0M211.8 508.1h0M246.9 480.7h0M265.6 490.4h0M209.6 501.2h0M232.5 488.1h0M242.2 498.7h0M265.3 469.6h0M259.9 467.5h0M230.8 483.2h0M261.5 463.7h0M243.5 486.5h0M238.8 490.1h0M232.3 484.9h0M210.6 493h0M261.7 493h0M240.4 489.4h0M250.7 468.2h0M237.1 503h0M247 498.6h0M211.6 488.6h0M266.2 471.2h0M212.9 487.1h0M255.9 468h0M241.5 497.8h0M269.9 477h0M246.2 482.5h0M270.6 476.5h0M252.4 498.5h0M265.4 487.9h0M259.7 467.3h0M259.9 490.6h0M266.7 468.8h0M210.8 494.8h0M230.8 510.9h0M264.5 486.7h0M266 477.3h0M269 482h0M209.4 494.8h0M221.6 482.7h0M216 506.5h0M215.7 506.5h0M218 508.4h0M251.5 497.6h0M236.2 508.7h0M236 507.6h0M236 507.4h0M248.6 495.1h0M269.3 488.9h0M268.2 472.5h0M210.1 475.8h0M225.9 475.3h0M209.6 475.6h0M221.3 474.5h0M225.6 484.5h0M216.6 479.4h0M221 473.8h0M202.1 484.3h0M199.4 478.5h0M212.5 483.4h0M221.7 481.2h0M216.6 482.9h0M202.9 479.6h0M231 475.1h0M220.7 474.1h0M232.2 480.9h0M203.9 473.8h0M227.8 480.3h0M219.3 479.8h0M216.9 473.1h0M221.3 477.7h0M207.3 479.3h0M219.4 476.9h0M231.4 485h0M235.4 478.3h0M204.4 482.7h0M217.2 477.4h0M221.5 475.7h0M236.7 482h0M220.1 477.3h0M218.3 474.7h0M205.9 479.6h0M214.7 484.9h0M236.6 477.6h0M205.1 485.7h0M228.9 482.4h0M224.3 472.4h0M233.6 481h0M212 471.9h0M235 479.5h0M221.7 483h0M197.9 482.1h0M215.3 477.5h0M226 479.2h0M232.6 482.5h0M221.3 476.1h0M229.9 479.8h0M231.2 474h0M234.6 479.9h0M208.9 475.9h0M206.7 504.5h0M207.2 504h0M209.2 501.3h0M210.3 507.6h0M201.2 500.6h0M207.5 507.3h0M209.1 502.2h0M205.2 500.3h0M211.6 507.8h0M200.3 500.5h0M199.3 502.6h0M207.2 507.2h0M205.6 499.8h0M207.5 507.1h0M203.4 506.2h0M209.9 507.5h0M208.2 505.8h0M211.5 505.4h0M203.7 506.5h0M204.7 501.4h0M201.7 503.3h0M201.3 503.5h0M207.8 502.1h0M205.7 504.3h0M202.4 505.7h0M207.2 503.3h0M208.1 505h0M201.1 503.4h0M204.3 503.5h0M204 503.2h0M276.1 464.8h0M276.9 442.8h0M278.1 466.4h0M277.5 436.5h0M277.6 452.8h0M275.1 438.8h0M276.1 437.5h0M276.6 454.1h0M275.4 434h0M275.8 447.5h0M277.6 431.3h0M277.5 459.7h0M277.4 441.7h0M275.5 446.2h0M275.2 447.4h0M275.4 461.6h0M277.5 446.9h0M275.6 455.8h0M278.1 453.4h0M276.9 434.8h0M277.6 443.9h0M277.6 450.4h0M276.5 454.7h0M277.7 459.3h0M275.3 444.8h0M277.8 464.4h0M274.8 428.9h0M278.1 432.3h0M278.2 444.5h0M275.7 443.8h0M277.6 430.4h0M275.6 470.2h0M277.9 444.3h0M276 449.6h0M277.7 464.9h0M277.4 459.3h0M276.4 456.9h0M276.8 437.4h0M275.2 430.9h0M275.2 444.9h0M275.1 441h0M277.3 458.5h0M277.7 457.4h0M278.3 444.4h0M278.1 469.3h0M277 457h0M277.1 444.6h0M278.1 439.6h0M277.3 441.2h0M275.5 438.4h0M276.5 444.3h0M276.2 461h0M275.2 452.5h0M276.4 454.4h0M277.6 435.8h0M275.8 437.6h0M275.5 470.2h0M275.4 435.4h0M276.5 450.7h0M278 444.7h0M277.8 448.4h0M277.9 432.4h0M277.8 464.8h0M274.8 437.6h0M277.6 438.1h0M277.7 452.1h0M276.1 450h0M277.2 460.9h0M275.5 466.6h0M278.4 451h0M276.5 453.4h0M276.7 456.4h0M277.6 430.4h0M275.8 449.5h0M275.4 428.9h0M278.2 436h0M278.5 451.7h0M278.1 465.7h0M275.3 442.2h0M277.6 444.3h0M277.3 463.6h0M275.4 469.2h0M275.2 450.1h0M277.9 433.4h0M277.5 449.5h0M278 464.9h0M276.9 435.2h0M275.5 460.2h0M275.7 430.1h0M277.5 441.9h0M276.8 470.1h0M278.2 440.3h0M275.3 430.7h0M277.8 457h0M278.1 458h0M276.3 462.5h0M276.9 452.6h0M277.1 453.4h0M275.6 435.9h0M275.9 462.1h0M275.8 437h0M278.3 459.5h0M278.4 431.8h0M276.9 447.2h0M277 438h0M277.8 454.1h0M277.7 463h0M275.8 459.7h0M276.8 431.6h0M276.1 462.3h0M278.4 437.5h0M277.9 468.9h0M277.6 468.4h0M277.7 444.8h0M275.1 456.6h0M276.4 454.3h0M278.1 467.6h0M275.6 465.9h0M275.9 439.6h0M276.7 431h0M275.3 458.7h0M277.4 443.8h0M277.5 430.5h0M277.5 439h0M277.6 469.6h0M277.6 447.7h0M277.4 427.8h0M276.3 440h0M276.4 435h0M275.5 440.1h0M275.1 454.5h0M278.3 442.3h0M276.7 439.6h0M276.2 448.6h0M276.7 464.2h0M276 431.4h0M275.6 452.9h0M277.4 466.6h0M276.4 456h0M275.8 452.6h0M276.7 434h0M276.2 468h0M276.4 450.7h0M277.5 445.5h0M276.6 463.7h0M276.5 440.6h0M276.1 435.8h0M276.4 451.2h0M275.5 433.3h0M275.4 454.2h0M273.1 456.8h0M268.9 446.4h0M272.2 452.6h0M272.1 450.4h0M271.8 452h0M271 450.6h0M272.9 449.9h0M267.1 447.2h0M271.7 455.8h0M268 445.6h0M272.2 449.1h0M267.1 445.4h0M272.3 454h0M269.3 452.6h0M273.5 456.4h0M269.2 446.4h0M268.5 450.3h0M268.1 451.4h0M271.8 446.6h0M271 446.7h0M268.8 447.8h0M270.6 453.6h0M269.6 444.7h0M268.2 444.2h0M270 448.6h0M270.1 450.9h0M269.1 452.7h0M273.4 451.9h0M268.6 442.8h0M272.5 448.7h0M267.7 444h0M272.9 449.5h0M270.9 445.1h0M271.4 455.8h0M271.9 446.4h0M269 452.4h0M268.4 443.4h0M269.4 444.3h0M267.7 450.6h0M270.6 452.3h0M272.6 453.9h0M272.4 448.6h0M269.6 450.2h0M272.6 450h0M273.5 452.1h0M278.5 443.8h0M278.9 446.4h0M279.2 447.8h0M279.6 444.9h0M280 443.5h0M281.4 447.9h0M278.2 443.7h0M279.4 444.4h0M280.8 449h0M279.6 444.9h0M279.2 447.3h0M279 448.7h0M287.5 448.4h0M289.6 452.8h0M288.8 444.9h0M284.4 452.5h0M290.7 453.5h0M289.8 455.2h0M286.4 450.2h0M283.7 447.3h0M287 455.2h0M286.9 447.3h0M283.5 448h0M290.7 449.1h0M284.2 447.3h0M282.3 451.7h0M289.8 442.3h0M284.1 452.4h0M289.4 451.6h0M286.5 445.4h0M289.2 450.5h0M287.3 446.8h0M291.8 452.9h0M289.7 448.9h0M283.3 450.2h0M290.9 444.3h0M282.3 449.3h0M290.4 451.7h0M289.7 449.8h0M292.1 449.7h0M285.5 450.4h0M288.1 449.4h0M292.5 452.1h0M292.3 441.1h0M290.4 443.4h0M287.3 444.6h0M288.1 451.8h0M285.7 454.3h0M290.1 441.6h0M292.2 454h0M285.9 455.6h0M285 447.7h0M289.4 447.9h0M288.2 446.1h0M287 446.1h0M287.3 449.1h0M286.7 451.5h0M288.7 451.7h0M282.3 448.6h0M291.9 451.8h0M288.2 452.9h0M291.9 445.5h0M289.4 445.4h0M283.9 450.2h0M292.2 441.5h0M291.4 452h0M284 449.6h0M289 452.9h0M292.1 453.3h0M283 447.8h0M288.4 452.2h0M287.9 447.8h0M286.6 455.6h0M290.2 445.6h0M283.8 452.4h0M291.2 446.2h0M284.4 453.2h0M291.3 480.1h0M287.9 479h0M291.6 477.5h0M292.4 484.7h0M290 486.3h0M287.6 484.5h0M289.1 477.9h0M289.2 475.8h0M289.6 488.2h0M288.6 484.2h0M288.6 481h0M292.6 479.5h0M291.7 477.3h0M288.7 489h0M288.6 476.7h0M288.9 480.1h0M288.3 474.8h0M290.9 481.6h0M290.3 488.6h0M288.9 483.4h0M288.9 483.3h0M289.3 486.4h0M288.6 483.8h0M290.1 479.2h0M290.5 476.2h0M291 487.1h0M291.9 479.9h0M291.3 486.3h0M259.1 440.4h0M253.8 450.9h0M259.6 450h0M256.7 458.6h0M240 464.3h0M237.1 472h0M240.4 474h0M222.3 473.6h0M225.3 474.7h0M270.8 467h0M250.4 502.6h0M255.4 505.6h0M255.4 517.2h0M254.8 524.1h0M238.2 518h0M233.5 519.2h0M229.8 512h0M229.6 471.3h0M237.6 472.1h0M238.1 483.7h0M269.6 492.6h0M238 527.4h0M180.6 496.5h0M180.6 506.3h0M196.3 508.4h0M194 504h0M192.8 501h0M215 510h0M226 509h0M241 511h0M264 458h0M264 488h0M203 478h0M190 480h0M234 522h0M230 476h0" stroke="#0000fa" stroke-width="2.5" stroke-linecap="round" fill="none"/>
<path d="M172.6 486.6h0M189.4 488.5h0M184.4 488.3h0M176.1 493h0M191 489.3h0M195.5 490.9h0M176.1 491h0M183.3 489.9h0M181.1 488.5h0M186.6 483.2h0M182.8 484.2h0M166.4 487.2h0M195.4 486.5h0M168.1 486.4h0M190.6 485.3h0M177.1 490h0M174.7 485h0M178.4 490.2h0M190 487.8h0M176.7 489.2h0M179.4 490.2h0M175 488.8h0M167 489h0M177.9 490.5h0M174.5 486.9h0M171.7 486.5h0M181.5 485.9h0M178.6 485.7h0M178.9 491h0M179.4 491.5h0M172.7 489.9h0M186.2 490.5h0M173 492.5h0M176.3 485h0M193 490.2h0M185.4 492.3h0M195.4 488.3h0M183.2 494.1h0M167.3 486.7h0M183.3 484.8h0M188.6 485.2h0M179.7 489.5h0M168.5 487.1h0M178.6 490h0M191.1 486.9h0M188.3 485.1h0M180.7 494.2h0M166.4 488.4h0M171.3 485.6h0M175.8 486.9h0M192.5 488.2h0M179.9 486.2h0M191.5 487.7h0M172.7 489h0M189.3 490.3h0M194 487.2h0M191.6 493.6h0M194.2 493.7h0M194.6 485.6h0M194.6 492.7h0M191.1 487.8h0M191.4 492.5h0M189.6 493.4h0M196.8 492.5h0M193.6 490h0M191.1 485.8h0M193.1 494.9h0M192.8 493h0M197.8 488.9h0M196.5 493.8h0M189.7 486.8h0M190.2 490.4h0M195.7 492.7h0M197.8 491.5h0M198.4 492.1h0M198 493.5h0M191.1 491.3h0M189.7 486.1h0M196.8 487.5h0M196.8 485.8h0M197 486.7h0M190.2 487.2h0M196.1 488.8h0M196.8 486.3h0M188.7 486h0M193.2 494h0M189.7 483.2h0M195.7 483.9h0M197.3 485.7h0M190.4 492.6h0M190.6 483.3h0M193.4 494.1h0M193.3 485.6h0M195.5 493.5h0M193.8 492.2h0M170.5 485.6h0M172 486h0M174 493.5h0M176.5 492.8h0M178.7 493.5h0M176 483.6h0" stroke="#6ec846" stroke-width="2.3" stroke-linecap="round" fill="none"/>
<path d="M185 484h0M184.5 489h0" stroke="#e00000" stroke-width="2.2" stroke-linecap="round" fill="none"/>
<path d="M181.9 481L187.5 486.6L181.9 492.2L176.3 486.6Z" fill="#f0ae6c" stroke="#262618" stroke-width="1.1" stroke-linejoin="round"/>
<circle cx="181.9" cy="486.6" r="0.5" fill="#8a6a40"/>
<path d="M190.1 491.4L195.1 483.3L185.1 483.3Z" fill="#f0ae6c" stroke="#262618" stroke-width="1.1" stroke-linejoin="round" transform="rotate(-8 190.1 486)"/>
<circle cx="190.1" cy="486" r="0.5" fill="#8a6a40"/>
<path d="M214.1 489.6L219.7 498.6L208.5 498.6Z" fill="#f0ae6c" stroke="#262618" stroke-width="1.1" stroke-linejoin="round"/>
<circle cx="214.1" cy="495.6" r="0.5" fill="#8a6a40"/>
</g>
<path d="M75.6 296.3L75.6 292.1M75.6 530L75.6 534.2M157.9 296.3L157.9 292.1M157.9 530L157.9 534.2M240.3 296.3L240.3 292.1M240.3 530L240.3 534.2M322.6 296.3L322.6 292.1M322.6 530L322.6 534.2M67.4 530L63.2 530M322.6 530L326.8 530M67.4 496.6L63.2 496.6M322.6 496.6L326.8 496.6M67.4 463.2L63.2 463.2M322.6 463.2L326.8 463.2M67.4 429.9L63.2 429.9M322.6 429.9L326.8 429.9M67.4 396.5L63.2 396.5M322.6 396.5L326.8 396.5M67.4 363.1L63.2 363.1M322.6 363.1L326.8 363.1M67.4 329.7L63.2 329.7M322.6 329.7L326.8 329.7M67.4 296.3L63.2 296.3M322.6 296.3L326.8 296.3" stroke="#505050" stroke-width="1" fill="none"/>
<path d="M67.6 296.3L67.6 294.1M67.6 530L67.6 532.2M71.8 296.3L71.8 294.1M71.8 530L71.8 532.2M100.4 296.3L100.4 294.1M100.4 530L100.4 532.2M114.9 296.3L114.9 294.1M114.9 530L114.9 532.2M125.2 296.3L125.2 294.1M125.2 530L125.2 532.2M133.1 296.3L133.1 294.1M133.1 530L133.1 532.2M139.7 296.3L139.7 294.1M139.7 530L139.7 532.2M145.2 296.3L145.2 294.1M145.2 530L145.2 532.2M150 296.3L150 294.1M150 530L150 532.2M154.2 296.3L154.2 294.1M154.2 530L154.2 532.2M182.7 296.3L182.7 294.1M182.7 530L182.7 532.2M197.2 296.3L197.2 294.1M197.2 530L197.2 532.2M207.5 296.3L207.5 294.1M207.5 530L207.5 532.2M215.5 296.3L215.5 294.1M215.5 530L215.5 532.2M222 296.3L222 294.1M222 530L222 532.2M227.5 296.3L227.5 294.1M227.5 530L227.5 532.2M232.3 296.3L232.3 294.1M232.3 530L232.3 532.2M236.5 296.3L236.5 294.1M236.5 530L236.5 532.2M265 296.3L265 294.1M265 530L265 532.2M279.5 296.3L279.5 294.1M279.5 530L279.5 532.2M289.8 296.3L289.8 294.1M289.8 530L289.8 532.2M297.8 296.3L297.8 294.1M297.8 530L297.8 532.2M304.3 296.3L304.3 294.1M304.3 530L304.3 532.2M309.8 296.3L309.8 294.1M309.8 530L309.8 532.2M314.6 296.3L314.6 294.1M314.6 530L314.6 532.2M318.8 296.3L318.8 294.1M318.8 530L318.8 532.2M67.4 520L65.2 520M322.6 520L324.8 520M67.4 514.1L65.2 514.1M322.6 514.1L324.8 514.1M67.4 509.9L65.2 509.9M322.6 509.9L324.8 509.9M67.4 506.7L65.2 506.7M322.6 506.7L324.8 506.7M67.4 504L65.2 504M322.6 504L324.8 504M67.4 501.8L65.2 501.8M322.6 501.8L324.8 501.8M67.4 499.9L65.2 499.9M322.6 499.9L324.8 499.9M67.4 498.2L65.2 498.2M322.6 498.2L324.8 498.2M67.4 486.6L65.2 486.6M322.6 486.6L324.8 486.6M67.4 480.7L65.2 480.7M322.6 480.7L324.8 480.7M67.4 476.5L65.2 476.5M322.6 476.5L324.8 476.5M67.4 473.3L65.2 473.3M322.6 473.3L324.8 473.3M67.4 470.7L65.2 470.7M322.6 470.7L324.8 470.7M67.4 468.4L65.2 468.4M322.6 468.4L324.8 468.4M67.4 466.5L65.2 466.5M322.6 466.5L324.8 466.5M67.4 464.8L65.2 464.8M322.6 464.8L324.8 464.8M67.4 453.2L65.2 453.2M322.6 453.2L324.8 453.2M67.4 447.3L65.2 447.3M322.6 447.3L324.8 447.3M67.4 443.1L65.2 443.1M322.6 443.1L324.8 443.1M67.4 439.9L65.2 439.9M322.6 439.9L324.8 439.9M67.4 437.3L65.2 437.3M322.6 437.3L324.8 437.3M67.4 435L65.2 435M322.6 435L324.8 435M67.4 433.1L65.2 433.1M322.6 433.1L324.8 433.1M67.4 431.4L65.2 431.4M322.6 431.4L324.8 431.4M67.4 419.8L65.2 419.8M322.6 419.8L324.8 419.8M67.4 413.9L65.2 413.9M322.6 413.9L324.8 413.9M67.4 409.8L65.2 409.8M322.6 409.8L324.8 409.8M67.4 406.5L65.2 406.5M322.6 406.5L324.8 406.5M67.4 403.9L65.2 403.9M322.6 403.9L324.8 403.9M67.4 401.6L65.2 401.6M322.6 401.6L324.8 401.6M67.4 399.7L65.2 399.7M322.6 399.7L324.8 399.7M67.4 398L65.2 398M322.6 398L324.8 398M67.4 386.4L65.2 386.4M322.6 386.4L324.8 386.4M67.4 380.5L65.2 380.5M322.6 380.5L324.8 380.5M67.4 376.4L65.2 376.4M322.6 376.4L324.8 376.4M67.4 373.1L65.2 373.1M322.6 373.1L324.8 373.1M67.4 370.5L65.2 370.5M322.6 370.5L324.8 370.5M67.4 368.3L65.2 368.3M322.6 368.3L324.8 368.3M67.4 366.3L65.2 366.3M322.6 366.3L324.8 366.3M67.4 364.6L65.2 364.6M322.6 364.6L324.8 364.6M67.4 353L65.2 353M322.6 353L324.8 353M67.4 347.1L65.2 347.1M322.6 347.1L324.8 347.1M67.4 343L65.2 343M322.6 343L324.8 343M67.4 339.7L65.2 339.7M322.6 339.7L324.8 339.7M67.4 337.1L65.2 337.1M322.6 337.1L324.8 337.1M67.4 334.9L65.2 334.9M322.6 334.9L324.8 334.9M67.4 332.9L65.2 332.9M322.6 332.9L324.8 332.9M67.4 331.2L65.2 331.2M322.6 331.2L324.8 331.2M67.4 319.6L65.2 319.6M322.6 319.6L324.8 319.6M67.4 313.8L65.2 313.8M322.6 313.8L324.8 313.8M67.4 309.6L65.2 309.6M322.6 309.6L324.8 309.6M67.4 306.4L65.2 306.4M322.6 306.4L324.8 306.4M67.4 303.7L65.2 303.7M322.6 303.7L324.8 303.7M67.4 301.5L65.2 301.5M322.6 301.5L324.8 301.5M67.4 299.5L65.2 299.5M322.6 299.5L324.8 299.5M67.4 297.8L65.2 297.8M322.6 297.8L324.8 297.8" stroke="#777" stroke-width="0.9" fill="none"/>
<path d="M67.4 296.3H322.6V530H67.4Z" stroke="#505050" stroke-width="1.3" fill="none"/>
<g clip-path="url(#cBR)">
<path d="M425 307.9L426 308.9L427.4 310.4L429 312.1L430.5 313.7L431.8 315.3L433.2 316.9L434.5 318.5L435.8 320L437.1 321.3L438.4 322.6L439.7 323.7L441 324.7L442.3 325.6L443.7 326.4L445 327.1L446.3 327.8L447.5 328.4L448.6 328.9L449.8 329.4L451.5 329.9L453.8 330.6L456.6 331.3L459.4 332.1L462 332.6L463.9 332.9L465.3 333.1L467.1 333.2L470 333.3L474.4 333.3L479.8 333.3L485.6 333.2L491 333L495.4 332.6L499.3 332.2L503.8 331.5L510 330.6L518.5 329.3L528.7 327.8L539.5 326L550 324L560 321.7L570 319.1L580 316.4L590 313.8L600.5 311.3L611.4 308.8L621.6 306.5L630 304.6L636.1 303.3L640.5 302.5L644 301.9L647.5 301.2L651 300.5L654 299.9L656.9 299.2L660 298.6L663.5 297.8L667.3 297L670.7 296.3L673.1 295.8L673.1 314.7L668.3 315.6L661.4 316.9L653.9 318.3L647.5 319.5L643.1 320.3L639.6 320.8L635.8 321.5L630 322.7L621.1 324.8L610.1 327.6L599.1 330.3L590 332.6L583.8 334.1L579.3 335.1L575.4 336L571 337.1L566.3 338.4L561.8 339.9L556.6 341.4L550 342.9L541 344.5L530.3 346.2L519.5 347.8L510 349.2L502.2 350.4L495.4 351.5L489.3 352.3L484 352.9L479.5 353.1L475.9 352.9L472.8 352.6L470 352.2L467.6 351.8L465.8 351.2L464 350.6L462 349.9L459.4 349.1L456.6 348.3L453.8 347.4L451.5 346.7L449.8 346.1L448.6 345.6L447.5 345.2L446.3 344.6L445 343.9L443.7 343.2L442.3 342.4L441 341.5L439.7 340.5L438.4 339.4L437.1 338.1L435.8 336.8L434.5 335.4L433.2 333.8L431.8 332.2L430.5 330.5L429 328.7L427.4 326.7L426 324.9L425 323.6Z" fill="#f8ea8e"/>
<path d="M425 311L426 312.1L427.4 313.8L429 315.6L430.5 317.3L431.8 318.8L433.2 320.3L434.5 321.8L435.8 323.1L437.1 324.3L438.4 325.5L439.7 326.5L441 327.5L442.3 328.4L443.7 329.2L445 330L446.3 330.7L447.5 331.3L448.6 331.8L449.8 332.3L451.5 332.8L453.8 333.4L456.6 334.1L459.4 334.7L462 335.2L463.9 335.6L465.3 335.9L467.1 336.2L470 336.3L474.4 336.4L479.8 336.3L485.6 336.2L491 336L495.9 335.7L500.6 335.2L505.2 334.6L510 334L514.9 333.2L519.9 332.3L525 331.4L530 330.5L535 329.7L539.9 328.8L544.9 328L550 327L555.2 325.9L560.6 324.6L565.9 323.3L571 322.1L575.8 321.1L580.5 320.1L585.2 319.1L590 318.1L595.2 317L600.5 315.8L605.8 314.6L611 313.4L615.9 312.2L620.7 311L625.4 309.8L630 308.7L634.5 307.7L638.8 306.7L643.2 305.8L647.5 304.8L652.1 303.8L656.8 302.7L661.3 301.7L665 300.8L667.9 300L670.1 299.2L671.9 298.6L673.1 298.2L673.1 309.8L671.9 310.2L670.1 310.7L667.9 311.3L665 312L661.3 312.7L656.8 313.6L652.1 314.4L647.5 315.3L643.7 316.1L640.2 316.8L636 317.8L630 319.1L621.1 321.1L610.1 323.6L599.1 326.1L590 328.1L583.8 329.5L579.3 330.5L575.4 331.4L571 332.4L565.9 333.6L560.6 334.9L555.2 336.2L550 337.4L544.9 338.5L539.9 339.5L535 340.5L530 341.4L525 342.4L519.9 343.3L514.9 344.2L510 345L505.2 345.7L500.6 346.3L495.9 346.8L491 347.2L485.6 347.6L479.8 347.8L474.4 348L470 348L467.3 347.8L465.7 347.4L464.2 346.9L462 346.2L458.5 345.3L454.3 344.2L450 343L446.3 341.5L443.3 339.9L440.7 338L438.3 336L435.8 333.6L432.9 330.5L429.7 326.8L426.9 323.4L425 321Z" fill="#cffac6"/>
<path d="M425 318.4L430.5 325.2L435.8 331.5L441 336.2L446.3 339.7L451.5 342L462 345.2L470.8 347.2L477 344.9L484 342.4L491 340.3L498 338.6L505 337.2L510 336.4L531 331.7L550 327.3L571 322.4L590 318.4L611 313.7L630 309L647.5 305.1L665 301.1L673.1 298.5" fill="none" stroke="#111" stroke-width="1.2" stroke-linejoin="round"/>
<path d="M421.4 336.6L430.5 341.5L441 344.6L451.5 347.1L462 348.3L470 348.7L491 347.7L510 345.4L530 341.8L550 337.9L571 332.9L590 328.6L630 319.6L647.5 315.8L665 312.5L673.1 310.3" fill="none" stroke="#e02020" stroke-width="1.3" stroke-linejoin="round"/>
<path d="M594 368h0M592.4 365.3h0M594.7 373.8h0M594.5 373.4h0M593.1 363h0M593.6 368.5h0M595.5 396.1h0M595.8 374.7h0M594.6 375.1h0M592.6 367h0M593.5 370.8h0M594.3 387.8h0M595.8 391.5h0M595.3 384.7h0M594.6 381.7h0M594.7 375.3h0M594.3 388.2h0M594.1 367.1h0M592.5 363.6h0M594.3 375.3h0M594.3 379.3h0M595.4 372.9h0M595.3 394.3h0M595 385.3h0M596.3 393h0M592.1 364.1h0M592.8 369.9h0M594 371.4h0M594.3 395.9h0M592.7 366.5h0M595.5 382.4h0M595.8 396.3h0M596 393.6h0M596.1 385.3h0M595.3 396.9h0M596.3 392.7h0M596.1 380.6h0M593.1 367.1h0M595 387.7h0M595.9 387.8h0M595.3 393.8h0M594.8 387h0M595.5 377.4h0M595.5 383.8h0M593.6 365.4h0M593.2 366.4h0M595 392.1h0M595 396.1h0M594.5 377.2h0M595.5 384.1h0M594.8 380.1h0M595 375.4h0M592.2 364.3h0M594.6 389.9h0M595.2 377.9h0M595.2 396h0M593.6 365.4h0M594.2 373.2h0M595.1 391.8h0M595.1 388.5h0M594.7 372.9h0M592.3 366h0M595.4 376.8h0M593 369.1h0M595.2 374.3h0M592.9 367.9h0M596.3 387.8h0M595.2 374h0M596.1 378.3h0M595.5 394.3h0M594.2 373.8h0M594.3 378.4h0M594.3 373h0M596.3 380.9h0M594.7 396.3h0M593.9 371.7h0M595.9 375.3h0M595 394.6h0M595.1 385.1h0M594.4 377.6h0M594.1 374.2h0M594.8 392.5h0M594.4 394.3h0M594.8 383.4h0M593 366h0M594.7 389.1h0M594.7 378.6h0M593.5 364.2h0M595.9 387.7h0M595.1 371.4h0M592.1 365.4h0M595.1 390.6h0M593.1 369.1h0M592.9 366.3h0M593.2 363.2h0M595.2 374h0M595.8 376.5h0M594.5 395.9h0M594.8 380.7h0M595.4 386.6h0M594.9 388.8h0M595 371.3h0M595.5 393.1h0M595.3 379.3h0M595.2 379.8h0M594.6 379.3h0M594.2 372.4h0M596.1 379.9h0M596.2 385.3h0M595.3 375.3h0M594.9 378.5h0M595.9 377.4h0M594.8 389.1h0M594.8 376.6h0M594.3 367.6h0M596 384.8h0M595.1 385.2h0M595.5 379.7h0M594.5 388.6h0M594.6 374.9h0M595.2 384.2h0M593.7 371.4h0M592.1 363.2h0M595.9 389h0M594.6 374.4h0M595.4 380.6h0M595.4 392h0M594.5 395.3h0M595.9 383.3h0M592.6 368.7h0M594.5 384.2h0M595.8 374.9h0M594.8 396.3h0M592.7 368.7h0M595.6 378.6h0M596.1 377.3h0M596.2 389.4h0M595.8 378.3h0M595.6 392.1h0M595.4 386.5h0M593.9 372.7h0M596.2 382h0M592.8 363.4h0M594.5 381.8h0M595.2 393.2h0M594.8 393.7h0M595.6 393.3h0M594.9 382.3h0M595.6 386.2h0M595.4 373.4h0M595.7 386.3h0M595.1 392.3h0M594.9 381.2h0M592.7 367.8h0M594.6 393.8h0M594.5 395.7h0M595 391.1h0M596.2 389.7h0M592.6 367.9h0M592 363.1h0M594.6 377.8h0M594.7 384.6h0M595.2 386h0M595.3 379.7h0M595.2 384.9h0M594.9 384.2h0M593.1 364.4h0M595.8 387.5h0M594.4 392.2h0M595.1 381h0M587.1 358.1h0M590 361.2h0M591 362.5h0" stroke="#e8941e" stroke-width="2.3" stroke-linecap="round" fill="none"/>
<path d="M642.5 383h0M643.1 383.6h0M643.8 384.1h0M644.4 384.7h0M645.1 385.3h0M645.7 385.9h0M646.4 386.4h0M647 387h0" stroke="#e8941e" stroke-width="3.0" stroke-linecap="round" fill="none"/>
<path d="M559.9 479.3h0M560.2 464.6h0M561.4 463.8h0M556.7 479.9h0M554.9 464.5h0M581 474.5h0M571.5 483.7h0M551.2 473.5h0M569.9 476.2h0M561.6 459.1h0M575 470.7h0M559.3 476.3h0M605.2 470.9h0M575.9 460.1h0M584 476.2h0M597.2 468.8h0M570.3 474.8h0M574.1 459.9h0M567.2 471.9h0M609.7 468h0M584.3 475.2h0M605.7 473.6h0M561.6 470.4h0M581.2 466.6h0M573.9 471.2h0M559.2 476.6h0M579.9 457.3h0M562.3 477.4h0M554.2 470.7h0M557.4 479.5h0M571.8 459.2h0M558.6 459.9h0M614.9 468.6h0M578.9 478h0M608.2 477h0M589.8 472.9h0M578 460.3h0M552.3 460.9h0M606.2 469.8h0M563.8 475.4h0M593.4 471.5h0M564.8 465.3h0M552.5 469.6h0M573.5 472.4h0M608.4 467.3h0M588.5 473.9h0M578.9 480.2h0M549.3 463.4h0M576.1 463.9h0M579.9 462.4h0M555.5 465.9h0M598.3 469.1h0M569.7 467.9h0M562.5 467.1h0M583.6 459.2h0M610.1 468h0M580 461.1h0M580 464.7h0M580.7 470.4h0M560.1 482.3h0M546.6 471.2h0M588.8 466.8h0M581.1 477h0M549.4 462h0M617.7 473.4h0M577.6 480.3h0M618 477.2h0M551.9 464.5h0M598.6 473.7h0M588.7 472.3h0M551.5 464.4h0M599.2 469.7h0M563.7 463.5h0M548.3 476.2h0M592.8 468.9h0M582.4 463.2h0M555.7 476.6h0M585.4 455.7h0M576.5 474.7h0M607.4 468.5h0M578.1 476.2h0M590.1 470h0M575.1 470.2h0M616 474h0M553.8 474.7h0M606.7 475.1h0M586.3 475.5h0M592.1 473.5h0M561.7 478.5h0M582.5 469h0M582.1 459.7h0M582.7 465.8h0M582.9 473h0M560.3 478.5h0M557.7 460.7h0M600.4 469.5h0M591.1 477.2h0M552.7 474.2h0M563.7 479.6h0M548.9 463.2h0M608.2 470.1h0M576.1 473.4h0M608.2 468.2h0M569 481.3h0M563 459.1h0M603.2 477.1h0M597.4 468.4h0M615.5 476.9h0M552.7 467.5h0M570.9 470.2h0M549.9 463.9h0M612.3 470.6h0M560 460.9h0M606.3 475.4h0M561.9 482.3h0M587.2 477.6h0M561.3 468.6h0M559.3 480.7h0M551.6 477.2h0M555.4 465.9h0M576.2 471h0M562.3 474.4h0M604.6 468.6h0M606.6 476.7h0M607.8 471.2h0M576.1 481.6h0M549.4 475.2h0M571 478.3h0M610.3 474.7h0M581.2 458.2h0M588.7 466.7h0M561.4 479h0M561.7 465.8h0M557.4 465.4h0M576.8 473h0M581.3 471.5h0M583.9 465.7h0M551 472.8h0M577.9 463.3h0M598.9 471.1h0M556.3 463.2h0M574.2 479.8h0M564.5 470.4h0M552 471.3h0M582.1 472.1h0M579.1 477.7h0M576.3 467.6h0M573.9 474.8h0M582.3 478.9h0M571.6 474.7h0M562.5 478.2h0M610.6 473.9h0M567.5 483.1h0M585 478.3h0M567.5 473.8h0M594 475.4h0M617.8 471.2h0M554.5 474.5h0M584.8 464.6h0M593.4 475.6h0M557.1 477.3h0M580.2 469.2h0M559 465.5h0M570.6 467.1h0M597.3 468.4h0M576.4 481.7h0M565.5 475.1h0M581.1 468.5h0M610.8 472.6h0M545.1 472.1h0M589.8 472.9h0M550 474.1h0M578.9 476.3h0M612.4 472.1h0M555.1 459.6h0M590.6 477.4h0M579.1 470.3h0M592.6 470.5h0M573 474.3h0M568.2 465.3h0M600.5 470.1h0M605 469.9h0M567.1 468.6h0M583.3 470.2h0M595.6 469.3h0M561.7 472.3h0M551.7 466.2h0M606.7 476.6h0M568.3 459.2h0M576.3 480h0M563.5 461.5h0M590.7 475.5h0M557.1 470.8h0M558.7 469.3h0M581.6 464.5h0M549.2 476h0M616.4 475.4h0M608.4 474.5h0M561.9 466.5h0M582.6 470.5h0M549.8 475.5h0M589.7 472.7h0M581.1 477h0M561.8 477.1h0M547.1 471.8h0M577 480.5h0M555 468.8h0M580.1 457.9h0M591.3 472.5h0M584.3 471.8h0M587.9 476.2h0M573.9 474.1h0M564 459.7h0M575.6 479.6h0M577.1 478.5h0M601 474h0M563.1 475.9h0M582.2 461.5h0M588 476.6h0M583.9 456.1h0M586.5 472.6h0M590.9 473.7h0M607.8 472.7h0M561.1 470.6h0M594 473.2h0M597.8 469.1h0M582.4 463.1h0M570.9 477.6h0M569.2 468.9h0M597.4 475.7h0M596.6 475.6h0M549.1 472.2h0M566.4 475.2h0M555.4 476.5h0M606.3 470.8h0M573.7 459.8h0M592.4 473h0M561.5 477.4h0M605.6 477.3h0M584.9 476.4h0M609.2 467.4h0M560.7 479.4h0M594.7 468.3h0M602.4 471.5h0M554.1 462.8h0M554.8 464.8h0M567.5 475.2h0M589.9 468.8h0M573.6 468.3h0M605.1 468.9h0M615.8 474.8h0M609.3 469h0M569.1 468.9h0M562.7 480.9h0M568.9 463.6h0M576.3 470.4h0M588.9 469.6h0M572.2 473.8h0M582 472h0M585.8 453.9h0M556.1 473h0M581.9 458.6h0M572.9 474h0M585.7 468.9h0M583.8 466.9h0M612.2 474.5h0M558.8 466.8h0M593.3 474h0M585.6 476.9h0M583.6 475.2h0M617 470.5h0M567.1 468.8h0M600 476.3h0M583.4 478.1h0M560 473.7h0M548.8 470.4h0M587 465.3h0M615.2 476.7h0M553.7 470.4h0M567.7 459.2h0M578.2 463.4h0M562.1 480.2h0M553.6 476.1h0M561.9 466.2h0M561.8 474.2h0M574.3 470.8h0M586 476.3h0M581.2 473.3h0M582.5 464.4h0M547.1 473.5h0M560.9 472.9h0M578.3 480.4h0M558 470.4h0M580.4 475.2h0M550.5 462.8h0M614.7 468.7h0M560.6 472.1h0M554.7 477h0M568.1 471.5h0M582.7 457.3h0M566.1 464.8h0M607.8 468.1h0M577.1 481.4h0M572.8 470.4h0M571.9 470.3h0M609.4 475.8h0M567.1 478.4h0M589.3 475.4h0M553.4 470.8h0M604.7 472.6h0M577.9 463.8h0M575 459.7h0M566 476.1h0M617.2 475.2h0M563.3 482.9h0M563.4 478.2h0M579.2 479.1h0M580.5 460h0M596.9 471h0M549.4 471.3h0M560 481.4h0M604.8 474.1h0M572.3 468.7h0M583.9 460.8h0M601.1 468.5h0M573.6 475.2h0M610.7 471.7h0M576.6 461.3h0M554.8 465.2h0M567.4 473.6h0M561.5 473.4h0M563.5 482.3h0M600.1 468.2h0M567.8 473.4h0M556.4 480.9h0M583.1 461.8h0M584.1 458.6h0M573.9 473.7h0M554.4 479.3h0M561.8 464.2h0M584 463.9h0M611.7 469.1h0M550.3 466.2h0M546.8 471h0M575.4 480.3h0M559.1 479.9h0M570.7 479.6h0M556.3 479.3h0M554.2 476.9h0M563.8 463.6h0M579.4 470.4h0M584.1 460.3h0M584.9 455.2h0M553.5 475.3h0M574.5 464.4h0M581 461.8h0M556.8 469.1h0M592.9 474.5h0M556.5 460.9h0M563.3 461.1h0M589.4 471.4h0M617.7 476.7h0M557.9 460.2h0M557.9 468.9h0M579.6 473.6h0M580.7 463.5h0M592 468.7h0M551.4 476.5h0M592.7 471.9h0M587.2 476.9h0M555.2 462.3h0M551.6 471.9h0M552.4 464.5h0M577.9 468.2h0M585.9 473.1h0M576.1 471.2h0M610.6 472.2h0M559.4 463.6h0M607.2 468.2h0M582.1 455.6h0M600.6 472.1h0M598.9 472.3h0M550.6 462.8h0M559.3 464.7h0M584.7 475h0M584.6 476.5h0M560 471.8h0M597.1 470.6h0M566.7 465.7h0M583.6 469.7h0M594.8 470.5h0M566.7 464.6h0M589.6 469.8h0M594.3 476h0M563.3 470h0M560.3 464.4h0M553.5 470.6h0M581.6 464.2h0M579.1 480h0M587.4 477.6h0M607.3 477.4h0M574.3 468.7h0M573.4 473.4h0M572.9 467.8h0M586.8 454.4h0M604.4 468.5h0M605.9 468.7h0M591.7 472.3h0M550.4 462.3h0M551.5 478.4h0M556.7 459h0M550 475.5h0M576.8 465.3h0M581.1 463.8h0M578.7 459.8h0M554.7 461.7h0M577.1 462.1h0M588.4 474.5h0M561.1 460.7h0M553.3 472.5h0M583.9 474.2h0M580.7 473.4h0M548.7 466.1h0M562.5 481.8h0M614 476.7h0M580.1 466.1h0M581.6 474.2h0M577.9 461.9h0M606.9 473.3h0M555.2 460.5h0M579 474h0M563.9 465.6h0M591.9 471.1h0M579.4 472.3h0M576.4 469.5h0M556.6 459.3h0M582.2 463.8h0M549.9 472.8h0M614.7 471.9h0M577.2 480.8h0M558.9 475.6h0M557.4 461.9h0M575.5 474.1h0M603.6 472.5h0M563.5 480.7h0M559.1 463.6h0M563.1 468.7h0M575 473.4h0M592.6 475.2h0M593.5 471.8h0M583.8 461.4h0M565.4 475.5h0M588.3 472.7h0M551.2 468.3h0M556.2 467.3h0M565.8 475h0M571.5 480.9h0M578.3 480.8h0M547.5 468h0M592.3 476.3h0M580 459.1h0M549.4 465h0M569.5 476.3h0M601.2 470.1h0M615.5 471.7h0M573.8 467.6h0M572.2 479.7h0M563.8 476.1h0M605.3 475.1h0M580.7 462.5h0M578.6 479.3h0M568.6 469.6h0M586.7 470.3h0M572.9 472.7h0M559 469.8h0M577.1 470.8h0M547.5 469.1h0M592.9 475.2h0M606.9 472.7h0M558.5 461.6h0M599.9 473.8h0M583.1 466.1h0M591.2 470.4h0M557.5 475.9h0M594.2 468h0M605.1 469.2h0M614 471.1h0M569.7 477.7h0M610.1 472.3h0M566.7 471.4h0M557.9 463.1h0M579.6 479.6h0M602.7 477.1h0M597.6 470.8h0M595.3 469h0M563.3 474.2h0M608.6 476.5h0M566.7 468.7h0M561 472.4h0M581.9 471.7h0M584.3 464.8h0M571.3 464.8h0M558.5 481.1h0M561.2 466.8h0M591.9 474.5h0M607 471.8h0M602.3 476.1h0M553.6 468.2h0M554.2 468.7h0M594.4 475.1h0M570.3 476.4h0M582.8 456.2h0M570 478.2h0M558.8 474.5h0M577.6 459.8h0M575.8 476.6h0M569.3 458.9h0M574.1 476.6h0M588.7 468.4h0M560.6 462.3h0M551.6 468.4h0M573.5 460.6h0M575.9 467.4h0M569.6 481.1h0M558.8 462.8h0M581 471.8h0M552.1 466.8h0M548.7 472.1h0M612.7 476.5h0M562.9 479.1h0M571.9 473.3h0M601.8 471h0M573.1 477.1h0M593.5 473.4h0M551.8 475.6h0M560.5 469.1h0M561.7 472.3h0M598.7 472h0M570.6 460.6h0M567.3 466.3h0M560.6 460.3h0M578.5 460.8h0M572.9 472.6h0M562.1 474.6h0M583.2 477.7h0M569 474.7h0M610.9 470.6h0M572.4 478.8h0M566.8 477.9h0M572.4 463.6h0M570.1 462.1h0M568.4 461.8h0M558.1 471h0M561.6 482h0M582.4 468.8h0M553.3 479.4h0M559.2 465.1h0M560.8 477.9h0M618 473.7h0M615.3 469.5h0M563.7 476.8h0M579.3 478.4h0M583.6 455.5h0M575 461.5h0M565.5 480.3h0M562.5 481.1h0M613.9 469.6h0M571.3 466.6h0M555.8 478h0M584.6 454h0M608.2 467.3h0M583.4 470.5h0M581.5 459.5h0M562.1 466.4h0M588.6 472.8h0M590.4 472.6h0M570.2 465.6h0M560.9 468h0M554.9 477h0M570.4 471.2h0M559.5 464.1h0M603.1 474.6h0M576.3 479.9h0M606.4 472.4h0M560.1 479.1h0M596 475.8h0M565.5 465.3h0M611.6 470.5h0M562.9 473.3h0M597.9 473.3h0M568.7 463h0M556.7 462.9h0M589.9 473.9h0M546.6 469.7h0M559.4 463.1h0M552.3 477.8h0M560.6 462.3h0M591.4 475.7h0M603.3 469.6h0M559.7 469.7h0M588.2 475.9h0M558.6 478.5h0M571.6 464.5h0M592.8 474.3h0M581.8 479.6h0M552 462.7h0M549.1 462.9h0M571 460.8h0M569.1 468.9h0M609.3 476h0M571.2 466.8h0M566.5 461.9h0M571.7 459.8h0M562.9 475.5h0M556.2 459.1h0M567.4 482.4h0M572.6 472.9h0M565 471.4h0M577.3 468.1h0M574.8 481.8h0M549.9 465.4h0M582.9 476h0M570.6 472.5h0M575.3 480.8h0M617.6 477.6h0M571 466.5h0M611.1 477.3h0M551 461.8h0M564.5 480.6h0M564.5 473.6h0M618 470.9h0M572.7 474h0M572.4 464.7h0M595.1 476.1h0M576.1 467.8h0M560 468.1h0M546.4 470.3h0M603.9 473.9h0M564.6 482.4h0M571.9 482.6h0M575.3 472.8h0M585 454.4h0M572.6 470.2h0M586.3 455.2h0M558.1 478.1h0M558.3 469.2h0M571.2 467.6h0M560 473.9h0M559 469.6h0M576.1 466.2h0M566.8 483.3h0M579.3 463.7h0M604.9 472.3h0M595.4 472.7h0M594 468.1h0M562.4 481.2h0M556 475.1h0M566.9 482.6h0M574.4 471.6h0M568.8 480.5h0M601.5 471.8h0M555.6 462.9h0M551.4 466.3h0M573.8 472.6h0M561.3 477.5h0M592.7 470.8h0M584.6 476.4h0M580.1 457.1h0M583.3 462.5h0M569.2 461.5h0M566.5 462.7h0M560.1 474.8h0M546.9 474h0M582.4 469.3h0M579.2 469.3h0M565 474h0M574 478.2h0M574.2 466.2h0M573.1 476h0M590.4 472.3h0M556.1 466.7h0M549 467.8h0M555.5 463.7h0M581.4 475.3h0M581.8 469.2h0M606 468.2h0M575.3 466.1h0M574 477.2h0M557.6 470.3h0M585.3 469.1h0M577.4 459.6h0M586.1 471.7h0M562.9 470.5h0M600.4 473.5h0M558.1 461h0M576 472.4h0M582.8 465.5h0M567.6 475.3h0M613.8 473.9h0M563.6 458.8h0M569.2 478.3h0M580.1 478.8h0M567.3 474.1h0M575.1 465.6h0M577.5 475h0M558.8 466.8h0M561.7 473h0M559.9 464.4h0M607.7 475.4h0M548.9 468h0M576.7 460.9h0M550.5 477.7h0M547.6 470.9h0M595.5 472.2h0M581.5 457.6h0M570.7 478.1h0M561.5 477.1h0M559.1 475.8h0M564.1 465.5h0M602.2 470.3h0M574.7 463.4h0M560.9 461.3h0M583.2 462.7h0M553.4 478.8h0M600.5 468h0M596.8 474.2h0M560.7 469h0M576.9 476.6h0M560.8 479.4h0M569.7 476.8h0M575.6 469.9h0M614.7 475.7h0M602.3 468.1h0M582.9 477.7h0M582.5 464.8h0M557.4 481.3h0M572.8 477.1h0M604.5 469.1h0M595.1 477h0M583 458.9h0M580.9 468.7h0M595.2 475.1h0M576.9 476.8h0M614.9 472.2h0M564.5 461.4h0M555.5 476.1h0M557 479.7h0M549.9 477.1h0M593.5 474.7h0M552 462.3h0M579.7 476.6h0M565.1 465.7h0M562.8 473h0M573.6 465.9h0M557 471.3h0M612 467.6h0M576.4 460.9h0M561.1 481.7h0M563.7 476.1h0M607.3 474.1h0M577 462.8h0M582.9 464.1h0M587.3 467.2h0M568.5 477.5h0M553.9 460.2h0M589.9 472.3h0M567.1 461.7h0M564.5 480h0M608.7 472.4h0M549.5 472.9h0M569 460.6h0M597.7 473.7h0M576.7 479.9h0M583.3 454h0M574.1 467.3h0M586.7 477h0M608.9 469.7h0M568.4 460.6h0M594.1 469.7h0M593.3 468.1h0M571.5 467.8h0M585.2 465.3h0M557.3 471.1h0M564.1 468.9h0M586.2 454.2h0M577.5 469.4h0M587.3 468.6h0M611 476.2h0M611 470.3h0M586.2 475.1h0M572.6 478.7h0M556.9 465.4h0M575.3 470.1h0M568.3 461.6h0M616.9 469.9h0M609 470.2h0M586.7 473.3h0M589.4 469.3h0M593.4 468.5h0M598.6 474.9h0M561.7 478.8h0M590.5 470.2h0M568.7 479.3h0M579.5 470h0M577.1 477.5h0M563.5 477.8h0M549.4 464.3h0M577.3 481.2h0M562.5 482.8h0M571.1 461h0M575.6 462.5h0M610.4 471h0M579.7 462.4h0M583.4 458.7h0M585.9 477h0M558.7 470.5h0M564.7 480.3h0M572.3 482h0M550.9 470.2h0M554.7 472.1h0M558.7 477.2h0M580.1 471.5h0M607.2 470.7h0M607.7 477.1h0M594.8 468.3h0M573.8 475.7h0M554.8 471.8h0M551.5 473.3h0M551.2 473.5h0M591.6 468.2h0M559 477.7h0M569.7 461.3h0M572.5 478h0M602.3 467.6h0M584.6 458.2h0M575 459.5h0M555.9 468.2h0M617.6 471.5h0M552.4 464h0M568.8 461.7h0M552.8 474.2h0M596.6 475h0M563.9 470.1h0M577.5 466.6h0M601.7 476.9h0M581.2 479.9h0M573.8 461.8h0M580.6 467.3h0M590.9 470h0M586.4 465.3h0M615.6 468.7h0M554.8 469.8h0M556.4 466.9h0M573.6 476.6h0M579.8 477.2h0M606.5 468.1h0M583.4 464.6h0M552.2 478.8h0M600.7 469.3h0M562 475.3h0M569.9 470.2h0M557.5 465.3h0M608.1 467.9h0M557.4 473.4h0M571.6 459.7h0M563.1 481.8h0M551.7 475.5h0M588.2 466h0M575 475.9h0M579.1 480.4h0M547 468.2h0M561 463.4h0M575.2 477.1h0M575.5 463.8h0M559.8 463.8h0M596 469.6h0M562.9 460h0M594 469h0M569 468.9h0M575 479h0M563.8 473h0M560 478.3h0M592.6 469.4h0M585.9 453.8h0M565.7 478.9h0M568.4 468.5h0M586.4 467.8h0M567.6 483.5h0M566.1 464.7h0M574 462h0M564.9 466.3h0M573.4 480.7h0M582.4 474.8h0M552 465h0M586.3 454.2h0M559.6 462.1h0M562.9 482.8h0M576.1 462.7h0M601.4 476.9h0M568.2 481.1h0M575.4 471.4h0M553.5 477.2h0M580.6 461.2h0M561.9 470.6h0M602.8 472.2h0M583.4 477.7h0M609.7 476.6h0M565.1 479.5h0M588.6 477.8h0M580.8 478.1h0M573.9 466.8h0M568.1 477.2h0M554.2 463.4h0M563 475.6h0M571.6 459.3h0M610.2 467.3h0M557.7 480.3h0M554.2 474.6h0M562.5 468.8h0M610.7 469.3h0M583.9 477.8h0M566.1 472.5h0M571.3 468h0M602.8 473.6h0M609.2 471.3h0M546.9 471.1h0M570.2 475.4h0M580.5 479.6h0M553.7 474.6h0M608.4 471.3h0M614.8 468.5h0M615.9 470.4h0M585.6 456.7h0M567 477.7h0M571.8 482.2h0M555.5 475.4h0M547.6 472h0M568 465.1h0M596.6 476.5h0M559.9 460.8h0M588.5 470.8h0M583.7 474.9h0M550.3 465.7h0M556.2 460.3h0M552.6 465.5h0M552.3 463.5h0M603.4 476.1h0M569.8 473.6h0M584.9 471.6h0M553 462.6h0M595.8 468h0M571.8 475.7h0M555.8 473.2h0M600.4 468.7h0M569.1 477.5h0M556.9 480.2h0M558.8 463.5h0M579.4 480.2h0M567.8 462.3h0M607.1 471h0M583.3 461.4h0M559.8 476.7h0M606.7 475.6h0M558.9 461.1h0M556.8 469.1h0M584.6 459.6h0M587.3 471.7h0M587.6 466.8h0M550.2 470.4h0M577.9 460.7h0M596.2 474h0M546.2 469.6h0M572.9 467.8h0M558.8 473.2h0M588.7 476.8h0M554.2 460.8h0M552.3 477.2h0M577.6 475h0M576.1 475.1h0M556.8 473.7h0M575.8 460.7h0M574.2 482.7h0M574.8 469.9h0M611.6 470.1h0M566.8 460.9h0M612.7 468.1h0M563.8 474.9h0M567.6 470.1h0M576.5 470.6h0M550.6 475.4h0M556.2 463.3h0M562.1 481.3h0M568.1 476h0M575.5 461.3h0M553.6 470.3h0M566.5 461.7h0M586.8 467.3h0M574.9 468.7h0M547.7 473.2h0M572.3 474.4h0M559 468.2h0M602.3 472.8h0M587.5 472.9h0M558.6 467.3h0M612.1 468h0M573.8 479.5h0M585.1 455.8h0M560 468.3h0M571.6 482.5h0M554.5 477.8h0M561.4 470.1h0M582.8 479.3h0M609 469.6h0M610.6 475.1h0M552 478.8h0M578.2 468.9h0M572 459.7h0M616.4 475.8h0M546.3 469.7h0M583.6 473.1h0M584.6 454.4h0M613.5 470.2h0M573 477.3h0M572.1 481.6h0M579.9 469.3h0M609.6 471.1h0M575.1 466.4h0M602 474.1h0M571.5 466.1h0M567.2 467.5h0M570.6 460.9h0M575.9 466.1h0M583.1 462.3h0M580.7 462.2h0M578.5 461.1h0M559.3 470.6h0M563.5 465.3h0M571 480.4h0M586.9 470.2h0M571.8 459.5h0M574.5 478.1h0M547.5 467.2h0M572.7 461.5h0M549.7 468.3h0M581.9 479.1h0M568.9 479.9h0M575.2 482.2h0M612.8 472.3h0M557.6 466.9h0M601.1 468.3h0M609.7 472.7h0M563.4 462.6h0M616.3 474.6h0M573.3 468h0M552.5 475.4h0M563 459.7h0M551.9 468.6h0M571.1 469.6h0M609 473.4h0M616.7 476.2h0M581.4 474.4h0M584.2 466.8h0M581.9 473.3h0M574.8 470.7h0M553.6 469.3h0M566.2 483h0M582.9 458.6h0M614.7 473.2h0M572.1 483h0M563.6 463.4h0M597.3 471h0M570.5 474.3h0M573.7 481.8h0M559 475.9h0M583.3 461.1h0M553.5 479.4h0M573.9 464.6h0M570.3 471.6h0M576.6 461.3h0M566 467.4h0M566.7 478.9h0M552 466.4h0M556 464.9h0M610.2 471h0M585.8 475.7h0M560.1 468.5h0M565.2 461.6h0M574.9 461.2h0M581.4 461.6h0M567.4 478h0M612.6 467.6h0M612.7 473h0M572.6 474.4h0M553.1 465.7h0M584.6 471.8h0M562.6 475.6h0M548 470.6h0M547.2 473.3h0M592.8 472.5h0M557 479.5h0M579.1 472.4h0M556.4 469.1h0M590.1 474.2h0M573.3 461h0M591.4 475.1h0M566.3 470.9h0M586.3 473.3h0M564.9 465.9h0M560.4 468.9h0M564.3 461.6h0M564.6 479.6h0M587.3 465.4h0M550.1 472.7h0M549.2 469.1h0M581.2 456.2h0M554.7 479.9h0M569.7 466.6h0M585.1 468.6h0M605.3 471.9h0M554.3 471.2h0M597.1 470.8h0M583.7 457.3h0M552.9 471h0M611.4 472.1h0M600.3 471.7h0M570.4 480h0M557 473.3h0M567 467.7h0M586.7 470h0M566.1 469.5h0M557.1 466.3h0M549.9 476.8h0M557.1 461.1h0M579.6 473.9h0M593.1 468.1h0M579.8 462.1h0M589.5 471.6h0M556.5 465.8h0M601.8 471.7h0M565.9 473.4h0M615.4 471.4h0M573.4 469.2h0M555.2 466.1h0M559.9 481.8h0M570.7 483.9h0M580.5 476.6h0M556.2 478.3h0M583 457.2h0M556.4 462h0M566.9 478.2h0M598 472.9h0M568.1 471.4h0M570 469.2h0M581.6 469.7h0M585.2 458h0M571.7 483.3h0M603.2 475.8h0M580.8 468.3h0M558.9 466.3h0M604.8 471.7h0M583.8 453.7h0M563.1 474.5h0M547.8 475h0M557 460.4h0M560.4 460.3h0M604 471.3h0M600.3 469.4h0M552.3 468.7h0M577 470.8h0M560.2 467.6h0M583.1 467.8h0M614.1 475.7h0M554.4 478.1h0M561.7 475.9h0M551.5 476.8h0M606.6 472.2h0M573.8 471h0M564.3 467.6h0M594 470.7h0M575.7 461.3h0M604.1 476.1h0M556.3 471.6h0M603 476.7h0M610.7 471.9h0M563 464.5h0M575.5 467.6h0M587.8 473h0M569.5 459.1h0M601.5 477h0M555.7 471.6h0M553.3 467.7h0M560.1 478h0M580.1 462.1h0M571.4 467.1h0M562.8 463.8h0M589.2 472.2h0M549.8 476.2h0M555.5 475h0M595.5 470.1h0M573.2 469.1h0M613.1 470.9h0M558.5 473.2h0M548.9 463.4h0M561 479.9h0M580.7 472.6h0M578.7 470h0M567.8 470.5h0M592.3 471.5h0M560.7 459.8h0M572.8 466.4h0M584.9 477.9h0M560.1 470.3h0M612.8 473.4h0M568.8 461.2h0M572.4 480.7h0M606.8 468.8h0M559.5 476.1h0M573.4 466.8h0M566.6 482.8h0M575.9 466.2h0M565.8 468.1h0M615.3 473.9h0M583.4 472.4h0M607.7 472.2h0M575.1 479.1h0M584.2 455.8h0M557.7 477.2h0M549.9 465.4h0M562.6 470.9h0M565.1 476.7h0M604.3 467.7h0M579.3 468.7h0M570.1 475.4h0M582.5 457.6h0M589.4 476.1h0M582.8 463.3h0M612 472.2h0M575.1 473.4h0M581.8 470.6h0M558 467.9h0M554.7 464.6h0M573.1 472.3h0M551.9 462.1h0M559.6 465.8h0M593.1 470.5h0M582.9 464.3h0M576.1 481.2h0M562.5 473.9h0M575.7 468.5h0M577.9 480.6h0M583.9 478.2h0M552.7 459.1h0M547.1 473.9h0M589.1 453.8h0M609 476.9h0M602.9 477.1h0M547.9 469.8h0M605.6 469.8h0M554.2 479.9h0M590 477.9h0M579.7 481.4h0M614.1 476.5h0M581.2 456.1h0M575.3 480.6h0M561.5 460.4h0M571.1 456.7h0M577.5 458.5h0M603.9 477.8h0M548 460.4h0M615.3 476.5h0M615.3 476.1h0M606.1 463h0M558.3 458.1h0M554.3 477.9h0M607.6 465.2h0M565.5 458.6h0M593.9 468.4h0M571.5 458.4h0M585.8 457.3h0M581.9 456.9h0M550.7 460.3h0M584.3 481.6h0M579.5 457.4h0M548.8 476.6h0M613.7 466h0M548.5 480h0M592.9 477.2h0M611.2 466.6h0M546.5 471.6h0M570.8 483.2h0M569.8 459h0M611.3 477.4h0M612.8 468.2h0M555.1 461h0M553.4 457.3h0M617.3 474.5h0M580.8 480.4h0M614.7 473.3h0M591.7 477.2h0M587.4 454.8h0M557 481.6h0M548.1 473.8h0M576.9 481h0M559.6 459.1h0M585.8 454.3h0M601.4 478.6h0M582.8 452.7h0M547.6 476.3h0M584.5 452.1h0M595.2 467.7h0M587.5 467.3h0M590.9 476.6h0M615.6 467.1h0M554.5 477.8h0M584.9 457.9h0M604.9 476.1h0M581.7 456h0M568.6 458.4h0M609.6 476.7h0M603.8 466h0M556.9 458.6h0M562.4 460.9h0M582 456.2h0M616.6 476.6h0M549.7 477.8h0M557.5 479.4h0M606.3 478.4h0M600 475.2h0M552.7 459.8h0M556.3 479.5h0M597.1 475.5h0M546.8 474.5h0M578.6 481.3h0M585.8 466.2h0M570.4 482.5h0M607.6 477.3h0M567.4 457h0M588.4 462.6h0M575.8 480h0M555 457h0M572.9 483.4h0M603 477.1h0M599.3 475.9h0M558.1 458.1h0M600.7 477.6h0M586.2 476.6h0M616.7 476.2h0M598.4 476h0M583.2 454.4h0M600.5 475.2h0M604.8 473.8h0M609.4 487.1h0M612.2 488.5h0M609.1 478.5h0M617.7 484.1h0M606.6 493.6h0M613.3 476.3h0M613.4 483.4h0M600.6 478.3h0M615.7 488.3h0M616.8 485.7h0M612.5 494.5h0M616.7 480h0M614.2 483.5h0M610.3 474h0M605 487.3h0M603.4 484.7h0M610.4 486.3h0M618.8 483.2h0M606.2 491.7h0M612.6 481.1h0M599.9 482.6h0M608.1 489.8h0M614.6 493.3h0M610.2 481.8h0M615.9 484h0M601.4 474.9h0M615.9 476.5h0M609.1 472.5h0M615.8 490.2h0M602.9 473.2h0M617.9 486.7h0M606.2 475h0M611 493.5h0M609.9 471.1h0M601.8 484.6h0M605.6 485.8h0M605.6 481.9h0M605.8 493.5h0M608.6 472.6h0M610.7 493.3h0M609.7 495.1h0M609 477.9h0M615.1 489.5h0M610.7 492.6h0M604.5 474.8h0M615.6 483.9h0M616 487.4h0M615.8 485.9h0M600.6 476.3h0M609.1 498h0M609.6 499.8h0M607.1 476.6h0M614.1 484.4h0M603.1 475.7h0M610 490.6h0M618.1 478.5h0M614.8 474.3h0M612.3 478.3h0M607.6 497h0M603.9 473.4h0M605.8 494.9h0M607.8 485.8h0M609.3 472h0M613 482.4h0M605.1 493.6h0M602.4 486.7h0M605.7 474.1h0M614.7 484.5h0M613.4 480.6h0M609.8 494h0M608.7 473.5h0M616.8 476.4h0M616.6 487.1h0M598.9 475h0M609.8 500.3h0M609.1 498.1h0M613.4 473h0M617.6 485.7h0M605.7 492h0M604.1 475.7h0M608.8 484.4h0M605.9 481.8h0M611 493.9h0M608.1 494.5h0M613.6 485h0M607.3 485.6h0M608.2 498.3h0M601.1 480.6h0M605.7 491.6h0M606.7 481.4h0M604 480.8h0M600.8 480.6h0M600.2 482.6h0M608.6 489.9h0M608.1 489.7h0M600.5 472.3h0M613.2 495.5h0M614.1 479.4h0M609.3 476.4h0M611.4 475.7h0M607.4 496.7h0M603.2 482.8h0M608.3 480.4h0M617.7 483.3h0M610 471h0M615.1 475.8h0M612.4 479.7h0M606.6 475.6h0M615.2 477.8h0M600 472h0M609.8 480h0M604.3 488h0M614.8 480.4h0M605.1 491.4h0M615.3 477.2h0M610.8 496.9h0M610.4 472.4h0M610.7 483.3h0M613.6 478.7h0M613.9 485.4h0M609.2 474.5h0M601.7 473.3h0M603.5 492.5h0M605 488.2h0M618.2 485.4h0M606.2 496h0M612.8 495.4h0M610 474.9h0M615.9 473.7h0M607.1 486.4h0M602 475.6h0M611.6 477.5h0M612.7 486.9h0M602.7 490.5h0M614.8 476.1h0M600.8 473.3h0M612.3 471.1h0M604.1 484.7h0M608.1 481h0M613.8 479.7h0M606.4 491.9h0M604 485.9h0M604.7 480.3h0M608.9 498.8h0M601.1 479.2h0M608.9 485.9h0M617.1 470.1h0M609.3 486h0M603.9 486.3h0M614.7 491.8h0M612.9 488.2h0M615.9 479.7h0M602.1 472.7h0M609.3 492.6h0M608.5 471.5h0M610.2 471h0M609.4 483h0M618.6 479.2h0M608.8 476.6h0M616.9 475.5h0M613.3 485.4h0M613.2 483.7h0M606.6 496.7h0M608.9 481.3h0M609.1 477.1h0M602.8 475.5h0M613.1 480.3h0M613.4 492.2h0M608.1 497h0M613.4 489.6h0M611.9 476.6h0M611.3 496.6h0M603.9 479h0M618.6 485.1h0M605.8 490.1h0M609.5 474.9h0M605.1 480.3h0M609.8 483h0M611.1 484.1h0M618.4 479.7h0M609.6 485h0M607.4 492.3h0M604.4 481.2h0M606.4 494.2h0M618 478.4h0M611.9 484.8h0M606.5 477.8h0M604.1 471.8h0M612.5 470.8h0M612.8 481h0M615.1 492.3h0M617.4 470.7h0M610.4 472.6h0M611.5 478.8h0M615.6 472.7h0M602.3 480.6h0M611.9 481h0M604.4 480h0M608.4 494.2h0M626.7 444.6h0M628.2 461.7h0M627.8 448.8h0M626.3 459.2h0M628.4 472.5h0M626.8 469.9h0M627.5 467.6h0M628.4 460.4h0M627.6 444.5h0M626 445.1h0M627.9 441.4h0M626.2 456.8h0M627.4 442.2h0M626.5 462.6h0M628.1 445.2h0M627.7 456.2h0M627.6 467.1h0M627.4 456.7h0M627.9 443.8h0M626.4 460.3h0M626.2 471.4h0M628.4 449.8h0M627.2 451.4h0M628.2 447.7h0M627.4 466.7h0M629 465.9h0M626.5 455.9h0M626.6 454.8h0M625.9 448.7h0M627 452.6h0M628.8 453.9h0M627.3 448.5h0M627.9 467.3h0M626.9 468.4h0M627.9 447.9h0M626.6 442.7h0M628.6 461.4h0M629.1 460h0M629 455h0M628.1 450.9h0M627.4 463.6h0M627 444.2h0M629.3 458.8h0M626.3 458.7h0M628.2 445.9h0M627 443h0M627.9 462.7h0M627.4 462.7h0M627.1 466h0M628.7 454.8h0M626.8 441.3h0M628.1 464.3h0M626.4 470.3h0M627.2 444.4h0M628.5 467.3h0M628.8 450.8h0M629.4 468.4h0M626 458.7h0M626.5 446.4h0M627.1 472.5h0M626.2 462h0M626.8 467.4h0M628 446.9h0M628.5 451.8h0M626.8 461.5h0M628.7 446.2h0M627.2 461.2h0M628.8 454.2h0M629.2 467.5h0M627.9 463.8h0M628.3 457.2h0M627.7 461.2h0M629.3 467.3h0M626.2 450h0M628.5 468.1h0M626.6 446.7h0M627.4 451.3h0M627.9 470.1h0M626.5 442.2h0M628.1 458.9h0M626.8 448.5h0M627.6 465.2h0M626.2 443h0M628.9 463.9h0M626.5 455.6h0M626 460.1h0M628.5 466.6h0M628.1 448h0M626.5 443h0M627.3 470.5h0M629.2 471h0M625.9 447.9h0M629.3 466.5h0M626 455.8h0M628.2 449.6h0M629.1 462.2h0M628.9 463h0M627.3 448.5h0M626.6 450.1h0M628.1 469.8h0M627.3 443.7h0M628.8 446.3h0M626.3 453h0M626.9 467.1h0M626.7 468.4h0M627.9 472.6h0M626.7 447.8h0M626 464.5h0M629 453.1h0M629.3 468.6h0M620.3 444.4h0M619.8 449.1h0M618.8 449.3h0M620.1 449.1h0M619 450.7h0M618.2 447.5h0M620.2 449.2h0M620.7 445.8h0M622.2 450.9h0M618.4 448.4h0M621.3 449.9h0M618.4 448.1h0M618.1 449.5h0M622.7 448.2h0M622.2 446.5h0M618.8 449.1h0M619.9 452.7h0M622.5 447.1h0M621.6 447.1h0M622.1 447.7h0M619.9 449h0M621.1 446.7h0M620.5 450.8h0M619.6 448.5h0M618.6 451.3h0M620.8 448.1h0M619.3 444.4h0M619.1 444.8h0M618.6 448.5h0M620.1 443.9h0M620.5 446.7h0M620 450.9h0M619.6 460.5h0M618.3 459.7h0M621.3 458.8h0M619.5 455.3h0M620.7 455.2h0M619 460.6h0M622.7 458.3h0M618.5 456.4h0M621.2 458.3h0M618.8 456.5h0M620.2 456.7h0M619.3 457.6h0M622.5 458.1h0M622.6 457.3h0M619.2 457.1h0M618.9 455.6h0M619.6 455.1h0M620 459.9h0M619.4 459.4h0M619.8 456.1h0M631.9 457.9h0M635.1 463.7h0M632.1 466.1h0M631.4 461h0M634.4 459.4h0M634.6 463.6h0M633 460.6h0M632.3 455.5h0M631.9 466h0M631.1 456h0M630.9 461.8h0M635.3 460h0M632.7 456.9h0M632.2 466.1h0M634.3 462.2h0M630.3 460h0M634.1 460.5h0M635.1 461.8h0M635 466.5h0M631.8 465.2h0M630.9 465.1h0M630.9 457.6h0M641.8 469.1h0M639.7 465.6h0M639.5 457.1h0M641 460.8h0M639 463.3h0M640 461h0M639.2 465.5h0M641.7 460h0M637.7 467.5h0M641.3 470.6h0M638.5 461.7h0M640.4 465.9h0M638.2 463.1h0M642.6 464.9h0M638.1 459.4h0M640.4 468.4h0M638 457.7h0M639.3 462.1h0M640.1 458.5h0M639.2 471h0M642.7 459.7h0M639.9 457.8h0M637.8 461.3h0M637.6 458h0M638.9 468.2h0M638.1 463.4h0M639.2 461.7h0M640.3 463.7h0M639.5 456.9h0M641.8 470.3h0M639.2 459.4h0M642.2 461.3h0M639.2 470.7h0M641.7 457.7h0M642.7 466.6h0M640.3 468.6h0M640.9 459.2h0M639.2 463.5h0M639.9 466.8h0M640.2 461.5h0M638.6 463.2h0M641.1 470h0M642.1 467.1h0M641.3 457.8h0M642 462h0M641.2 470.1h0M638.8 460h0M641.6 471h0M639.3 458.1h0M640.6 463.8h0M614.9 471.4h0M619.2 467.2h0M614.8 469.8h0M626.4 467.9h0M621.8 465.6h0M618.9 470.7h0M615.5 471.8h0M613.2 470.1h0M621.5 467.9h0M615.9 473.1h0M627.7 467.8h0M617.3 473.2h0M621.8 465.9h0M625.2 467.1h0M616.8 468.2h0M616.4 468.2h0M622.5 466.6h0M613.5 468.7h0M620.3 470.3h0M617.7 468.6h0M627 466.3h0M617.3 473.1h0M626.8 465.2h0M618.2 468.1h0M620.5 466.5h0M617.2 470h0M622.8 465.2h0M623.2 472h0M621.6 467.2h0M623.5 468.4h0M615.3 471.4h0M625.5 467.4h0M623 465.8h0M624 465h0M626.5 466.9h0M643.3 523h0M640.3 529.8h0M642.1 524.5h0M639.6 516h0M641.6 516.6h0M640 517.7h0M641.4 520.2h0M643.4 515.3h0M642.9 514.2h0M642 515.1h0M642.9 515.6h0M642.2 522.3h0M641.8 513.7h0M640.4 525.7h0M642.6 517.7h0M641.2 529.7h0M641.7 529.9h0M643 515.3h0M641.4 519.5h0M642.9 517.5h0M641.1 514.8h0M643.4 520.2h0M639.9 521.4h0M640 528.5h0M641.3 524.1h0M640 528.4h0M639.5 521.9h0M641.3 524.4h0M641.9 526.5h0M643.3 513.6h0M639.9 529.7h0M640.5 518.4h0M639.6 524.5h0M640.9 516.1h0M641.6 515.3h0M642.9 527.3h0M643.3 519.9h0M641.7 522.5h0M643.5 519h0M640.4 518.8h0M639.2 520.5h0M643.5 525.6h0M642.6 515.6h0M641.5 522.3h0M641.3 515.6h0M642.6 515.3h0M639.2 515.1h0M640.9 515h0M641.9 518.8h0M641.9 524.4h0M639.2 529.2h0M639.5 521.6h0M642.7 522.6h0M640.5 513.4h0M640 530h0M642.5 524.9h0M640 524.3h0M641.5 527.2h0M642.8 517.1h0M641.1 516.9h0M591.3 447.5h0M588.2 451.3h0M591.6 456.3h0M589.8 463.6h0M605.3 448.1h0M610.5 448.6h0M610.5 450.8h0M601.8 452.1h0M603.9 453.8h0M607.9 455.6h0M604.8 461.3h0M608.8 460.4h0M608.8 463.5h0M583.9 456.4h0M582.6 459.7h0M624.1 464.8h0M621 468.7h0M608 499.5h0M611 503h0M614.5 501.5h0M614.3 508.6h0M614.8 511.3h0M609.4 514.6h0M610.6 515.7h0M612.9 517.5h0M608.3 522.5h0M609 525.9h0M613.6 526.5h0M581 482.5h0M585 486.5h0M587.7 486.5h0M590.5 483.3h0M592.2 486.6h0M586.2 492h0M584.8 496.3h0M593.2 493.7h0M589.4 497.2h0M584 498.1h0M601.6 503.6h0M590 508.8h0M605.3 499.9h0M642 488h0M643 490.5h0M641 493.5h0M641.5 498.4h0M641 500.5h0M642 509.5h0M639 511h0M640 505h0M627 476h0M625 470h0M545 478h0M538 476h0M533 476h0M527 475h0M548 461.5h0M552 460h0" stroke="#0000fa" stroke-width="2.5" stroke-linecap="round" fill="none"/>
<path d="M563.8 463.6h0M541.4 467.9h0M534.1 465.2h0M535.1 475.3h0M548.9 468.9h0M532 473.9h0M549.9 463.2h0M533.5 470h0M563.1 463.3h0M546.8 463.1h0M527.7 471h0M534.5 467.5h0M568.9 469.1h0M554 463.9h0M557 465.6h0M538.1 468.8h0M557 466.5h0M556.3 467h0M545.1 471.7h0M562.8 465h0M526 468.3h0M535.1 462.6h0M567.4 462.7h0M572.9 465.8h0M546 461.9h0M543.7 467.8h0M568.3 467.1h0M555.3 467.2h0M536 468.2h0M566.6 469h0M546.6 465.8h0M529.3 463.9h0M543.7 468.3h0M547.2 471.2h0M558.3 463.8h0M557.7 467.3h0M556.2 469.6h0M535.3 470.7h0M537.9 464.2h0M543.7 471h0M537.5 473.1h0M558 464.1h0M542.3 465h0M529.6 469.5h0M555.9 465.4h0M547.1 465.4h0M556.4 465.7h0M544.9 470.8h0M540.6 473h0M533.6 465.3h0M547.8 463.5h0M554.9 461.4h0M539.5 466.8h0M537.5 461.4h0M536.5 472.3h0M571.9 464.7h0M566 461.9h0M537 463.2h0M539.1 471h0M537.3 467.1h0M545.6 469h0M561.7 466.4h0M534.6 464.3h0M549.8 460.8h0M538.7 476h0M543.1 466.4h0M565.7 462.9h0M550.4 471.8h0M560.3 463.1h0M556.2 467.1h0M546.5 467.8h0M543.6 464.5h0M564.1 469.5h0M543.3 464.5h0M536.3 467.1h0M538.9 471.7h0M572 465.4h0M556 462h0M546 472.3h0M545.2 472h0M541.7 474.9h0M525.5 467h0M559.6 467.1h0M546.9 472.3h0M529.5 465.1h0M542.7 474.9h0M569.4 468.1h0M539.5 473.3h0M556 471.2h0M547.2 474.6h0M541.3 468.1h0M534.1 471.3h0M544.8 466.6h0M546.1 465.7h0M555.3 470.9h0M540 465.2h0M544.7 473h0M559.5 463.2h0M537.4 465.7h0M542.2 476.3h0M558.1 468.5h0M533 467.9h0M547.1 461.7h0M539.6 474.7h0M527.9 469.8h0M554 465h0M530.4 465.1h0M537.5 473.2h0M554.7 468.1h0M546.8 474.7h0M530 470.2h0M549.3 466.9h0M547.4 464.6h0M561.1 461.9h0M557.2 467.6h0M547.1 466.5h0M540.1 467.4h0M535.9 463.3h0M528 469.1h0M541.3 463.6h0M541.6 476.1h0M533.7 466.9h0M545 466.4h0M527.5 470.8h0M542.7 463.1h0M551.5 461.6h0M547.4 462.5h0M539.4 465.8h0M560.8 467.4h0M562.6 461.7h0M552 472.1h0M564.3 461.8h0M568 466.3h0M542.7 470.2h0M550.9 463.5h0M550.7 467.1h0M544.4 467.9h0M549.6 468.9h0M548.9 466.3h0M555.6 462.3h0M561.6 467.3h0M526.4 466.2h0M566 466.6h0M534.8 469.4h0M551.6 468.7h0M529.1 465.5h0M556 470.7h0M544 472.9h0M554.5 460.8h0M552.6 461.9h0M544.4 469.5h0M551.7 468.6h0M548.4 462.2h0M560.6 470.3h0M565.1 465h0M550.4 461.2h0M559.8 469.6h0M560.6 468.1h0M534.7 466.9h0M542.3 465.9h0M537.2 474.4h0M537.5 462h0M541.3 471.6h0M548.6 464.8h0M565.7 461.5h0M554.1 471.8h0M545.5 464.1h0M537.9 462.4h0M564.4 463.1h0M533.8 469.2h0M555.1 462.2h0M539 462.2h0M530.8 466.3h0M552 466.9h0M566.3 461.7h0M548.6 470.3h0M571.8 464.9h0M537.2 462.5h0M550 463h0M533.9 468h0M567.1 464.8h0M564.7 465.5h0M537 462.5h0M533.7 468.1h0M547.2 461.1h0M546.3 468.2h0M549.7 472.1h0M533.5 465h0M539.8 470h0M537.5 473.8h0M563.9 463.6h0M550.6 468h0M530 466.2h0M535 464.1h0M534.1 464.3h0M543 474.5h0M546.3 462.8h0M535.3 471.8h0M552.5 460.7h0M535 470.5h0M562.5 461.3h0M531.8 464.6h0M536.7 474.1h0M550.2 468.7h0M546.5 470.5h0M537.2 473.2h0M557.2 468h0M542.1 469.1h0M535.2 467.8h0M554.8 470.9h0M552.4 469.2h0M536.5 473.1h0M556 464.9h0M551.7 461.5h0M558.4 463.8h0M553.6 467.1h0M531.7 469.7h0M554.8 470.4h0M533.7 475.3h0M539.1 461.1h0M542 463.7h0M539.1 472.8h0M548.1 469.2h0M547.5 464.6h0M546.9 464.3h0M530.5 472.1h0M533.2 469.9h0M563.3 468.8h0M554.7 467.9h0M546.5 460.3h0M559.9 462.6h0M538.1 469h0M535.2 475.5h0M554.9 469h0M569.3 467.9h0M569.6 462.6h0M553.3 469.9h0M554.1 466h0M561.7 468.4h0M552.5 466h0M536.1 467.1h0M546.6 461.3h0M547.1 470.6h0M525.6 466h0M543.9 468.4h0M529.2 467.7h0M567.9 466.5h0M544 460.4h0M565.2 464.9h0M565.3 461.5h0M526.5 468.9h0M545.2 469.6h0M537.8 463.5h0M563.9 469.8h0M544.4 462.4h0M557.6 467.5h0M563.7 468.9h0M538.5 467.4h0M557.8 470.3h0M534.5 471.1h0M557.6 467h0M539.4 463.2h0M525.6 470.5h0M544.9 463.6h0M536.9 468.3h0M548.6 473.2h0M535.2 461.6h0M535.2 468.7h0M553.6 467.9h0M529.5 466.5h0M550.4 471.2h0M556.3 461.7h0M541.8 465.8h0M554.8 471.9h0M559.7 466.6h0M570.5 465.7h0M562.6 467.7h0M546.3 467.8h0M550.6 462h0M526.5 464.3h0M531 465.5h0M539.1 473h0M569.5 462.6h0M532.8 462.3h0M549.5 469.7h0M543.5 469h0M526.1 470.9h0M537.6 466.5h0M564.9 466.9h0M559.5 469.4h0M565.2 464.6h0M553.8 465.3h0M541.7 473.6h0M551.4 472.9h0M543 470.1h0M539.7 472.1h0M547.4 467.7h0M549.5 462h0M566.9 461.9h0M531.8 463.8h0M538.9 462.8h0M541.2 472h0M542.2 462.1h0M555.7 467.8h0M551 467.1h0M557.3 464.3h0M538.8 471.2h0M564.2 464.7h0M533.8 470h0M540.4 473.4h0M537.9 470.3h0M541.5 470.3h0M547.4 465.6h0M550.9 471.4h0M531 474.4h0M555.2 471.1h0M533 465.4h0M564.6 463.5h0M534.5 469h0M533.6 468.1h0M554.6 461h0M559 463.2h0M553.9 464.2h0M535.7 471.3h0M559.2 465.6h0M541.6 476h0M533 467h0M548 471.1h0M542.8 468.5h0M563.3 468.3h0M537.4 467.2h0M565.4 465.7h0M541.5 469.9h0M555.7 468.4h0M554.8 470.4h0M541.7 467.7h0M557.9 463.5h0M535.4 467h0M532.3 471.9h0M569.6 465.1h0M534.2 475.4h0M550.6 468.3h0M537.4 470.8h0M562.7 464.2h0M551.1 470.1h0M569.1 463.8h0M548.1 472.5h0M564 462.8h0M545.7 474.7h0M557.5 460.8h0M546.4 462.2h0M544.8 468.5h0M540 468.2h0M525.8 469.1h0M545 472.5h0M526 465.6h0M537.4 475.4h0M544.4 470h0M547.9 462.4h0M565.4 468.1h0M542.8 469.5h0M539 465.4h0M549.1 465.1h0M536.8 469.1h0M531.8 470.8h0M528.4 468.9h0M540.5 465h0M550.2 468.6h0M560.6 464.1h0M572.6 465.3h0M540.1 463.9h0M543.8 475.2h0M562.2 462.1h0M558.4 462.9h0M532.1 472.6h0M535.7 463h0M530.5 467.7h0M543.7 468.9h0M554.2 462.8h0M533.6 466.3h0M554.1 471.2h0M536.2 467.2h0M545.2 468.9h0M537.3 461.6h0M542.3 462.9h0M527 468.6h0M530.8 470.5h0M556.3 461.1h0M557.2 463.3h0M528.5 468.9h0M548.8 461.9h0M542.1 474.8h0M559.8 466.3h0M544.6 463.6h0M526.8 465.8h0M539.9 471.5h0M539.9 468.6h0M529.1 468.6h0M535.8 474.6h0M547.9 471.8h0M549.3 461.4h0M533.7 468.4h0M561.2 468.1h0M545.6 461.2h0M562 469h0M543.1 466.2h0M554.9 461h0M562.3 468.4h0M550.5 471.6h0M550.8 463.5h0M550.8 469.9h0M529.3 465.9h0M557.7 463.7h0M563.6 461.8h0M558.5 463.1h0M551.3 462.2h0M561.3 467.3h0M542.6 466.4h0M569.6 466.8h0M534.5 467.8h0M513 474h0M517 472.5h0M520.5 473.5h0M525 463h0M529 462h0M533 461h0" stroke="#8cf4fa" stroke-width="2.3" stroke-linecap="round" fill="none"/>
<path d="M568.2 475.8h0M561.2 478.1h0M556.3 479.2h0M548 479.1h0M547.1 474.7h0M549.1 473.9h0M571.4 475.4h0M564.7 470h0M561.2 474.5h0M560.4 471.8h0M558.5 477.8h0M567.6 475.2h0M560.3 473.6h0M549.3 478.9h0M561.8 473.9h0M565.2 473.6h0M554.1 473.6h0M571.2 472.1h0M564.4 470.7h0M561.8 479.4h0M563 471.6h0M566.2 476h0M564.8 476.9h0M561 474.5h0M552.2 473.9h0M569.1 472.8h0M562.9 478.4h0M572.7 475.6h0M563 474.4h0M558.6 474.3h0M564.4 472.8h0M552.1 475.7h0M560.4 479.7h0M548.9 474.7h0M549.3 477.8h0M562.1 475h0M553.3 477.9h0M563.1 477.5h0M550.5 475.8h0M554.2 472.8h0M570.8 472.7h0M558.8 480.3h0M562.3 477.1h0M558.1 475.2h0M556.7 473.2h0M556.2 477.4h0M566.1 476.8h0M564.2 472h0M555.7 477.3h0M550.3 477.8h0M557.3 477.4h0M565.2 476.8h0M572.5 472.6h0M566 476.6h0M571 469.7h0M557.3 478.1h0M573 477.1h0M573.2 476.1h0M571.4 473.7h0M568.6 469.7h0" stroke="#0000fa" stroke-width="2.5" stroke-linecap="round" fill="none"/>
<path d="M545.2 466.7h0M534.3 473.8h0M550.4 469.1h0M548.5 466.9h0M546.9 471h0M530.4 472.9h0M550 467.6h0M550.2 467.3h0M552.6 468.8h0M549.4 465.4h0M538.3 472.6h0M549.2 469.2h0M530.5 469.8h0M548.6 472.3h0M524.6 467.7h0M539 466.7h0M534.6 467.1h0M530.4 473.5h0M549.2 471.7h0M547.5 473.8h0M538.5 470.7h0M529.5 468.2h0M536.9 467.1h0M534.1 469.8h0M536.9 468.2h0M543 467.6h0M543.9 473.2h0M535.7 468.9h0M547.6 470.3h0M537.2 467.6h0M546.7 465.4h0M550.1 471.1h0M545 469.7h0M532.8 467.7h0M524.4 470.8h0M548.4 466.1h0M522.8 469.9h0M539.4 470.5h0M531.1 472.6h0M522.8 470.7h0M550.7 470.7h0M543.9 471h0M523.5 470h0M535.3 468.2h0M532.2 471.8h0M522.4 470.8h0M527.2 470.6h0M549.8 470.8h0M538.3 470.7h0M545.3 469.8h0M537.3 470.4h0M532.1 470.4h0M532.7 470.7h0M543.1 471.8h0M528.1 472.8h0M544.1 469.5h0M531.2 470.4h0M535.8 472h0M546.2 472.3h0M527.7 469.9h0M545.2 468.9h0M542.7 468.6h0M550 468.7h0M531.4 467.4h0M542.4 470.8h0M541.5 471.4h0M547.4 469.6h0M529 470.9h0M547.3 473h0M531.3 471.3h0M530.5 470.9h0M544.3 473.9h0M535.4 470.7h0M545.9 473.6h0M524.7 468.3h0M515.5 465h0M521 472.5h0M516.5 473.5h0M519 470h0M525 469h0" stroke="#6ec846" stroke-width="2.3" stroke-linecap="round" fill="none"/>
<path d="M533.9 463.7L539.5 469.3L533.9 474.9L528.3 469.3Z" fill="#f0ae6c" stroke="#262618" stroke-width="1.1" stroke-linejoin="round"/>
<circle cx="533.9" cy="469.3" r="0.5" fill="#8a6a40"/>
<path d="M542.2 477.4L547.2 469.3L537.2 469.3Z" fill="#f0ae6c" stroke="#262618" stroke-width="1.1" stroke-linejoin="round" transform="rotate(-10 542.2 472)"/>
<circle cx="542.2" cy="472" r="0.5" fill="#8a6a40"/>
<path d="M565.6 459.3L571.2 468.3L560 468.3Z" fill="#f0ae6c" stroke="#262618" stroke-width="1.1" stroke-linejoin="round"/>
<circle cx="565.6" cy="465.3" r="0.5" fill="#8a6a40"/>
</g>
<path d="M429.1 296.3L429.1 292.1M429.1 530L429.1 534.2M510.6 296.3L510.6 292.1M510.6 530L510.6 534.2M592 296.3L592 292.1M592 530L592 534.2M673.5 296.3L673.5 292.1M673.5 530L673.5 534.2M421.4 530L417.2 530M676.6 530L680.8 530M421.4 511.1L417.2 511.1M676.6 511.1L680.8 511.1M421.4 492.1L417.2 492.1M676.6 492.1L680.8 492.1M421.4 473.1L417.2 473.1M676.6 473.1L680.8 473.1M421.4 454.2L417.2 454.2M676.6 454.2L680.8 454.2M421.4 435.2L417.2 435.2M676.6 435.2L680.8 435.2M421.4 416.3L417.2 416.3M676.6 416.3L680.8 416.3M421.4 397.4L417.2 397.4M676.6 397.4L680.8 397.4M421.4 378.4L417.2 378.4M676.6 378.4L680.8 378.4M421.4 359.5L417.2 359.5M676.6 359.5L680.8 359.5M421.4 340.5L417.2 340.5M676.6 340.5L680.8 340.5M421.4 321.6L417.2 321.6M676.6 321.6L680.8 321.6M421.4 302.6L417.2 302.6M676.6 302.6L680.8 302.6" stroke="#505050" stroke-width="1" fill="none"/>
<path d="M421.2 296.3L421.2 294.1M421.2 530L421.2 532.2M425.4 296.3L425.4 294.1M425.4 530L425.4 532.2M453.6 296.3L453.6 294.1M453.6 530L453.6 532.2M468 296.3L468 294.1M468 530L468 532.2M478.1 296.3L478.1 294.1M478.1 530L478.1 532.2M486 296.3L486 294.1M486 530L486 532.2M492.5 296.3L492.5 294.1M492.5 530L492.5 532.2M497.9 296.3L497.9 294.1M497.9 530L497.9 532.2M502.7 296.3L502.7 294.1M502.7 530L502.7 532.2M506.8 296.3L506.8 294.1M506.8 530L506.8 532.2M535.1 296.3L535.1 294.1M535.1 530L535.1 532.2M549.4 296.3L549.4 294.1M549.4 530L549.4 532.2M559.6 296.3L559.6 294.1M559.6 530L559.6 532.2M567.5 296.3L567.5 294.1M567.5 530L567.5 532.2M573.9 296.3L573.9 294.1M573.9 530L573.9 532.2M579.4 296.3L579.4 294.1M579.4 530L579.4 532.2M584.1 296.3L584.1 294.1M584.1 530L584.1 532.2M588.3 296.3L588.3 294.1M588.3 530L588.3 532.2M616.5 296.3L616.5 294.1M616.5 530L616.5 532.2M630.9 296.3L630.9 294.1M630.9 530L630.9 532.2M641 296.3L641 294.1M641 530L641 532.2M648.9 296.3L648.9 294.1M648.9 530L648.9 532.2M655.4 296.3L655.4 294.1M655.4 530L655.4 532.2M660.8 296.3L660.8 294.1M660.8 530L660.8 532.2M665.6 296.3L665.6 294.1M665.6 530L665.6 532.2M669.7 296.3L669.7 294.1M669.7 530L669.7 532.2M421.4 524.3L419.2 524.3M676.6 524.3L678.8 524.3M421.4 521L419.2 521M676.6 521L678.8 521M421.4 518.6L419.2 518.6M676.6 518.6L678.8 518.6M421.4 516.8L419.2 516.8M676.6 516.8L678.8 516.8M421.4 515.3L419.2 515.3M676.6 515.3L678.8 515.3M421.4 514L419.2 514M676.6 514L678.8 514M421.4 512.9L419.2 512.9M676.6 512.9L678.8 512.9M421.4 511.9L419.2 511.9M676.6 511.9L678.8 511.9M421.4 505.3L419.2 505.3M676.6 505.3L678.8 505.3M421.4 502L419.2 502M676.6 502L678.8 502M421.4 499.6L419.2 499.6M676.6 499.6L678.8 499.6M421.4 497.8L419.2 497.8M676.6 497.8L678.8 497.8M421.4 496.3L419.2 496.3M676.6 496.3L678.8 496.3M421.4 495L419.2 495M676.6 495L678.8 495M421.4 493.9L419.2 493.9M676.6 493.9L678.8 493.9M421.4 493L419.2 493M676.6 493L678.8 493M421.4 486.4L419.2 486.4M676.6 486.4L678.8 486.4M421.4 483.1L419.2 483.1M676.6 483.1L678.8 483.1M421.4 480.7L419.2 480.7M676.6 480.7L678.8 480.7M421.4 478.9L419.2 478.9M676.6 478.9L678.8 478.9M421.4 477.4L419.2 477.4M676.6 477.4L678.8 477.4M421.4 476.1L419.2 476.1M676.6 476.1L678.8 476.1M421.4 475L419.2 475M676.6 475L678.8 475M421.4 474L419.2 474M676.6 474L678.8 474M421.4 467.4L419.2 467.4M676.6 467.4L678.8 467.4M421.4 464.1L419.2 464.1M676.6 464.1L678.8 464.1M421.4 461.7L419.2 461.7M676.6 461.7L678.8 461.7M421.4 459.9L419.2 459.9M676.6 459.9L678.8 459.9M421.4 458.4L419.2 458.4M676.6 458.4L678.8 458.4M421.4 457.1L419.2 457.1M676.6 457.1L678.8 457.1M421.4 456L419.2 456M676.6 456L678.8 456M421.4 455.1L419.2 455.1M676.6 455.1L678.8 455.1M421.4 448.5L419.2 448.5M676.6 448.5L678.8 448.5M421.4 445.2L419.2 445.2M676.6 445.2L678.8 445.2M421.4 442.8L419.2 442.8M676.6 442.8L678.8 442.8M421.4 441L419.2 441M676.6 441L678.8 441M421.4 439.5L419.2 439.5M676.6 439.5L678.8 439.5M421.4 438.2L419.2 438.2M676.6 438.2L678.8 438.2M421.4 437.1L419.2 437.1M676.6 437.1L678.8 437.1M421.4 436.1L419.2 436.1M676.6 436.1L678.8 436.1M421.4 429.5L419.2 429.5M676.6 429.5L678.8 429.5M421.4 426.2L419.2 426.2M676.6 426.2L678.8 426.2M421.4 423.8L419.2 423.8M676.6 423.8L678.8 423.8M421.4 422L419.2 422M676.6 422L678.8 422M421.4 420.5L419.2 420.5M676.6 420.5L678.8 420.5M421.4 419.2L419.2 419.2M676.6 419.2L678.8 419.2M421.4 418.1L419.2 418.1M676.6 418.1L678.8 418.1M421.4 417.2L419.2 417.2M676.6 417.2L678.8 417.2M421.4 410.6L419.2 410.6M676.6 410.6L678.8 410.6M421.4 407.3L419.2 407.3M676.6 407.3L678.8 407.3M421.4 404.9L419.2 404.9M676.6 404.9L678.8 404.9M421.4 403.1L419.2 403.1M676.6 403.1L678.8 403.1M421.4 401.6L419.2 401.6M676.6 401.6L678.8 401.6M421.4 400.3L419.2 400.3M676.6 400.3L678.8 400.3M421.4 399.2L419.2 399.2M676.6 399.2L678.8 399.2M421.4 398.2L419.2 398.2M676.6 398.2L678.8 398.2M421.4 391.6L419.2 391.6M676.6 391.6L678.8 391.6M421.4 388.3L419.2 388.3M676.6 388.3L678.8 388.3M421.4 385.9L419.2 385.9M676.6 385.9L678.8 385.9M421.4 384.1L419.2 384.1M676.6 384.1L678.8 384.1M421.4 382.6L419.2 382.6M676.6 382.6L678.8 382.6M421.4 381.3L419.2 381.3M676.6 381.3L678.8 381.3M421.4 380.2L419.2 380.2M676.6 380.2L678.8 380.2M421.4 379.3L419.2 379.3M676.6 379.3L678.8 379.3M421.4 372.7L419.2 372.7M676.6 372.7L678.8 372.7M421.4 369.4L419.2 369.4M676.6 369.4L678.8 369.4M421.4 367L419.2 367M676.6 367L678.8 367M421.4 365.2L419.2 365.2M676.6 365.2L678.8 365.2M421.4 363.7L419.2 363.7M676.6 363.7L678.8 363.7M421.4 362.4L419.2 362.4M676.6 362.4L678.8 362.4M421.4 361.3L419.2 361.3M676.6 361.3L678.8 361.3M421.4 360.3L419.2 360.3M676.6 360.3L678.8 360.3M421.4 353.7L419.2 353.7M676.6 353.7L678.8 353.7M421.4 350.4L419.2 350.4M676.6 350.4L678.8 350.4M421.4 348L419.2 348M676.6 348L678.8 348M421.4 346.2L419.2 346.2M676.6 346.2L678.8 346.2M421.4 344.7L419.2 344.7M676.6 344.7L678.8 344.7M421.4 343.4L419.2 343.4M676.6 343.4L678.8 343.4M421.4 342.3L419.2 342.3M676.6 342.3L678.8 342.3M421.4 341.4L419.2 341.4M676.6 341.4L678.8 341.4M421.4 334.8L419.2 334.8M676.6 334.8L678.8 334.8M421.4 331.5L419.2 331.5M676.6 331.5L678.8 331.5M421.4 329.1L419.2 329.1M676.6 329.1L678.8 329.1M421.4 327.3L419.2 327.3M676.6 327.3L678.8 327.3M421.4 325.8L419.2 325.8M676.6 325.8L678.8 325.8M421.4 324.5L419.2 324.5M676.6 324.5L678.8 324.5M421.4 323.4L419.2 323.4M676.6 323.4L678.8 323.4M421.4 322.4L419.2 322.4M676.6 322.4L678.8 322.4M421.4 315.8L419.2 315.8M676.6 315.8L678.8 315.8M421.4 312.5L419.2 312.5M676.6 312.5L678.8 312.5M421.4 310.1L419.2 310.1M676.6 310.1L678.8 310.1M421.4 308.3L419.2 308.3M676.6 308.3L678.8 308.3M421.4 306.8L419.2 306.8M676.6 306.8L678.8 306.8M421.4 305.5L419.2 305.5M676.6 305.5L678.8 305.5M421.4 304.4L419.2 304.4M676.6 304.4L678.8 304.4M421.4 303.5L419.2 303.5M676.6 303.5L678.8 303.5" stroke="#777" stroke-width="0.9" fill="none"/>
<path d="M421.4 296.3H676.6V530H421.4Z" stroke="#505050" stroke-width="1.3" fill="none"/>
<text x="60.2" y="535.4" font-size="12.5" text-anchor="end" fill="#1a1a1a" stroke="#1a1a1a">10<tspan font-size="9.5" dy="-6.7">-14</tspan></text>
<text x="60.2" y="502" font-size="12.5" text-anchor="end" fill="#1a1a1a" stroke="#1a1a1a">10<tspan font-size="9.5" dy="-6.7">-13</tspan></text>
<text x="60.2" y="468.6" font-size="12.5" text-anchor="end" fill="#1a1a1a" stroke="#1a1a1a">10<tspan font-size="9.5" dy="-6.7">-12</tspan></text>
<text x="60.2" y="435.3" font-size="12.5" text-anchor="end" fill="#1a1a1a" stroke="#1a1a1a">10<tspan font-size="9.5" dy="-6.7">-11</tspan></text>
<text x="60.2" y="401.9" font-size="12.5" text-anchor="end" fill="#1a1a1a" stroke="#1a1a1a">10<tspan font-size="9.5" dy="-6.7">-10</tspan></text>
<text x="60.2" y="368.5" font-size="12.5" text-anchor="end" fill="#1a1a1a" stroke="#1a1a1a">10<tspan font-size="9.5" dy="-6.7">-9</tspan></text>
<text x="60.2" y="335.1" font-size="12.5" text-anchor="end" fill="#1a1a1a" stroke="#1a1a1a">10<tspan font-size="9.5" dy="-6.7">-8</tspan></text>
<text x="60.2" y="301.7" font-size="12.5" text-anchor="end" fill="#1a1a1a" stroke="#1a1a1a">10<tspan font-size="9.5" dy="-6.7">-7</tspan></text>
<text x="413.4" y="535.4" font-size="12.5" text-anchor="end" fill="#1a1a1a" stroke="#1a1a1a">10<tspan font-size="9.5" dy="-6.7">-14</tspan></text>
<text x="413.4" y="516.5" font-size="12.5" text-anchor="end" fill="#1a1a1a" stroke="#1a1a1a">10<tspan font-size="9.5" dy="-6.7">-13</tspan></text>
<text x="413.4" y="497.5" font-size="12.5" text-anchor="end" fill="#1a1a1a" stroke="#1a1a1a">10<tspan font-size="9.5" dy="-6.7">-12</tspan></text>
<text x="413.4" y="478.5" font-size="12.5" text-anchor="end" fill="#1a1a1a" stroke="#1a1a1a">10<tspan font-size="9.5" dy="-6.7">-11</tspan></text>
<text x="413.4" y="459.6" font-size="12.5" text-anchor="end" fill="#1a1a1a" stroke="#1a1a1a">10<tspan font-size="9.5" dy="-6.7">-10</tspan></text>
<text x="413.4" y="440.6" font-size="12.5" text-anchor="end" fill="#1a1a1a" stroke="#1a1a1a">10<tspan font-size="9.5" dy="-6.7">-9</tspan></text>
<text x="413.4" y="421.7" font-size="12.5" text-anchor="end" fill="#1a1a1a" stroke="#1a1a1a">10<tspan font-size="9.5" dy="-6.7">-8</tspan></text>
<text x="413.4" y="402.8" font-size="12.5" text-anchor="end" fill="#1a1a1a" stroke="#1a1a1a">10<tspan font-size="9.5" dy="-6.7">-7</tspan></text>
<text x="413.4" y="383.8" font-size="12.5" text-anchor="end" fill="#1a1a1a" stroke="#1a1a1a">10<tspan font-size="9.5" dy="-6.7">-6</tspan></text>
<text x="413.4" y="364.9" font-size="12.5" text-anchor="end" fill="#1a1a1a" stroke="#1a1a1a">10<tspan font-size="9.5" dy="-6.7">-5</tspan></text>
<text x="413.4" y="345.9" font-size="12.5" text-anchor="end" fill="#1a1a1a" stroke="#1a1a1a">10<tspan font-size="9.5" dy="-6.7">-4</tspan></text>
<text x="413.4" y="326.9" font-size="12.5" text-anchor="end" fill="#1a1a1a" stroke="#1a1a1a">10<tspan font-size="9.5" dy="-6.7">-3</tspan></text>
<text x="413.4" y="308" font-size="12.5" text-anchor="end" fill="#1a1a1a" stroke="#1a1a1a">10<tspan font-size="9.5" dy="-6.7">-2</tspan></text>
<text x="75.4" y="548.6" font-size="12.5" text-anchor="middle" fill="#1a1a1a" stroke="#1a1a1a">10<tspan font-size="9.5" dy="-6.7">1</tspan></text>
<text x="428.9" y="548.6" font-size="12.5" text-anchor="middle" fill="#1a1a1a" stroke="#1a1a1a">10<tspan font-size="9.5" dy="-6.7">1</tspan></text>
<text x="157.7" y="548.6" font-size="12.5" text-anchor="middle" fill="#1a1a1a" stroke="#1a1a1a">10<tspan font-size="9.5" dy="-6.7">2</tspan></text>
<text x="510.4" y="548.6" font-size="12.5" text-anchor="middle" fill="#1a1a1a" stroke="#1a1a1a">10<tspan font-size="9.5" dy="-6.7">2</tspan></text>
<text x="240.1" y="548.6" font-size="12.5" text-anchor="middle" fill="#1a1a1a" stroke="#1a1a1a">10<tspan font-size="9.5" dy="-6.7">3</tspan></text>
<text x="591.8" y="548.6" font-size="12.5" text-anchor="middle" fill="#1a1a1a" stroke="#1a1a1a">10<tspan font-size="9.5" dy="-6.7">3</tspan></text>
<text x="322.4" y="548.6" font-size="12.5" text-anchor="middle" fill="#1a1a1a" stroke="#1a1a1a">10<tspan font-size="9.5" dy="-6.7">4</tspan></text>
<text x="673.2" y="548.6" font-size="12.5" text-anchor="middle" fill="#1a1a1a" stroke="#1a1a1a">10<tspan font-size="9.5" dy="-6.7">4</tspan></text>
<text x="195.3" y="564.7" font-size="12.5" text-anchor="middle" fill="#1a1a1a" stroke="#1a1a1a">m<tspan font-size="9.5" dy="3">&#967;</tspan><tspan dy="-3"> [GeV]</tspan></text>
<text x="549" y="564.7" font-size="12.5" text-anchor="middle" fill="#1a1a1a" stroke="#1a1a1a">m<tspan font-size="9.5" dy="3">&#967;</tspan><tspan dy="-3"> [GeV]</tspan></text>
<text transform="translate(13.4 413.5) rotate(-90)" font-size="12.5" text-anchor="middle" fill="#1a1a1a" stroke="#1a1a1a">&#963;<tspan font-size="9.5" dy="3">SI</tspan><tspan dy="-3"> [pb]</tspan></text>
<text transform="translate(366.2 413.4) rotate(-90)" font-size="12.5" text-anchor="middle" fill="#1a1a1a" stroke="#1a1a1a">&#963;<tspan font-size="9.5" dy="3">SD</tspan><tspan dy="-3"> [pb]</tspan></text>
<text transform="translate(253.8 388.5) rotate(-23)" font-size="11" fill="#111" stroke="#111">LZ(2022)</text>
<text transform="translate(542.1 325.0) rotate(-12.3)" font-size="11" fill="#111" stroke="#111">LZ(2022)</text>
<text transform="translate(600.3 337.4) rotate(-13)" font-size="11" fill="#e02020" stroke="#e02020">PICO-60(2019)</text>
<text transform="translate(209.2 444.5) rotate(-20)" font-size="15" fill="#a0522d" stroke="#a0522d">&#957; fog</text>
</svg></body></html>
